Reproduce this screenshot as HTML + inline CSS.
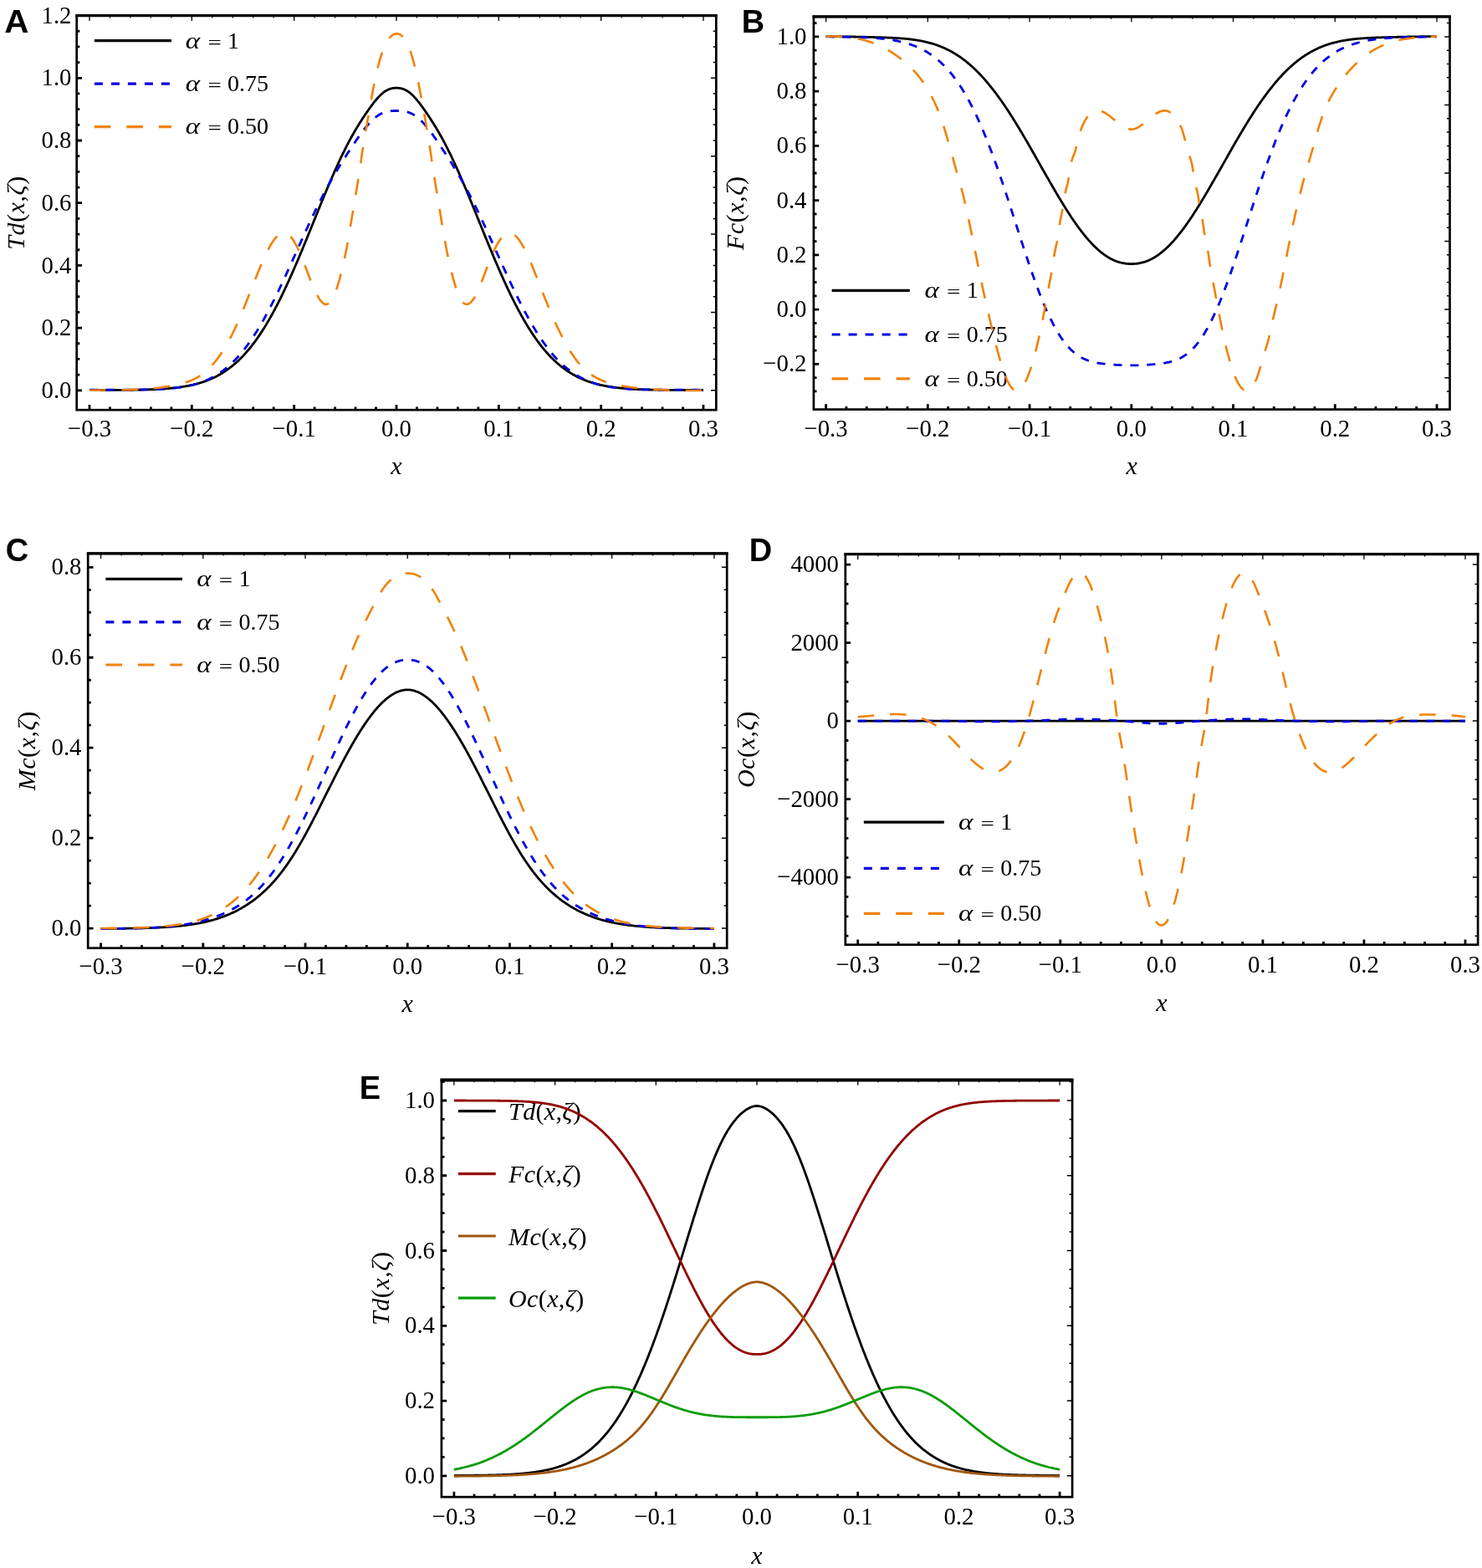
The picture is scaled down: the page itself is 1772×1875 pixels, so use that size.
<!DOCTYPE html>
<html><head><meta charset="utf-8"><title>Figure</title>
<style>
html,body{margin:0;padding:0;background:#fff;overflow:hidden;}
svg{display:block;}
.t{font-family:'Liberation Serif','Times New Roman',serif;font-size:30px;fill:#000;}
.lg{font-family:'Liberation Serif','Times New Roman',serif;font-size:28px;fill:#000;}
.yl{letter-spacing:0.55px;}
.el{letter-spacing:0.35px;}
.L{font-family:'Liberation Sans',Arial,sans-serif;font-size:38px;font-weight:bold;fill:#000;}
</style></head><body>
<svg width="1772" height="1875" viewBox="0 0 1772 1875">
<rect width="1772" height="1875" fill="#fff"/>
<path d="M107.00 490.20V483.90M229.33 490.20V483.90M351.67 490.20V483.90M474.00 490.20V483.90M596.33 490.20V483.90M718.67 490.20V483.90M841.00 490.20V483.90M131.47 490.20V486.60M155.93 490.20V486.60M180.40 490.20V486.60M204.87 490.20V486.60M253.80 490.20V486.60M278.27 490.20V486.60M302.73 490.20V486.60M327.20 490.20V486.60M376.13 490.20V486.60M400.60 490.20V486.60M425.07 490.20V486.60M449.53 490.20V486.60M498.47 490.20V486.60M522.93 490.20V486.60M547.40 490.20V486.60M571.87 490.20V486.60M620.80 490.20V486.60M645.27 490.20V486.60M669.73 490.20V486.60M694.20 490.20V486.60M743.13 490.20V486.60M767.60 490.20V486.60M792.07 490.20V486.60M816.53 490.20V486.60M91.70 466.80H98.00M91.70 392.10H98.00M91.70 317.40H98.00M91.70 242.70H98.00M91.70 168.00H98.00M91.70 93.30H98.00M91.70 18.60H98.00M91.70 448.12H95.30M91.70 429.45H95.30M91.70 410.77H95.30M91.70 373.43H95.30M91.70 354.75H95.30M91.70 336.07H95.30M91.70 298.73H95.30M91.70 280.05H95.30M91.70 261.38H95.30M91.70 224.03H95.30M91.70 205.35H95.30M91.70 186.68H95.30M91.70 149.32H95.30M91.70 130.65H95.30M91.70 111.97H95.30M91.70 74.62H95.30M91.70 55.95H95.30M91.70 37.27H95.30" stroke="#000" stroke-width="2.8" fill="none"/>
<path d="M107.00 18.60V24.90M229.33 18.60V24.90M351.67 18.60V24.90M474.00 18.60V24.90M596.33 18.60V24.90M718.67 18.60V24.90M841.00 18.60V24.90" stroke="#000" stroke-width="1.3" fill="none"/>
<path d="M131.47 18.60V21.40M155.93 18.60V21.40M180.40 18.60V21.40M204.87 18.60V21.40M253.80 18.60V21.40M278.27 18.60V21.40M302.73 18.60V21.40M327.20 18.60V21.40M376.13 18.60V21.40M400.60 18.60V21.40M425.07 18.60V21.40M449.53 18.60V21.40M498.47 18.60V21.40M522.93 18.60V21.40M547.40 18.60V21.40M571.87 18.60V21.40M620.80 18.60V21.40M645.27 18.60V21.40M669.73 18.60V21.40M694.20 18.60V21.40M743.13 18.60V21.40M767.60 18.60V21.40M792.07 18.60V21.40M816.53 18.60V21.40" stroke="#000" stroke-width="1.2" fill="none"/>
<path d="M856.30 466.80H850.00M856.30 373.43H850.00M856.30 280.05H850.00M856.30 186.68H850.00M856.30 93.30H850.00M856.30 448.12H852.70M856.30 429.45H852.70M856.30 410.77H852.70M856.30 392.10H852.70M856.30 354.75H852.70M856.30 336.07H852.70M856.30 317.40H852.70M856.30 298.73H852.70M856.30 261.38H852.70M856.30 242.70H852.70M856.30 224.03H852.70M856.30 205.35H852.70M856.30 168.00H852.70M856.30 149.32H852.70M856.30 130.65H852.70M856.30 111.97H852.70M856.30 74.62H852.70M856.30 55.95H852.70M856.30 37.27H852.70" stroke="#000" stroke-width="1.5" fill="none"/>
<rect x="91.70" y="18.60" width="764.60" height="471.60" fill="none" stroke="#000" stroke-width="2.7"/>
<path d="M90.35 18.60H857.65" stroke="#000" stroke-width="3.2" fill="none"/>
<text transform="translate(107.00 522.30) scale(0.96 1)" text-anchor="middle" class="t">−0.3</text>
<text transform="translate(229.33 522.30) scale(0.96 1)" text-anchor="middle" class="t">−0.2</text>
<text transform="translate(351.67 522.30) scale(0.96 1)" text-anchor="middle" class="t">−0.1</text>
<text transform="translate(474.00 522.30) scale(0.96 1)" text-anchor="middle" class="t">0.0</text>
<text transform="translate(596.33 522.30) scale(0.96 1)" text-anchor="middle" class="t">0.1</text>
<text transform="translate(718.67 522.30) scale(0.96 1)" text-anchor="middle" class="t">0.2</text>
<text transform="translate(841.00 522.30) scale(0.96 1)" text-anchor="middle" class="t">0.3</text>
<text transform="translate(85.50 475.90) scale(0.96 1)" text-anchor="end" class="t">0.0</text>
<text transform="translate(85.50 401.20) scale(0.96 1)" text-anchor="end" class="t">0.2</text>
<text transform="translate(85.50 326.50) scale(0.96 1)" text-anchor="end" class="t">0.4</text>
<text transform="translate(85.50 251.80) scale(0.96 1)" text-anchor="end" class="t">0.6</text>
<text transform="translate(85.50 177.10) scale(0.96 1)" text-anchor="end" class="t">0.8</text>
<text transform="translate(85.50 102.40) scale(0.96 1)" text-anchor="end" class="t">1.0</text>
<text transform="translate(85.50 27.70) scale(0.96 1)" text-anchor="end" class="t">1.2</text>
<text x="474.00" y="567.00" text-anchor="middle" class="t"><tspan font-style="italic">x</tspan></text>
<text transform="translate(28.60 254.40) rotate(-90)" text-anchor="middle" class="t yl"><tspan font-style="italic">Td</tspan>(<tspan font-style="italic">x</tspan>,<tspan font-style="italic">ζ</tspan>)</text>
<text transform="translate(5.20 38.50) scale(1.065 1.02)" class="L">A</text>
<path d="M987.60 489.60V483.30M1109.33 489.60V483.30M1231.07 489.60V483.30M1352.80 489.60V483.30M1474.53 489.60V483.30M1596.27 489.60V483.30M1718.00 489.60V483.30M1011.95 489.60V486.00M1036.29 489.60V486.00M1060.64 489.60V486.00M1084.99 489.60V486.00M1133.68 489.60V486.00M1158.03 489.60V486.00M1182.37 489.60V486.00M1206.72 489.60V486.00M1255.41 489.60V486.00M1279.76 489.60V486.00M1304.11 489.60V486.00M1328.45 489.60V486.00M1377.15 489.60V486.00M1401.49 489.60V486.00M1425.84 489.60V486.00M1450.19 489.60V486.00M1498.88 489.60V486.00M1523.23 489.60V486.00M1547.57 489.60V486.00M1571.92 489.60V486.00M1620.61 489.60V486.00M1644.96 489.60V486.00M1669.31 489.60V486.00M1693.65 489.60V486.00M972.90 435.34H979.20M972.90 370.10H979.20M972.90 304.86H979.20M972.90 239.62H979.20M972.90 174.38H979.20M972.90 109.14H979.20M972.90 43.90H979.20M972.90 467.96H976.50M972.90 451.65H976.50M972.90 419.03H976.50M972.90 402.72H976.50M972.90 386.41H976.50M972.90 353.79H976.50M972.90 337.48H976.50M972.90 321.17H976.50M972.90 288.55H976.50M972.90 272.24H976.50M972.90 255.93H976.50M972.90 223.31H976.50M972.90 207.00H976.50M972.90 190.69H976.50M972.90 158.07H976.50M972.90 141.76H976.50M972.90 125.45H976.50M972.90 92.83H976.50M972.90 76.52H976.50M972.90 60.21H976.50M972.90 27.59H976.50" stroke="#000" stroke-width="2.8" fill="none"/>
<path d="M987.60 19.90V26.20M1109.33 19.90V26.20M1231.07 19.90V26.20M1352.80 19.90V26.20M1474.53 19.90V26.20M1596.27 19.90V26.20M1718.00 19.90V26.20" stroke="#000" stroke-width="1.3" fill="none"/>
<path d="M1011.95 19.90V22.70M1036.29 19.90V22.70M1060.64 19.90V22.70M1084.99 19.90V22.70M1133.68 19.90V22.70M1158.03 19.90V22.70M1182.37 19.90V22.70M1206.72 19.90V22.70M1255.41 19.90V22.70M1279.76 19.90V22.70M1304.11 19.90V22.70M1328.45 19.90V22.70M1377.15 19.90V22.70M1401.49 19.90V22.70M1425.84 19.90V22.70M1450.19 19.90V22.70M1498.88 19.90V22.70M1523.23 19.90V22.70M1547.57 19.90V22.70M1571.92 19.90V22.70M1620.61 19.90V22.70M1644.96 19.90V22.70M1669.31 19.90V22.70M1693.65 19.90V22.70" stroke="#000" stroke-width="1.2" fill="none"/>
<path d="M1733.50 451.65H1727.20M1733.50 370.10H1727.20M1733.50 288.55H1727.20M1733.50 207.00H1727.20M1733.50 125.45H1727.20M1733.50 43.90H1727.20M1733.50 467.96H1729.90M1733.50 435.34H1729.90M1733.50 419.03H1729.90M1733.50 402.72H1729.90M1733.50 386.41H1729.90M1733.50 353.79H1729.90M1733.50 337.48H1729.90M1733.50 321.17H1729.90M1733.50 304.86H1729.90M1733.50 272.24H1729.90M1733.50 255.93H1729.90M1733.50 239.62H1729.90M1733.50 223.31H1729.90M1733.50 190.69H1729.90M1733.50 174.38H1729.90M1733.50 158.07H1729.90M1733.50 141.76H1729.90M1733.50 109.14H1729.90M1733.50 92.83H1729.90M1733.50 76.52H1729.90M1733.50 60.21H1729.90M1733.50 27.59H1729.90" stroke="#000" stroke-width="1.5" fill="none"/>
<rect x="972.90" y="19.90" width="760.60" height="469.70" fill="none" stroke="#000" stroke-width="2.7"/>
<path d="M971.55 19.90H1734.85" stroke="#000" stroke-width="3.2" fill="none"/>
<text transform="translate(987.60 522.30) scale(0.96 1)" text-anchor="middle" class="t">−0.3</text>
<text transform="translate(1109.33 522.30) scale(0.96 1)" text-anchor="middle" class="t">−0.2</text>
<text transform="translate(1231.07 522.30) scale(0.96 1)" text-anchor="middle" class="t">−0.1</text>
<text transform="translate(1352.80 522.30) scale(0.96 1)" text-anchor="middle" class="t">0.0</text>
<text transform="translate(1474.53 522.30) scale(0.96 1)" text-anchor="middle" class="t">0.1</text>
<text transform="translate(1596.27 522.30) scale(0.96 1)" text-anchor="middle" class="t">0.2</text>
<text transform="translate(1718.00 522.30) scale(0.96 1)" text-anchor="middle" class="t">0.3</text>
<text transform="translate(964.50 444.44) scale(0.96 1)" text-anchor="end" class="t">−0.2</text>
<text transform="translate(964.50 379.20) scale(0.96 1)" text-anchor="end" class="t">0.0</text>
<text transform="translate(964.50 313.96) scale(0.96 1)" text-anchor="end" class="t">0.2</text>
<text transform="translate(964.50 248.72) scale(0.96 1)" text-anchor="end" class="t">0.4</text>
<text transform="translate(964.50 183.48) scale(0.96 1)" text-anchor="end" class="t">0.6</text>
<text transform="translate(964.50 118.24) scale(0.96 1)" text-anchor="end" class="t">0.8</text>
<text transform="translate(964.50 53.00) scale(0.96 1)" text-anchor="end" class="t">1.0</text>
<text x="1353.20" y="567.00" text-anchor="middle" class="t"><tspan font-style="italic">x</tspan></text>
<text transform="translate(889.00 254.75) rotate(-90)" text-anchor="middle" class="t yl"><tspan font-style="italic">Fc</tspan>(<tspan font-style="italic">x</tspan>,<tspan font-style="italic">ζ</tspan>)</text>
<text x="886.70" y="38.50" class="L">B</text>
<path d="M120.60 1133.70V1127.40M242.82 1133.70V1127.40M365.03 1133.70V1127.40M487.25 1133.70V1127.40M609.47 1133.70V1127.40M731.68 1133.70V1127.40M853.90 1133.70V1127.40M145.04 1133.70V1130.10M169.49 1133.70V1130.10M193.93 1133.70V1130.10M218.37 1133.70V1130.10M267.26 1133.70V1130.10M291.70 1133.70V1130.10M316.15 1133.70V1130.10M340.59 1133.70V1130.10M389.48 1133.70V1130.10M413.92 1133.70V1130.10M438.36 1133.70V1130.10M462.81 1133.70V1130.10M511.69 1133.70V1130.10M536.14 1133.70V1130.10M560.58 1133.70V1130.10M585.02 1133.70V1130.10M633.91 1133.70V1130.10M658.35 1133.70V1130.10M682.80 1133.70V1130.10M707.24 1133.70V1130.10M756.13 1133.70V1130.10M780.57 1133.70V1130.10M805.01 1133.70V1130.10M829.46 1133.70V1130.10M105.20 1110.10H111.50M105.20 1002.15H111.50M105.20 894.20H111.50M105.20 786.25H111.50M105.20 678.30H111.50M105.20 1083.11H108.80M105.20 1056.12H108.80M105.20 1029.14H108.80M105.20 975.16H108.80M105.20 948.17H108.80M105.20 921.19H108.80M105.20 867.21H108.80M105.20 840.22H108.80M105.20 813.24H108.80M105.20 759.26H108.80M105.20 732.27H108.80M105.20 705.29H108.80" stroke="#000" stroke-width="2.8" fill="none"/>
<path d="M120.60 661.80V668.10M242.82 661.80V668.10M365.03 661.80V668.10M487.25 661.80V668.10M609.47 661.80V668.10M731.68 661.80V668.10M853.90 661.80V668.10" stroke="#000" stroke-width="1.3" fill="none"/>
<path d="M145.04 661.80V664.60M169.49 661.80V664.60M193.93 661.80V664.60M218.37 661.80V664.60M267.26 661.80V664.60M291.70 661.80V664.60M316.15 661.80V664.60M340.59 661.80V664.60M389.48 661.80V664.60M413.92 661.80V664.60M438.36 661.80V664.60M462.81 661.80V664.60M511.69 661.80V664.60M536.14 661.80V664.60M560.58 661.80V664.60M585.02 661.80V664.60M633.91 661.80V664.60M658.35 661.80V664.60M682.80 661.80V664.60M707.24 661.80V664.60M756.13 661.80V664.60M780.57 661.80V664.60M805.01 661.80V664.60M829.46 661.80V664.60" stroke="#000" stroke-width="1.2" fill="none"/>
<path d="M869.20 1110.10H862.90M869.20 1002.15H862.90M869.20 894.20H862.90M869.20 786.25H862.90M869.20 678.30H862.90M869.20 1083.11H865.60M869.20 1056.12H865.60M869.20 1029.14H865.60M869.20 975.16H865.60M869.20 948.17H865.60M869.20 921.19H865.60M869.20 867.21H865.60M869.20 840.22H865.60M869.20 813.24H865.60M869.20 759.26H865.60M869.20 732.27H865.60M869.20 705.29H865.60" stroke="#000" stroke-width="1.5" fill="none"/>
<rect x="105.20" y="661.80" width="764.00" height="471.90" fill="none" stroke="#000" stroke-width="2.7"/>
<path d="M103.85 661.80H870.55" stroke="#000" stroke-width="3.2" fill="none"/>
<text transform="translate(120.60 1165.30) scale(0.96 1)" text-anchor="middle" class="t">−0.3</text>
<text transform="translate(242.82 1165.30) scale(0.96 1)" text-anchor="middle" class="t">−0.2</text>
<text transform="translate(365.03 1165.30) scale(0.96 1)" text-anchor="middle" class="t">−0.1</text>
<text transform="translate(487.25 1165.30) scale(0.96 1)" text-anchor="middle" class="t">0.0</text>
<text transform="translate(609.47 1165.30) scale(0.96 1)" text-anchor="middle" class="t">0.1</text>
<text transform="translate(731.68 1165.30) scale(0.96 1)" text-anchor="middle" class="t">0.2</text>
<text transform="translate(853.90 1165.30) scale(0.96 1)" text-anchor="middle" class="t">0.3</text>
<text transform="translate(97.50 1119.20) scale(0.96 1)" text-anchor="end" class="t">0.0</text>
<text transform="translate(97.50 1011.25) scale(0.96 1)" text-anchor="end" class="t">0.2</text>
<text transform="translate(97.50 903.30) scale(0.96 1)" text-anchor="end" class="t">0.4</text>
<text transform="translate(97.50 795.35) scale(0.96 1)" text-anchor="end" class="t">0.6</text>
<text transform="translate(97.50 687.40) scale(0.96 1)" text-anchor="end" class="t">0.8</text>
<text x="487.20" y="1210.00" text-anchor="middle" class="t"><tspan font-style="italic">x</tspan></text>
<text transform="translate(42.00 897.75) rotate(-90)" text-anchor="middle" class="t yl"><tspan font-style="italic">Mc</tspan>(<tspan font-style="italic">x</tspan>,<tspan font-style="italic">ζ</tspan>)</text>
<text x="6.70" y="670.50" class="L">C</text>
<path d="M1025.70 1129.70V1123.40M1146.75 1129.70V1123.40M1267.80 1129.70V1123.40M1388.85 1129.70V1123.40M1509.90 1129.70V1123.40M1630.95 1129.70V1123.40M1752.00 1129.70V1123.40M1049.91 1129.70V1126.10M1074.12 1129.70V1126.10M1098.33 1129.70V1126.10M1122.54 1129.70V1126.10M1170.96 1129.70V1126.10M1195.17 1129.70V1126.10M1219.38 1129.70V1126.10M1243.59 1129.70V1126.10M1292.01 1129.70V1126.10M1316.22 1129.70V1126.10M1340.43 1129.70V1126.10M1364.64 1129.70V1126.10M1413.06 1129.70V1126.10M1437.27 1129.70V1126.10M1461.48 1129.70V1126.10M1485.69 1129.70V1126.10M1534.11 1129.70V1126.10M1558.32 1129.70V1126.10M1582.53 1129.70V1126.10M1606.74 1129.70V1126.10M1655.16 1129.70V1126.10M1679.37 1129.70V1126.10M1703.58 1129.70V1126.10M1727.79 1129.70V1126.10M1010.80 1049.10H1017.10M1010.80 955.60H1017.10M1010.80 862.10H1017.10M1010.80 768.60H1017.10M1010.80 675.10H1017.10M1010.80 1119.22H1014.40M1010.80 1095.85H1014.40M1010.80 1072.47H1014.40M1010.80 1025.72H1014.40M1010.80 1002.35H1014.40M1010.80 978.98H1014.40M1010.80 932.23H1014.40M1010.80 908.85H1014.40M1010.80 885.48H1014.40M1010.80 838.73H1014.40M1010.80 815.35H1014.40M1010.80 791.98H1014.40M1010.80 745.23H1014.40M1010.80 721.85H1014.40M1010.80 698.48H1014.40" stroke="#000" stroke-width="2.8" fill="none"/>
<path d="M1025.70 662.70V669.00M1146.75 662.70V669.00M1267.80 662.70V669.00M1388.85 662.70V669.00M1509.90 662.70V669.00M1630.95 662.70V669.00M1752.00 662.70V669.00" stroke="#000" stroke-width="1.3" fill="none"/>
<path d="M1049.91 662.70V665.50M1074.12 662.70V665.50M1098.33 662.70V665.50M1122.54 662.70V665.50M1170.96 662.70V665.50M1195.17 662.70V665.50M1219.38 662.70V665.50M1243.59 662.70V665.50M1292.01 662.70V665.50M1316.22 662.70V665.50M1340.43 662.70V665.50M1364.64 662.70V665.50M1413.06 662.70V665.50M1437.27 662.70V665.50M1461.48 662.70V665.50M1485.69 662.70V665.50M1534.11 662.70V665.50M1558.32 662.70V665.50M1582.53 662.70V665.50M1606.74 662.70V665.50M1655.16 662.70V665.50M1679.37 662.70V665.50M1703.58 662.70V665.50M1727.79 662.70V665.50" stroke="#000" stroke-width="1.2" fill="none"/>
<path d="M1767.10 1049.10H1760.80M1767.10 955.60H1760.80M1767.10 862.10H1760.80M1767.10 768.60H1760.80M1767.10 675.10H1760.80M1767.10 1119.22H1763.50M1767.10 1095.85H1763.50M1767.10 1072.47H1763.50M1767.10 1025.72H1763.50M1767.10 1002.35H1763.50M1767.10 978.98H1763.50M1767.10 932.23H1763.50M1767.10 908.85H1763.50M1767.10 885.48H1763.50M1767.10 838.73H1763.50M1767.10 815.35H1763.50M1767.10 791.98H1763.50M1767.10 745.23H1763.50M1767.10 721.85H1763.50M1767.10 698.48H1763.50" stroke="#000" stroke-width="1.5" fill="none"/>
<rect x="1010.80" y="662.70" width="756.30" height="467.00" fill="none" stroke="#000" stroke-width="2.7"/>
<path d="M1009.45 662.70H1768.45" stroke="#000" stroke-width="3.2" fill="none"/>
<text transform="translate(1025.70 1162.80) scale(0.96 1)" text-anchor="middle" class="t">−0.3</text>
<text transform="translate(1146.75 1162.80) scale(0.96 1)" text-anchor="middle" class="t">−0.2</text>
<text transform="translate(1267.80 1162.80) scale(0.96 1)" text-anchor="middle" class="t">−0.1</text>
<text transform="translate(1388.85 1162.80) scale(0.96 1)" text-anchor="middle" class="t">0.0</text>
<text transform="translate(1509.90 1162.80) scale(0.96 1)" text-anchor="middle" class="t">0.1</text>
<text transform="translate(1630.95 1162.80) scale(0.96 1)" text-anchor="middle" class="t">0.2</text>
<text transform="translate(1752.00 1162.80) scale(0.96 1)" text-anchor="middle" class="t">0.3</text>
<text transform="translate(1003.00 1058.20) scale(0.96 1)" text-anchor="end" class="t">−4000</text>
<text transform="translate(1003.00 964.70) scale(0.96 1)" text-anchor="end" class="t">−2000</text>
<text transform="translate(1003.00 871.20) scale(0.96 1)" text-anchor="end" class="t">0</text>
<text transform="translate(1003.00 777.70) scale(0.96 1)" text-anchor="end" class="t">2000</text>
<text transform="translate(1003.00 684.20) scale(0.96 1)" text-anchor="end" class="t">4000</text>
<text x="1388.95" y="1209.00" text-anchor="middle" class="t"><tspan font-style="italic">x</tspan></text>
<text transform="translate(902.00 896.20) rotate(-90)" text-anchor="middle" class="t yl"><tspan font-style="italic">Oc</tspan>(<tspan font-style="italic">x</tspan>,<tspan font-style="italic">ζ</tspan>)</text>
<text x="895.70" y="670.50" class="L">D</text>
<path d="M542.90 1790.10V1783.80M663.60 1790.10V1783.80M784.30 1790.10V1783.80M905.00 1790.10V1783.80M1025.70 1790.10V1783.80M1146.40 1790.10V1783.80M1267.10 1790.10V1783.80M567.04 1790.10V1786.50M591.18 1790.10V1786.50M615.32 1790.10V1786.50M639.46 1790.10V1786.50M687.74 1790.10V1786.50M711.88 1790.10V1786.50M736.02 1790.10V1786.50M760.16 1790.10V1786.50M808.44 1790.10V1786.50M832.58 1790.10V1786.50M856.72 1790.10V1786.50M880.86 1790.10V1786.50M929.14 1790.10V1786.50M953.28 1790.10V1786.50M977.42 1790.10V1786.50M1001.56 1790.10V1786.50M1049.84 1790.10V1786.50M1073.98 1790.10V1786.50M1098.12 1790.10V1786.50M1122.26 1790.10V1786.50M1170.54 1790.10V1786.50M1194.68 1790.10V1786.50M1218.82 1790.10V1786.50M1242.96 1790.10V1786.50M527.90 1764.80H534.20M527.90 1675.04H534.20M527.90 1585.28H534.20M527.90 1495.52H534.20M527.90 1405.76H534.20M527.90 1316.00H534.20M527.90 1742.36H531.50M527.90 1719.92H531.50M527.90 1697.48H531.50M527.90 1652.60H531.50M527.90 1630.16H531.50M527.90 1607.72H531.50M527.90 1562.84H531.50M527.90 1540.40H531.50M527.90 1517.96H531.50M527.90 1473.08H531.50M527.90 1450.64H531.50M527.90 1428.20H531.50M527.90 1383.32H531.50M527.90 1360.88H531.50M527.90 1338.44H531.50M527.90 1293.56H531.50" stroke="#000" stroke-width="2.8" fill="none"/>
<path d="M542.90 1291.50V1297.80M663.60 1291.50V1297.80M784.30 1291.50V1297.80M905.00 1291.50V1297.80M1025.70 1291.50V1297.80M1146.40 1291.50V1297.80M1267.10 1291.50V1297.80" stroke="#000" stroke-width="1.3" fill="none"/>
<path d="M567.04 1291.50V1294.30M591.18 1291.50V1294.30M615.32 1291.50V1294.30M639.46 1291.50V1294.30M687.74 1291.50V1294.30M711.88 1291.50V1294.30M736.02 1291.50V1294.30M760.16 1291.50V1294.30M808.44 1291.50V1294.30M832.58 1291.50V1294.30M856.72 1291.50V1294.30M880.86 1291.50V1294.30M929.14 1291.50V1294.30M953.28 1291.50V1294.30M977.42 1291.50V1294.30M1001.56 1291.50V1294.30M1049.84 1291.50V1294.30M1073.98 1291.50V1294.30M1098.12 1291.50V1294.30M1122.26 1291.50V1294.30M1170.54 1291.50V1294.30M1194.68 1291.50V1294.30M1218.82 1291.50V1294.30M1242.96 1291.50V1294.30" stroke="#000" stroke-width="1.2" fill="none"/>
<path d="M1282.10 1764.80H1275.80M1282.10 1675.04H1275.80M1282.10 1585.28H1275.80M1282.10 1495.52H1275.80M1282.10 1405.76H1275.80M1282.10 1316.00H1275.80M1282.10 1742.36H1278.50M1282.10 1719.92H1278.50M1282.10 1697.48H1278.50M1282.10 1652.60H1278.50M1282.10 1630.16H1278.50M1282.10 1607.72H1278.50M1282.10 1562.84H1278.50M1282.10 1540.40H1278.50M1282.10 1517.96H1278.50M1282.10 1473.08H1278.50M1282.10 1450.64H1278.50M1282.10 1428.20H1278.50M1282.10 1383.32H1278.50M1282.10 1360.88H1278.50M1282.10 1338.44H1278.50M1282.10 1293.56H1278.50" stroke="#000" stroke-width="1.5" fill="none"/>
<rect x="527.90" y="1291.50" width="754.20" height="498.60" fill="none" stroke="#000" stroke-width="2.7"/>
<path d="M526.55 1291.50H1283.45" stroke="#000" stroke-width="3.8" fill="none"/>
<text transform="translate(542.90 1823.30) scale(0.96 1)" text-anchor="middle" class="t">−0.3</text>
<text transform="translate(663.60 1823.30) scale(0.96 1)" text-anchor="middle" class="t">−0.2</text>
<text transform="translate(784.30 1823.30) scale(0.96 1)" text-anchor="middle" class="t">−0.1</text>
<text transform="translate(905.00 1823.30) scale(0.96 1)" text-anchor="middle" class="t">0.0</text>
<text transform="translate(1025.70 1823.30) scale(0.96 1)" text-anchor="middle" class="t">0.1</text>
<text transform="translate(1146.40 1823.30) scale(0.96 1)" text-anchor="middle" class="t">0.2</text>
<text transform="translate(1267.10 1823.30) scale(0.96 1)" text-anchor="middle" class="t">0.3</text>
<text transform="translate(520.00 1773.90) scale(0.96 1)" text-anchor="end" class="t">0.0</text>
<text transform="translate(520.00 1684.14) scale(0.96 1)" text-anchor="end" class="t">0.2</text>
<text transform="translate(520.00 1594.38) scale(0.96 1)" text-anchor="end" class="t">0.4</text>
<text transform="translate(520.00 1504.62) scale(0.96 1)" text-anchor="end" class="t">0.6</text>
<text transform="translate(520.00 1414.86) scale(0.96 1)" text-anchor="end" class="t">0.8</text>
<text transform="translate(520.00 1325.10) scale(0.96 1)" text-anchor="end" class="t">1.0</text>
<text x="905.00" y="1869.70" text-anchor="middle" class="t"><tspan font-style="italic">x</tspan></text>
<text transform="translate(465.00 1540.80) rotate(-90)" text-anchor="middle" class="t yl"><tspan font-style="italic">Td</tspan>(<tspan font-style="italic">x</tspan>,<tspan font-style="italic">ζ</tspan>)</text>
<text x="429.70" y="1313.80" class="L">E</text>
<path d="M112.9 48.7H205.0" stroke="#000" stroke-width="3.2" fill="none"/>
<text transform="translate(221.8 57.5) scale(1.18 1)" class="lg" font-style="italic">α</text>
<text transform="translate(248.4 57.5) scale(1.16 0.8)" class="lg" style="font-size:25px">=</text>
<text x="272.1" y="57.5" class="lg">1</text>
<path d="M112.9 100.2H205.0" stroke="#0000e0" stroke-width="3.2" fill="none" stroke-dasharray="10 10"/>
<text transform="translate(221.8 109.0) scale(1.18 1)" class="lg" font-style="italic">α</text>
<text transform="translate(248.4 109.0) scale(1.16 0.8)" class="lg" style="font-size:25px">=</text>
<text x="272.1" y="109.0" class="lg">0.75</text>
<path d="M112.9 151.6H205.0" stroke="#f08205" stroke-width="3.2" fill="none" stroke-dasharray="19.5 19"/>
<text transform="translate(221.8 160.4) scale(1.18 1)" class="lg" font-style="italic">α</text>
<text transform="translate(248.4 160.4) scale(1.16 0.8)" class="lg" style="font-size:25px">=</text>
<text x="272.1" y="160.4" class="lg">0.50</text>
<path d="M994.6 347.4H1087.8" stroke="#000" stroke-width="3.2" fill="none"/>
<text transform="translate(1105.4 356.2) scale(1.18 1)" class="lg" font-style="italic">α</text>
<text transform="translate(1132.0 356.2) scale(1.16 0.8)" class="lg" style="font-size:25px">=</text>
<text x="1155.7" y="356.2" class="lg">1</text>
<path d="M994.6 400.0H1087.8" stroke="#0000e0" stroke-width="3.2" fill="none" stroke-dasharray="10 10"/>
<text transform="translate(1105.4 408.8) scale(1.18 1)" class="lg" font-style="italic">α</text>
<text transform="translate(1132.0 408.8) scale(1.16 0.8)" class="lg" style="font-size:25px">=</text>
<text x="1155.7" y="408.8" class="lg">0.75</text>
<path d="M994.6 452.8H1087.8" stroke="#f08205" stroke-width="3.2" fill="none" stroke-dasharray="19.5 19"/>
<text transform="translate(1105.4 461.6) scale(1.18 1)" class="lg" font-style="italic">α</text>
<text transform="translate(1132.0 461.6) scale(1.16 0.8)" class="lg" style="font-size:25px">=</text>
<text x="1155.7" y="461.6" class="lg">0.50</text>
<path d="M126.4 692.3H218.0" stroke="#000" stroke-width="3.2" fill="none"/>
<text transform="translate(235.2 701.1) scale(1.18 1)" class="lg" font-style="italic">α</text>
<text transform="translate(261.8 701.1) scale(1.16 0.8)" class="lg" style="font-size:25px">=</text>
<text x="285.5" y="701.1" class="lg">1</text>
<path d="M126.4 743.8H218.0" stroke="#0000e0" stroke-width="3.2" fill="none" stroke-dasharray="10 10"/>
<text transform="translate(235.2 752.6) scale(1.18 1)" class="lg" font-style="italic">α</text>
<text transform="translate(261.8 752.6) scale(1.16 0.8)" class="lg" style="font-size:25px">=</text>
<text x="285.5" y="752.6" class="lg">0.75</text>
<path d="M126.4 795.0H218.0" stroke="#f08205" stroke-width="3.2" fill="none" stroke-dasharray="19.5 19"/>
<text transform="translate(235.2 803.8) scale(1.18 1)" class="lg" font-style="italic">α</text>
<text transform="translate(261.8 803.8) scale(1.16 0.8)" class="lg" style="font-size:25px">=</text>
<text x="285.5" y="803.8" class="lg">0.50</text>
<path d="M1032.8 983.2H1128.8" stroke="#000" stroke-width="3.2" fill="none"/>
<text transform="translate(1146.0 992.0) scale(1.18 1)" class="lg" font-style="italic">α</text>
<text transform="translate(1172.6 992.0) scale(1.16 0.8)" class="lg" style="font-size:25px">=</text>
<text x="1196.3" y="992.0" class="lg">1</text>
<path d="M1032.8 1038.4H1128.8" stroke="#0000e0" stroke-width="3.2" fill="none" stroke-dasharray="10 10"/>
<text transform="translate(1146.0 1047.2) scale(1.18 1)" class="lg" font-style="italic">α</text>
<text transform="translate(1172.6 1047.2) scale(1.16 0.8)" class="lg" style="font-size:25px">=</text>
<text x="1196.3" y="1047.2" class="lg">0.75</text>
<path d="M1032.8 1092.4H1128.8" stroke="#f08205" stroke-width="3.2" fill="none" stroke-dasharray="19.5 19"/>
<text transform="translate(1146.0 1101.2) scale(1.18 1)" class="lg" font-style="italic">α</text>
<text transform="translate(1172.6 1101.2) scale(1.16 0.8)" class="lg" style="font-size:25px">=</text>
<text x="1196.3" y="1101.2" class="lg">0.50</text>
<path d="M547.9 1328.7H592.7" stroke="#000" stroke-width="3.2" fill="none"/>
<text x="608.1" y="1339.2" class="t el"><tspan font-style="italic">Td</tspan>(<tspan font-style="italic">x</tspan>,<tspan font-style="italic">ζ</tspan>)</text>
<path d="M547.9 1403.7H592.7" stroke="#930000" stroke-width="3.2" fill="none"/>
<text x="608.1" y="1414.2" class="t el"><tspan font-style="italic">Fc</tspan>(<tspan font-style="italic">x</tspan>,<tspan font-style="italic">ζ</tspan>)</text>
<path d="M547.9 1478.0H592.7" stroke="#a0560c" stroke-width="3.2" fill="none"/>
<text x="608.1" y="1488.5" class="t el"><tspan font-style="italic">Mc</tspan>(<tspan font-style="italic">x</tspan>,<tspan font-style="italic">ζ</tspan>)</text>
<path d="M547.9 1552.2H592.7" stroke="#0a9c0a" stroke-width="3.2" fill="none"/>
<text x="608.1" y="1562.7" class="t el"><tspan font-style="italic">Oc</tspan>(<tspan font-style="italic">x</tspan>,<tspan font-style="italic">ζ</tspan>)</text>
<path d="M107.0 466.53 L108.0 466.52 L109.0 466.52 L110.0 466.52 L111.0 466.52 L112.0 466.52 L113.0 466.52 L114.0 466.52 L115.0 466.51 L116.0 466.51 L117.0 466.51 L118.0 466.51 L119.0 466.51 L120.0 466.51 L121.0 466.50 L122.0 466.50 L123.0 466.50 L124.0 466.50 L125.0 466.49 L126.0 466.49 L127.0 466.49 L128.0 466.48 L129.0 466.48 L130.0 466.48 L131.0 466.47 L132.0 466.47 L133.0 466.47 L134.0 466.46 L135.0 466.46 L136.0 466.45 L137.0 466.45 L138.0 466.44 L139.0 466.44 L140.0 466.43 L141.0 466.42 L142.0 466.42 L143.0 466.41 L144.0 466.40 L145.0 466.40 L146.0 466.39 L147.0 466.38 L148.0 466.37 L149.0 466.36 L150.0 466.35 L151.0 466.34 L152.0 466.33 L153.0 466.32 L154.0 466.31 L155.0 466.30 L156.0 466.29 L157.0 466.27 L158.0 466.26 L159.0 466.25 L160.0 466.23 L161.0 466.22 L162.0 466.20 L163.0 466.18 L164.0 466.16 L165.0 466.14 L166.0 466.12 L167.0 466.10 L168.0 466.08 L169.0 466.06 L170.0 466.04 L171.0 466.01 L172.0 465.99 L173.0 465.96 L174.0 465.93 L175.0 465.90 L176.0 465.87 L177.0 465.84 L178.0 465.81 L179.0 465.77 L180.0 465.74 L181.0 465.70 L182.0 465.66 L183.0 465.62 L184.0 465.58 L185.0 465.53 L186.0 465.49 L187.0 465.44 L188.0 465.39 L189.0 465.34 L190.0 465.28 L191.0 465.23 L192.0 465.17 L193.0 465.11 L194.0 465.05 L195.0 464.98 L196.0 464.91 L197.0 464.84 L198.0 464.77 L199.0 464.69 L200.0 464.61 L201.0 464.53 L202.0 464.44 L203.0 464.36 L204.0 464.26 L205.0 464.17 L206.0 464.07 L207.0 463.97 L208.0 463.86 L209.0 463.75 L210.0 463.64 L211.0 463.52 L212.0 463.39 L213.0 463.27 L214.0 463.14 L215.0 463.00 L216.0 462.86 L217.0 462.71 L218.0 462.56 L219.0 462.41 L220.0 462.24 L221.0 462.08 L222.0 461.90 L223.0 461.73 L224.0 461.54 L225.0 461.35 L226.0 461.15 L227.0 460.95 L228.0 460.74 L229.0 460.52 L230.0 460.30 L231.0 460.07 L232.0 459.83 L233.0 459.59 L234.0 459.33 L235.0 459.07 L236.0 458.80 L237.0 458.53 L238.0 458.24 L239.0 457.94 L240.0 457.64 L241.0 457.33 L242.0 457.01 L243.0 456.68 L244.0 456.33 L245.0 455.98 L246.0 455.62 L247.0 455.25 L248.0 454.87 L249.0 454.48 L250.0 454.07 L251.0 453.66 L252.0 453.23 L253.0 452.79 L254.0 452.34 L255.0 451.88 L256.0 451.41 L257.0 450.92 L258.0 450.42 L259.0 449.91 L260.0 449.38 L261.0 448.84 L262.0 448.29 L263.0 447.72 L264.0 447.14 L265.0 446.54 L266.0 445.93 L267.0 445.30 L268.0 444.66 L269.0 444.00 L270.0 443.33 L271.0 442.64 L272.0 441.94 L273.0 441.22 L274.0 440.48 L275.0 439.73 L276.0 438.95 L277.0 438.16 L278.0 437.36 L279.0 436.53 L280.0 435.69 L281.0 434.83 L282.0 433.95 L283.0 433.05 L284.0 432.14 L285.0 431.20 L286.0 430.25 L287.0 429.27 L288.0 428.28 L289.0 427.27 L290.0 426.23 L291.0 425.18 L292.0 424.11 L293.0 423.01 L294.0 421.90 L295.0 420.76 L296.0 419.60 L297.0 418.43 L298.0 417.23 L299.0 416.01 L300.0 414.76 L301.0 413.50 L302.0 412.21 L303.0 410.91 L304.0 409.58 L305.0 408.23 L306.0 406.85 L307.0 405.46 L308.0 404.04 L309.0 402.60 L310.0 401.14 L311.0 399.65 L312.0 398.14 L313.0 396.61 L314.0 395.06 L315.0 393.49 L316.0 391.89 L317.0 390.27 L318.0 388.63 L319.0 386.97 L320.0 385.28 L321.0 383.57 L322.0 381.84 L323.0 380.09 L324.0 378.31 L325.0 376.52 L326.0 374.70 L327.0 372.86 L328.0 371.00 L329.0 369.12 L330.0 367.22 L331.0 365.30 L332.0 363.35 L333.0 361.39 L334.0 359.40 L335.0 357.40 L336.0 355.37 L337.0 353.33 L338.0 351.27 L339.0 349.19 L340.0 347.09 L341.0 344.97 L342.0 342.83 L343.0 340.68 L344.0 338.51 L345.0 336.32 L346.0 334.12 L347.0 331.89 L348.0 329.66 L349.0 327.41 L350.0 325.14 L351.0 322.86 L352.0 320.56 L353.0 318.26 L354.0 315.94 L355.0 313.60 L356.0 311.26 L357.0 308.90 L358.0 306.53 L359.0 304.15 L360.0 301.76 L361.0 299.36 L362.0 296.96 L363.0 294.54 L364.0 292.12 L365.0 289.69 L366.0 287.25 L367.0 284.80 L368.0 282.36 L369.0 279.90 L370.0 277.45 L371.0 274.99 L372.0 272.52 L373.0 270.06 L374.0 267.59 L375.0 265.12 L376.0 262.65 L377.0 260.19 L378.0 257.72 L379.0 255.25 L380.0 252.79 L381.0 250.33 L382.0 247.88 L383.0 245.43 L384.0 242.98 L385.0 240.55 L386.0 238.11 L387.0 235.69 L388.0 233.27 L389.0 230.87 L390.0 228.47 L391.0 226.08 L392.0 223.70 L393.0 221.34 L394.0 218.99 L395.0 216.65 L396.0 214.32 L397.0 212.01 L398.0 209.72 L399.0 207.44 L400.0 205.18 L401.0 202.93 L402.0 200.70 L403.0 198.49 L404.0 196.30 L405.0 194.13 L406.0 191.98 L407.0 189.85 L408.0 187.75 L409.0 185.66 L410.0 183.60 L411.0 181.56 L412.0 179.54 L413.0 177.55 L414.0 175.58 L415.0 173.64 L416.0 171.72 L417.0 169.82 L418.0 167.95 L419.0 166.11 L420.0 164.29 L421.0 162.49 L422.0 160.72 L423.0 158.97 L424.0 157.24 L425.0 155.54 L426.0 153.85 L427.0 152.19 L428.0 150.55 L429.0 148.93 L430.0 147.33 L431.0 145.74 L432.0 144.18 L433.0 142.63 L434.0 141.09 L435.0 139.57 L436.0 138.07 L437.0 136.58 L438.0 135.11 L439.0 133.66 L440.0 132.22 L441.0 130.79 L442.0 129.39 L443.0 128.00 L444.0 126.64 L445.0 125.30 L446.0 123.98 L447.0 122.69 L448.0 121.42 L449.0 120.19 L450.0 119.00 L451.0 117.84 L452.0 116.72 L453.0 115.64 L454.0 114.61 L455.0 113.62 L456.0 112.68 L457.0 111.80 L458.0 110.97 L459.0 110.19 L460.0 109.48 L461.0 108.81 L462.0 108.21 L463.0 107.67 L464.0 107.18 L465.0 106.75 L466.0 106.38 L467.0 106.06 L468.0 105.80 L469.0 105.59 L470.0 105.43 L471.0 105.31 L472.0 105.24 L473.0 105.20 L474.0 105.19 L475.0 105.20 L476.0 105.24 L477.0 105.31 L478.0 105.43 L479.0 105.59 L480.0 105.80 L481.0 106.06 L482.0 106.38 L483.0 106.75 L484.0 107.18 L485.0 107.67 L486.0 108.21 L487.0 108.81 L488.0 109.48 L489.0 110.19 L490.0 110.97 L491.0 111.80 L492.0 112.68 L493.0 113.62 L494.0 114.61 L495.0 115.64 L496.0 116.72 L497.0 117.84 L498.0 119.00 L499.0 120.19 L500.0 121.42 L501.0 122.69 L502.0 123.98 L503.0 125.30 L504.0 126.64 L505.0 128.00 L506.0 129.39 L507.0 130.79 L508.0 132.22 L509.0 133.66 L510.0 135.11 L511.0 136.58 L512.0 138.07 L513.0 139.57 L514.0 141.09 L515.0 142.63 L516.0 144.18 L517.0 145.74 L518.0 147.33 L519.0 148.93 L520.0 150.55 L521.0 152.19 L522.0 153.85 L523.0 155.54 L524.0 157.24 L525.0 158.97 L526.0 160.72 L527.0 162.49 L528.0 164.29 L529.0 166.11 L530.0 167.95 L531.0 169.82 L532.0 171.72 L533.0 173.64 L534.0 175.58 L535.0 177.55 L536.0 179.54 L537.0 181.56 L538.0 183.60 L539.0 185.66 L540.0 187.75 L541.0 189.85 L542.0 191.98 L543.0 194.13 L544.0 196.30 L545.0 198.49 L546.0 200.70 L547.0 202.93 L548.0 205.18 L549.0 207.44 L550.0 209.72 L551.0 212.01 L552.0 214.32 L553.0 216.65 L554.0 218.99 L555.0 221.34 L556.0 223.70 L557.0 226.08 L558.0 228.47 L559.0 230.87 L560.0 233.27 L561.0 235.69 L562.0 238.11 L563.0 240.55 L564.0 242.98 L565.0 245.43 L566.0 247.88 L567.0 250.33 L568.0 252.79 L569.0 255.25 L570.0 257.72 L571.0 260.19 L572.0 262.65 L573.0 265.12 L574.0 267.59 L575.0 270.06 L576.0 272.52 L577.0 274.99 L578.0 277.45 L579.0 279.90 L580.0 282.36 L581.0 284.80 L582.0 287.25 L583.0 289.69 L584.0 292.12 L585.0 294.54 L586.0 296.96 L587.0 299.36 L588.0 301.76 L589.0 304.15 L590.0 306.53 L591.0 308.90 L592.0 311.26 L593.0 313.60 L594.0 315.94 L595.0 318.26 L596.0 320.56 L597.0 322.86 L598.0 325.14 L599.0 327.41 L600.0 329.66 L601.0 331.89 L602.0 334.12 L603.0 336.32 L604.0 338.51 L605.0 340.68 L606.0 342.83 L607.0 344.97 L608.0 347.09 L609.0 349.19 L610.0 351.27 L611.0 353.33 L612.0 355.37 L613.0 357.40 L614.0 359.40 L615.0 361.39 L616.0 363.35 L617.0 365.30 L618.0 367.22 L619.0 369.12 L620.0 371.00 L621.0 372.86 L622.0 374.70 L623.0 376.52 L624.0 378.31 L625.0 380.09 L626.0 381.84 L627.0 383.57 L628.0 385.28 L629.0 386.97 L630.0 388.63 L631.0 390.27 L632.0 391.89 L633.0 393.49 L634.0 395.06 L635.0 396.61 L636.0 398.14 L637.0 399.65 L638.0 401.14 L639.0 402.60 L640.0 404.04 L641.0 405.46 L642.0 406.85 L643.0 408.23 L644.0 409.58 L645.0 410.91 L646.0 412.21 L647.0 413.50 L648.0 414.76 L649.0 416.01 L650.0 417.23 L651.0 418.43 L652.0 419.60 L653.0 420.76 L654.0 421.90 L655.0 423.01 L656.0 424.11 L657.0 425.18 L658.0 426.23 L659.0 427.27 L660.0 428.28 L661.0 429.27 L662.0 430.25 L663.0 431.20 L664.0 432.14 L665.0 433.05 L666.0 433.95 L667.0 434.83 L668.0 435.69 L669.0 436.53 L670.0 437.36 L671.0 438.16 L672.0 438.95 L673.0 439.73 L674.0 440.48 L675.0 441.22 L676.0 441.94 L677.0 442.64 L678.0 443.33 L679.0 444.00 L680.0 444.66 L681.0 445.30 L682.0 445.93 L683.0 446.54 L684.0 447.14 L685.0 447.72 L686.0 448.29 L687.0 448.84 L688.0 449.38 L689.0 449.91 L690.0 450.42 L691.0 450.92 L692.0 451.41 L693.0 451.88 L694.0 452.34 L695.0 452.79 L696.0 453.23 L697.0 453.66 L698.0 454.07 L699.0 454.48 L700.0 454.87 L701.0 455.25 L702.0 455.62 L703.0 455.98 L704.0 456.33 L705.0 456.68 L706.0 457.01 L707.0 457.33 L708.0 457.64 L709.0 457.94 L710.0 458.24 L711.0 458.53 L712.0 458.80 L713.0 459.07 L714.0 459.33 L715.0 459.59 L716.0 459.83 L717.0 460.07 L718.0 460.30 L719.0 460.52 L720.0 460.74 L721.0 460.95 L722.0 461.15 L723.0 461.35 L724.0 461.54 L725.0 461.73 L726.0 461.90 L727.0 462.08 L728.0 462.24 L729.0 462.41 L730.0 462.56 L731.0 462.71 L732.0 462.86 L733.0 463.00 L734.0 463.14 L735.0 463.27 L736.0 463.39 L737.0 463.52 L738.0 463.64 L739.0 463.75 L740.0 463.86 L741.0 463.97 L742.0 464.07 L743.0 464.17 L744.0 464.26 L745.0 464.36 L746.0 464.44 L747.0 464.53 L748.0 464.61 L749.0 464.69 L750.0 464.77 L751.0 464.84 L752.0 464.91 L753.0 464.98 L754.0 465.05 L755.0 465.11 L756.0 465.17 L757.0 465.23 L758.0 465.28 L759.0 465.34 L760.0 465.39 L761.0 465.44 L762.0 465.49 L763.0 465.53 L764.0 465.58 L765.0 465.62 L766.0 465.66 L767.0 465.70 L768.0 465.74 L769.0 465.77 L770.0 465.81 L771.0 465.84 L772.0 465.87 L773.0 465.90 L774.0 465.93 L775.0 465.96 L776.0 465.99 L777.0 466.01 L778.0 466.04 L779.0 466.06 L780.0 466.08 L781.0 466.10 L782.0 466.12 L783.0 466.14 L784.0 466.16 L785.0 466.18 L786.0 466.20 L787.0 466.22 L788.0 466.23 L789.0 466.25 L790.0 466.26 L791.0 466.27 L792.0 466.29 L793.0 466.30 L794.0 466.31 L795.0 466.32 L796.0 466.33 L797.0 466.34 L798.0 466.35 L799.0 466.36 L800.0 466.37 L801.0 466.38 L802.0 466.39 L803.0 466.40 L804.0 466.40 L805.0 466.41 L806.0 466.42 L807.0 466.42 L808.0 466.43 L809.0 466.44 L810.0 466.44 L811.0 466.45 L812.0 466.45 L813.0 466.46 L814.0 466.46 L815.0 466.47 L816.0 466.47 L817.0 466.47 L818.0 466.48 L819.0 466.48 L820.0 466.48 L821.0 466.49 L822.0 466.49 L823.0 466.49 L824.0 466.50 L825.0 466.50 L826.0 466.50 L827.0 466.50 L828.0 466.51 L829.0 466.51 L830.0 466.51 L831.0 466.51 L832.0 466.51 L833.0 466.51 L834.0 466.52 L835.0 466.52 L836.0 466.52 L837.0 466.52 L838.0 466.52 L839.0 466.52 L840.0 466.52 L841.0 466.53" fill="none" stroke="#000" stroke-width="2.8" stroke-linejoin="round"/>
<path d="M107.0 466.23 L108.0 466.23 L109.0 466.23 L110.0 466.23 L111.0 466.23 L112.0 466.23 L113.0 466.23 L114.0 466.23 L115.0 466.22 L116.0 466.22 L117.0 466.22 L118.0 466.22 L119.0 466.22 L120.0 466.22 L121.0 466.22 L122.0 466.22 L123.0 466.22 L124.0 466.22 L125.0 466.22 L126.0 466.22 L127.0 466.22 L128.0 466.21 L129.0 466.21 L130.0 466.21 L131.0 466.21 L132.0 466.21 L133.0 466.21 L134.0 466.20 L135.0 466.20 L136.0 466.20 L137.0 466.20 L138.0 466.20 L139.0 466.19 L140.0 466.19 L141.0 466.19 L142.0 466.18 L143.0 466.18 L144.0 466.18 L145.0 466.17 L146.0 466.17 L147.0 466.17 L148.0 466.16 L149.0 466.16 L150.0 466.15 L151.0 466.15 L152.0 466.14 L153.0 466.13 L154.0 466.13 L155.0 466.12 L156.0 466.11 L157.0 466.11 L158.0 466.10 L159.0 466.09 L160.0 466.08 L161.0 466.07 L162.0 466.06 L163.0 466.05 L164.0 466.04 L165.0 466.02 L166.0 466.01 L167.0 466.00 L168.0 465.98 L169.0 465.97 L170.0 465.95 L171.0 465.93 L172.0 465.92 L173.0 465.90 L174.0 465.88 L175.0 465.86 L176.0 465.83 L177.0 465.81 L178.0 465.78 L179.0 465.76 L180.0 465.73 L181.0 465.70 L182.0 465.67 L183.0 465.64 L184.0 465.60 L185.0 465.57 L186.0 465.53 L187.0 465.49 L188.0 465.45 L189.0 465.41 L190.0 465.36 L191.0 465.31 L192.0 465.26 L193.0 465.21 L194.0 465.16 L195.0 465.10 L196.0 465.04 L197.0 464.98 L198.0 464.91 L199.0 464.84 L200.0 464.77 L201.0 464.69 L202.0 464.61 L203.0 464.53 L204.0 464.44 L205.0 464.35 L206.0 464.26 L207.0 464.16 L208.0 464.06 L209.0 463.95 L210.0 463.84 L211.0 463.72 L212.0 463.60 L213.0 463.47 L214.0 463.34 L215.0 463.20 L216.0 463.06 L217.0 462.91 L218.0 462.75 L219.0 462.59 L220.0 462.43 L221.0 462.25 L222.0 462.07 L223.0 461.88 L224.0 461.69 L225.0 461.48 L226.0 461.27 L227.0 461.06 L228.0 460.83 L229.0 460.60 L230.0 460.35 L231.0 460.10 L232.0 459.84 L233.0 459.57 L234.0 459.29 L235.0 459.00 L236.0 458.70 L237.0 458.39 L238.0 458.07 L239.0 457.74 L240.0 457.40 L241.0 457.04 L242.0 456.68 L243.0 456.30 L244.0 455.91 L245.0 455.51 L246.0 455.09 L247.0 454.67 L248.0 454.23 L249.0 453.77 L250.0 453.31 L251.0 452.82 L252.0 452.33 L253.0 451.82 L254.0 451.29 L255.0 450.75 L256.0 450.19 L257.0 449.62 L258.0 449.03 L259.0 448.43 L260.0 447.81 L261.0 447.17 L262.0 446.52 L263.0 445.85 L264.0 445.16 L265.0 444.45 L266.0 443.72 L267.0 442.98 L268.0 442.22 L269.0 441.44 L270.0 440.64 L271.0 439.82 L272.0 438.98 L273.0 438.12 L274.0 437.24 L275.0 436.34 L276.0 435.42 L277.0 434.48 L278.0 433.52 L279.0 432.54 L280.0 431.54 L281.0 430.52 L282.0 429.47 L283.0 428.40 L284.0 427.32 L285.0 426.21 L286.0 425.08 L287.0 423.92 L288.0 422.75 L289.0 421.55 L290.0 420.33 L291.0 419.08 L292.0 417.82 L293.0 416.53 L294.0 415.22 L295.0 413.89 L296.0 412.53 L297.0 411.15 L298.0 409.75 L299.0 408.33 L300.0 406.89 L301.0 405.42 L302.0 403.93 L303.0 402.42 L304.0 400.88 L305.0 399.33 L306.0 397.75 L307.0 396.15 L308.0 394.53 L309.0 392.88 L310.0 391.22 L311.0 389.53 L312.0 387.83 L313.0 386.10 L314.0 384.35 L315.0 382.59 L316.0 380.80 L317.0 378.99 L318.0 377.17 L319.0 375.32 L320.0 373.46 L321.0 371.57 L322.0 369.67 L323.0 367.75 L324.0 365.82 L325.0 363.86 L326.0 361.90 L327.0 359.91 L328.0 357.91 L329.0 355.89 L330.0 353.86 L331.0 351.82 L332.0 349.76 L333.0 347.68 L334.0 345.60 L335.0 343.50 L336.0 341.39 L337.0 339.27 L338.0 337.13 L339.0 334.99 L340.0 332.84 L341.0 330.68 L342.0 328.51 L343.0 326.33 L344.0 324.14 L345.0 321.95 L346.0 319.75 L347.0 317.54 L348.0 315.33 L349.0 313.12 L350.0 310.90 L351.0 308.68 L352.0 306.46 L353.0 304.23 L354.0 302.01 L355.0 299.78 L356.0 297.55 L357.0 295.33 L358.0 293.10 L359.0 290.88 L360.0 288.66 L361.0 286.44 L362.0 284.23 L363.0 282.02 L364.0 279.82 L365.0 277.62 L366.0 275.43 L367.0 273.24 L368.0 271.07 L369.0 268.90 L370.0 266.74 L371.0 264.60 L372.0 262.46 L373.0 260.33 L374.0 258.22 L375.0 256.11 L376.0 254.02 L377.0 251.94 L378.0 249.88 L379.0 247.83 L380.0 245.79 L381.0 243.77 L382.0 241.77 L383.0 239.78 L384.0 237.80 L385.0 235.85 L386.0 233.91 L387.0 231.98 L388.0 230.08 L389.0 228.19 L390.0 226.32 L391.0 224.46 L392.0 222.62 L393.0 220.80 L394.0 219.00 L395.0 217.21 L396.0 215.45 L397.0 213.69 L398.0 211.95 L399.0 210.23 L400.0 208.53 L401.0 206.83 L402.0 205.16 L403.0 203.49 L404.0 201.84 L405.0 200.20 L406.0 198.57 L407.0 196.96 L408.0 195.35 L409.0 193.75 L410.0 192.16 L411.0 190.58 L412.0 189.01 L413.0 187.45 L414.0 185.89 L415.0 184.34 L416.0 182.80 L417.0 181.26 L418.0 179.73 L419.0 178.20 L420.0 176.68 L421.0 175.17 L422.0 173.67 L423.0 172.17 L424.0 170.68 L425.0 169.20 L426.0 167.74 L427.0 166.28 L428.0 164.84 L429.0 163.41 L430.0 162.00 L431.0 160.60 L432.0 159.23 L433.0 157.87 L434.0 156.54 L435.0 155.23 L436.0 153.94 L437.0 152.68 L438.0 151.46 L439.0 150.26 L440.0 149.09 L441.0 147.96 L442.0 146.87 L443.0 145.81 L444.0 144.79 L445.0 143.81 L446.0 142.87 L447.0 141.97 L448.0 141.11 L449.0 140.30 L450.0 139.53 L451.0 138.80 L452.0 138.12 L453.0 137.48 L454.0 136.89 L455.0 136.34 L456.0 135.83 L457.0 135.36 L458.0 134.94 L459.0 134.55 L460.0 134.21 L461.0 133.90 L462.0 133.63 L463.0 133.39 L464.0 133.18 L465.0 133.01 L466.0 132.87 L467.0 132.75 L468.0 132.66 L469.0 132.59 L470.0 132.54 L471.0 132.51 L472.0 132.49 L473.0 132.48 L474.0 132.48 L475.0 132.48 L476.0 132.49 L477.0 132.51 L478.0 132.54 L479.0 132.59 L480.0 132.66 L481.0 132.75 L482.0 132.87 L483.0 133.01 L484.0 133.18 L485.0 133.39 L486.0 133.63 L487.0 133.90 L488.0 134.21 L489.0 134.55 L490.0 134.94 L491.0 135.36 L492.0 135.83 L493.0 136.34 L494.0 136.89 L495.0 137.48 L496.0 138.12 L497.0 138.80 L498.0 139.53 L499.0 140.30 L500.0 141.11 L501.0 141.97 L502.0 142.87 L503.0 143.81 L504.0 144.79 L505.0 145.81 L506.0 146.87 L507.0 147.96 L508.0 149.09 L509.0 150.26 L510.0 151.46 L511.0 152.68 L512.0 153.94 L513.0 155.23 L514.0 156.54 L515.0 157.87 L516.0 159.23 L517.0 160.60 L518.0 162.00 L519.0 163.41 L520.0 164.84 L521.0 166.28 L522.0 167.74 L523.0 169.20 L524.0 170.68 L525.0 172.17 L526.0 173.67 L527.0 175.17 L528.0 176.68 L529.0 178.20 L530.0 179.73 L531.0 181.26 L532.0 182.80 L533.0 184.34 L534.0 185.89 L535.0 187.45 L536.0 189.01 L537.0 190.58 L538.0 192.16 L539.0 193.75 L540.0 195.35 L541.0 196.96 L542.0 198.57 L543.0 200.20 L544.0 201.84 L545.0 203.49 L546.0 205.16 L547.0 206.83 L548.0 208.53 L549.0 210.23 L550.0 211.95 L551.0 213.69 L552.0 215.45 L553.0 217.21 L554.0 219.00 L555.0 220.80 L556.0 222.62 L557.0 224.46 L558.0 226.32 L559.0 228.19 L560.0 230.08 L561.0 231.98 L562.0 233.91 L563.0 235.85 L564.0 237.80 L565.0 239.78 L566.0 241.77 L567.0 243.77 L568.0 245.79 L569.0 247.83 L570.0 249.88 L571.0 251.94 L572.0 254.02 L573.0 256.11 L574.0 258.22 L575.0 260.33 L576.0 262.46 L577.0 264.60 L578.0 266.74 L579.0 268.90 L580.0 271.07 L581.0 273.24 L582.0 275.43 L583.0 277.62 L584.0 279.82 L585.0 282.02 L586.0 284.23 L587.0 286.44 L588.0 288.66 L589.0 290.88 L590.0 293.10 L591.0 295.33 L592.0 297.55 L593.0 299.78 L594.0 302.01 L595.0 304.23 L596.0 306.46 L597.0 308.68 L598.0 310.90 L599.0 313.12 L600.0 315.33 L601.0 317.54 L602.0 319.75 L603.0 321.95 L604.0 324.14 L605.0 326.33 L606.0 328.51 L607.0 330.68 L608.0 332.84 L609.0 334.99 L610.0 337.13 L611.0 339.27 L612.0 341.39 L613.0 343.50 L614.0 345.60 L615.0 347.68 L616.0 349.76 L617.0 351.82 L618.0 353.86 L619.0 355.89 L620.0 357.91 L621.0 359.91 L622.0 361.90 L623.0 363.86 L624.0 365.82 L625.0 367.75 L626.0 369.67 L627.0 371.57 L628.0 373.46 L629.0 375.32 L630.0 377.17 L631.0 378.99 L632.0 380.80 L633.0 382.59 L634.0 384.35 L635.0 386.10 L636.0 387.83 L637.0 389.53 L638.0 391.22 L639.0 392.88 L640.0 394.53 L641.0 396.15 L642.0 397.75 L643.0 399.33 L644.0 400.88 L645.0 402.42 L646.0 403.93 L647.0 405.42 L648.0 406.89 L649.0 408.33 L650.0 409.75 L651.0 411.15 L652.0 412.53 L653.0 413.89 L654.0 415.22 L655.0 416.53 L656.0 417.82 L657.0 419.08 L658.0 420.33 L659.0 421.55 L660.0 422.75 L661.0 423.92 L662.0 425.08 L663.0 426.21 L664.0 427.32 L665.0 428.40 L666.0 429.47 L667.0 430.52 L668.0 431.54 L669.0 432.54 L670.0 433.52 L671.0 434.48 L672.0 435.42 L673.0 436.34 L674.0 437.24 L675.0 438.12 L676.0 438.98 L677.0 439.82 L678.0 440.64 L679.0 441.44 L680.0 442.22 L681.0 442.98 L682.0 443.72 L683.0 444.45 L684.0 445.16 L685.0 445.85 L686.0 446.52 L687.0 447.17 L688.0 447.81 L689.0 448.43 L690.0 449.03 L691.0 449.62 L692.0 450.19 L693.0 450.75 L694.0 451.29 L695.0 451.82 L696.0 452.33 L697.0 452.82 L698.0 453.31 L699.0 453.77 L700.0 454.23 L701.0 454.67 L702.0 455.09 L703.0 455.51 L704.0 455.91 L705.0 456.30 L706.0 456.68 L707.0 457.04 L708.0 457.40 L709.0 457.74 L710.0 458.07 L711.0 458.39 L712.0 458.70 L713.0 459.00 L714.0 459.29 L715.0 459.57 L716.0 459.84 L717.0 460.10 L718.0 460.35 L719.0 460.60 L720.0 460.83 L721.0 461.06 L722.0 461.27 L723.0 461.48 L724.0 461.69 L725.0 461.88 L726.0 462.07 L727.0 462.25 L728.0 462.43 L729.0 462.59 L730.0 462.75 L731.0 462.91 L732.0 463.06 L733.0 463.20 L734.0 463.34 L735.0 463.47 L736.0 463.60 L737.0 463.72 L738.0 463.84 L739.0 463.95 L740.0 464.06 L741.0 464.16 L742.0 464.26 L743.0 464.35 L744.0 464.44 L745.0 464.53 L746.0 464.61 L747.0 464.69 L748.0 464.77 L749.0 464.84 L750.0 464.91 L751.0 464.98 L752.0 465.04 L753.0 465.10 L754.0 465.16 L755.0 465.21 L756.0 465.26 L757.0 465.31 L758.0 465.36 L759.0 465.41 L760.0 465.45 L761.0 465.49 L762.0 465.53 L763.0 465.57 L764.0 465.60 L765.0 465.64 L766.0 465.67 L767.0 465.70 L768.0 465.73 L769.0 465.76 L770.0 465.78 L771.0 465.81 L772.0 465.83 L773.0 465.86 L774.0 465.88 L775.0 465.90 L776.0 465.92 L777.0 465.93 L778.0 465.95 L779.0 465.97 L780.0 465.98 L781.0 466.00 L782.0 466.01 L783.0 466.02 L784.0 466.04 L785.0 466.05 L786.0 466.06 L787.0 466.07 L788.0 466.08 L789.0 466.09 L790.0 466.10 L791.0 466.11 L792.0 466.11 L793.0 466.12 L794.0 466.13 L795.0 466.13 L796.0 466.14 L797.0 466.15 L798.0 466.15 L799.0 466.16 L800.0 466.16 L801.0 466.17 L802.0 466.17 L803.0 466.17 L804.0 466.18 L805.0 466.18 L806.0 466.18 L807.0 466.19 L808.0 466.19 L809.0 466.19 L810.0 466.20 L811.0 466.20 L812.0 466.20 L813.0 466.20 L814.0 466.20 L815.0 466.21 L816.0 466.21 L817.0 466.21 L818.0 466.21 L819.0 466.21 L820.0 466.21 L821.0 466.22 L822.0 466.22 L823.0 466.22 L824.0 466.22 L825.0 466.22 L826.0 466.22 L827.0 466.22 L828.0 466.22 L829.0 466.22 L830.0 466.22 L831.0 466.22 L832.0 466.22 L833.0 466.22 L834.0 466.23 L835.0 466.23 L836.0 466.23 L837.0 466.23 L838.0 466.23 L839.0 466.23 L840.0 466.23 L841.0 466.23" fill="none" stroke="#0000e0" stroke-width="2.8" stroke-linejoin="round" stroke-dasharray="10 10"/>
<path d="M107.0 466.81 L108.0 466.78 L109.0 466.76 L110.0 466.73 L111.0 466.71 L112.0 466.69 L113.0 466.67 L114.0 466.66 L115.0 466.64 L116.0 466.62 L117.0 466.61 L118.0 466.60 L119.0 466.58 L120.0 466.57 L121.0 466.56 L122.0 466.55 L123.0 466.54 L124.0 466.53 L125.0 466.52 L126.0 466.51 L127.0 466.50 L128.0 466.49 L129.0 466.48 L130.0 466.47 L131.0 466.46 L132.0 466.45 L133.0 466.44 L134.0 466.44 L135.0 466.43 L136.0 466.42 L137.0 466.41 L138.0 466.40 L139.0 466.39 L140.0 466.37 L141.0 466.36 L142.0 466.35 L143.0 466.34 L144.0 466.32 L145.0 466.31 L146.0 466.29 L147.0 466.27 L148.0 466.25 L149.0 466.24 L150.0 466.22 L151.0 466.19 L152.0 466.17 L153.0 466.15 L154.0 466.12 L155.0 466.09 L156.0 466.06 L157.0 466.03 L158.0 466.00 L159.0 465.97 L160.0 465.93 L161.0 465.89 L162.0 465.85 L163.0 465.81 L164.0 465.77 L165.0 465.72 L166.0 465.67 L167.0 465.62 L168.0 465.57 L169.0 465.51 L170.0 465.45 L171.0 465.39 L172.0 465.33 L173.0 465.26 L174.0 465.19 L175.0 465.12 L176.0 465.05 L177.0 464.97 L178.0 464.89 L179.0 464.81 L180.0 464.72 L181.0 464.63 L182.0 464.54 L183.0 464.44 L184.0 464.34 L185.0 464.24 L186.0 464.13 L187.0 464.02 L188.0 463.91 L189.0 463.79 L190.0 463.67 L191.0 463.54 L192.0 463.41 L193.0 463.28 L194.0 463.14 L195.0 463.00 L196.0 462.86 L197.0 462.71 L198.0 462.55 L199.0 462.39 L200.0 462.23 L201.0 462.06 L202.0 461.89 L203.0 461.72 L204.0 461.54 L205.0 461.35 L206.0 461.16 L207.0 460.96 L208.0 460.76 L209.0 460.56 L210.0 460.35 L211.0 460.13 L212.0 459.91 L213.0 459.68 L214.0 459.45 L215.0 459.21 L216.0 458.97 L217.0 458.72 L218.0 458.45 L219.0 458.18 L220.0 457.90 L221.0 457.61 L222.0 457.30 L223.0 456.98 L224.0 456.65 L225.0 456.31 L226.0 455.94 L227.0 455.57 L228.0 455.17 L229.0 454.76 L230.0 454.33 L231.0 453.87 L232.0 453.40 L233.0 452.91 L234.0 452.39 L235.0 451.86 L236.0 451.29 L237.0 450.71 L238.0 450.10 L239.0 449.46 L240.0 448.80 L241.0 448.10 L242.0 447.38 L243.0 446.63 L244.0 445.85 L245.0 445.04 L246.0 444.20 L247.0 443.32 L248.0 442.41 L249.0 441.47 L250.0 440.50 L251.0 439.49 L252.0 438.45 L253.0 437.38 L254.0 436.27 L255.0 435.13 L256.0 433.96 L257.0 432.75 L258.0 431.51 L259.0 430.23 L260.0 428.92 L261.0 427.57 L262.0 426.18 L263.0 424.76 L264.0 423.31 L265.0 421.81 L266.0 420.29 L267.0 418.72 L268.0 417.12 L269.0 415.48 L270.0 413.80 L271.0 412.09 L272.0 410.34 L273.0 408.55 L274.0 406.72 L275.0 404.85 L276.0 402.95 L277.0 401.00 L278.0 399.02 L279.0 396.99 L280.0 394.93 L281.0 392.83 L282.0 390.68 L283.0 388.50 L284.0 386.28 L285.0 384.02 L286.0 381.72 L287.0 379.38 L288.0 377.02 L289.0 374.63 L290.0 372.21 L291.0 369.76 L292.0 367.30 L293.0 364.82 L294.0 362.32 L295.0 359.80 L296.0 357.27 L297.0 354.74 L298.0 352.20 L299.0 349.65 L300.0 347.10 L301.0 344.55 L302.0 342.01 L303.0 339.47 L304.0 336.93 L305.0 334.41 L306.0 331.90 L307.0 329.41 L308.0 326.93 L309.0 324.48 L310.0 322.04 L311.0 319.63 L312.0 317.25 L313.0 314.91 L314.0 312.60 L315.0 310.33 L316.0 308.10 L317.0 305.93 L318.0 303.80 L319.0 301.74 L320.0 299.73 L321.0 297.79 L322.0 295.91 L323.0 294.11 L324.0 292.38 L325.0 290.74 L326.0 289.18 L327.0 287.70 L328.0 286.32 L329.0 285.04 L330.0 283.85 L331.0 282.77 L332.0 281.79 L333.0 280.93 L334.0 280.18 L335.0 279.56 L336.0 279.05 L337.0 278.67 L338.0 278.43 L339.0 278.32 L340.0 278.35 L341.0 278.52 L342.0 278.83 L343.0 279.30 L344.0 279.90 L345.0 280.63 L346.0 281.51 L347.0 282.51 L348.0 283.63 L349.0 284.88 L350.0 286.25 L351.0 287.73 L352.0 289.33 L353.0 291.04 L354.0 292.85 L355.0 294.76 L356.0 296.77 L357.0 298.88 L358.0 301.07 L359.0 303.36 L360.0 305.73 L361.0 308.17 L362.0 310.68 L363.0 313.24 L364.0 315.85 L365.0 318.49 L366.0 321.15 L367.0 323.81 L368.0 326.48 L369.0 329.13 L370.0 331.76 L371.0 334.35 L372.0 336.90 L373.0 339.39 L374.0 341.81 L375.0 344.15 L376.0 346.41 L377.0 348.58 L378.0 350.64 L379.0 352.59 L380.0 354.42 L381.0 356.11 L382.0 357.67 L383.0 359.07 L384.0 360.31 L385.0 361.39 L386.0 362.28 L387.0 362.99 L388.0 363.50 L389.0 363.81 L390.0 363.89 L391.0 363.76 L392.0 363.39 L393.0 362.78 L394.0 361.94 L395.0 360.87 L396.0 359.56 L397.0 358.02 L398.0 356.24 L399.0 354.23 L400.0 351.98 L401.0 349.50 L402.0 346.78 L403.0 343.83 L404.0 340.67 L405.0 337.30 L406.0 333.73 L407.0 329.98 L408.0 326.05 L409.0 321.95 L410.0 317.71 L411.0 313.32 L412.0 308.78 L413.0 304.04 L414.0 299.03 L415.0 293.71 L416.0 288.13 L417.0 282.34 L418.0 276.42 L419.0 270.43 L420.0 264.45 L421.0 258.51 L422.0 252.60 L423.0 246.71 L424.0 240.80 L425.0 234.84 L426.0 228.81 L427.0 222.68 L428.0 216.42 L429.0 210.00 L430.0 203.40 L431.0 196.64 L432.0 189.82 L433.0 183.06 L434.0 176.46 L435.0 170.13 L436.0 164.07 L437.0 158.21 L438.0 152.49 L439.0 146.84 L440.0 141.20 L441.0 135.50 L442.0 129.75 L443.0 123.99 L444.0 118.28 L445.0 112.67 L446.0 107.22 L447.0 101.99 L448.0 97.01 L449.0 92.27 L450.0 87.77 L451.0 83.52 L452.0 79.49 L453.0 75.70 L454.0 72.13 L455.0 68.77 L456.0 65.63 L457.0 62.70 L458.0 59.98 L459.0 57.45 L460.0 55.12 L461.0 52.98 L462.0 51.03 L463.0 49.25 L464.0 47.65 L465.0 46.23 L466.0 44.97 L467.0 43.87 L468.0 42.93 L469.0 42.14 L470.0 41.50 L471.0 41.00 L472.0 40.64 L473.0 40.41 L474.0 40.31 L475.0 40.34 L476.0 40.49 L477.0 40.79 L478.0 41.22 L479.0 41.80 L480.0 42.53 L481.0 43.43 L482.0 44.48 L483.0 45.71 L484.0 47.11 L485.0 48.70 L486.0 50.48 L487.0 52.44 L488.0 54.61 L489.0 56.99 L490.0 59.57 L491.0 62.37 L492.0 65.40 L493.0 68.65 L494.0 72.14 L495.0 75.87 L496.0 79.85 L497.0 84.05 L498.0 88.47 L499.0 93.09 L500.0 97.88 L501.0 102.84 L502.0 107.94 L503.0 113.16 L504.0 118.50 L505.0 123.93 L506.0 129.43 L507.0 134.98 L508.0 140.58 L509.0 146.22 L510.0 151.96 L511.0 157.82 L512.0 163.85 L513.0 170.08 L514.0 176.56 L515.0 183.26 L516.0 190.08 L517.0 196.90 L518.0 203.60 L519.0 210.06 L520.0 216.30 L521.0 222.37 L522.0 228.34 L523.0 234.28 L524.0 240.24 L525.0 246.28 L526.0 252.42 L527.0 258.60 L528.0 264.76 L529.0 270.85 L530.0 276.82 L531.0 282.61 L532.0 288.20 L533.0 293.59 L534.0 298.79 L535.0 303.81 L536.0 308.63 L537.0 313.26 L538.0 317.71 L539.0 321.97 L540.0 326.06 L541.0 329.96 L542.0 333.68 L543.0 337.22 L544.0 340.58 L545.0 343.74 L546.0 346.69 L547.0 349.43 L548.0 351.95 L549.0 354.24 L550.0 356.29 L551.0 358.09 L552.0 359.63 L553.0 360.93 L554.0 361.98 L555.0 362.79 L556.0 363.37 L557.0 363.73 L558.0 363.86 L559.0 363.79 L560.0 363.51 L561.0 363.03 L562.0 362.36 L563.0 361.50 L564.0 360.46 L565.0 359.25 L566.0 357.87 L567.0 356.33 L568.0 354.63 L569.0 352.79 L570.0 350.81 L571.0 348.69 L572.0 346.47 L573.0 344.14 L574.0 341.73 L575.0 339.24 L576.0 336.68 L577.0 334.08 L578.0 331.44 L579.0 328.79 L580.0 326.12 L581.0 323.45 L582.0 320.80 L583.0 318.18 L584.0 315.60 L585.0 313.07 L586.0 310.58 L587.0 308.15 L588.0 305.78 L589.0 303.47 L590.0 301.24 L591.0 299.07 L592.0 296.99 L593.0 294.99 L594.0 293.08 L595.0 291.27 L596.0 289.56 L597.0 287.95 L598.0 286.45 L599.0 285.07 L600.0 283.81 L601.0 282.68 L602.0 281.67 L603.0 280.80 L604.0 280.07 L605.0 279.47 L606.0 279.00 L607.0 278.67 L608.0 278.48 L609.0 278.41 L610.0 278.48 L611.0 278.68 L612.0 279.02 L613.0 279.48 L614.0 280.07 L615.0 280.79 L616.0 281.62 L617.0 282.57 L618.0 283.63 L619.0 284.80 L620.0 286.07 L621.0 287.44 L622.0 288.91 L623.0 290.47 L624.0 292.12 L625.0 293.85 L626.0 295.66 L627.0 297.55 L628.0 299.51 L629.0 301.53 L630.0 303.62 L631.0 305.78 L632.0 307.98 L633.0 310.24 L634.0 312.55 L635.0 314.90 L636.0 317.29 L637.0 319.72 L638.0 322.18 L639.0 324.67 L640.0 327.18 L641.0 329.72 L642.0 332.27 L643.0 334.83 L644.0 337.40 L645.0 339.98 L646.0 342.56 L647.0 345.13 L648.0 347.69 L649.0 350.25 L650.0 352.79 L651.0 355.31 L652.0 357.81 L653.0 360.28 L654.0 362.74 L655.0 365.16 L656.0 367.57 L657.0 369.95 L658.0 372.31 L659.0 374.64 L660.0 376.94 L661.0 379.22 L662.0 381.47 L663.0 383.69 L664.0 385.89 L665.0 388.06 L666.0 390.20 L667.0 392.31 L668.0 394.39 L669.0 396.44 L670.0 398.46 L671.0 400.45 L672.0 402.41 L673.0 404.33 L674.0 406.22 L675.0 408.08 L676.0 409.91 L677.0 411.70 L678.0 413.46 L679.0 415.19 L680.0 416.87 L681.0 418.53 L682.0 420.14 L683.0 421.72 L684.0 423.27 L685.0 424.77 L686.0 426.24 L687.0 427.67 L688.0 429.06 L689.0 430.41 L690.0 431.72 L691.0 432.98 L692.0 434.21 L693.0 435.40 L694.0 436.55 L695.0 437.65 L696.0 438.71 L697.0 439.74 L698.0 440.73 L699.0 441.68 L700.0 442.60 L701.0 443.48 L702.0 444.33 L703.0 445.14 L704.0 445.92 L705.0 446.68 L706.0 447.40 L707.0 448.10 L708.0 448.77 L709.0 449.41 L710.0 450.02 L711.0 450.62 L712.0 451.18 L713.0 451.73 L714.0 452.26 L715.0 452.76 L716.0 453.25 L717.0 453.72 L718.0 454.17 L719.0 454.60 L720.0 455.03 L721.0 455.43 L722.0 455.82 L723.0 456.20 L724.0 456.57 L725.0 456.92 L726.0 457.26 L727.0 457.59 L728.0 457.91 L729.0 458.22 L730.0 458.51 L731.0 458.79 L732.0 459.07 L733.0 459.33 L734.0 459.58 L735.0 459.83 L736.0 460.06 L737.0 460.29 L738.0 460.50 L739.0 460.71 L740.0 460.91 L741.0 461.10 L742.0 461.29 L743.0 461.47 L744.0 461.64 L745.0 461.80 L746.0 461.96 L747.0 462.12 L748.0 462.27 L749.0 462.41 L750.0 462.55 L751.0 462.68 L752.0 462.81 L753.0 462.94 L754.0 463.06 L755.0 463.18 L756.0 463.29 L757.0 463.41 L758.0 463.52 L759.0 463.63 L760.0 463.73 L761.0 463.84 L762.0 463.94 L763.0 464.04 L764.0 464.14 L765.0 464.24 L766.0 464.34 L767.0 464.43 L768.0 464.52 L769.0 464.61 L770.0 464.70 L771.0 464.79 L772.0 464.88 L773.0 464.96 L774.0 465.04 L775.0 465.12 L776.0 465.20 L777.0 465.27 L778.0 465.35 L779.0 465.42 L780.0 465.49 L781.0 465.56 L782.0 465.63 L783.0 465.69 L784.0 465.76 L785.0 465.82 L786.0 465.88 L787.0 465.94 L788.0 465.99 L789.0 466.05 L790.0 466.10 L791.0 466.16 L792.0 466.21 L793.0 466.25 L794.0 466.30 L795.0 466.35 L796.0 466.39 L797.0 466.43 L798.0 466.47 L799.0 466.51 L800.0 466.55 L801.0 466.59 L802.0 466.62 L803.0 466.65 L804.0 466.68 L805.0 466.71 L806.0 466.74 L807.0 466.77 L808.0 466.79 L809.0 466.81 L810.0 466.84 L811.0 466.86 L812.0 466.88 L813.0 466.89 L814.0 466.91 L815.0 466.92 L816.0 466.94 L817.0 466.95 L818.0 466.96 L819.0 466.97 L820.0 466.97 L821.0 466.98 L822.0 466.98 L823.0 466.98 L824.0 466.99 L825.0 466.99 L826.0 466.98 L827.0 466.98 L828.0 466.98 L829.0 466.97 L830.0 466.96 L831.0 466.96 L832.0 466.95 L833.0 466.94 L834.0 466.92 L835.0 466.91 L836.0 466.89 L837.0 466.88 L838.0 466.86 L839.0 466.84 L840.0 466.82 L841.0 466.80" fill="none" stroke="#f08205" stroke-width="2.6" stroke-linejoin="round" stroke-dasharray="19.5 19"/>
<path d="M987.6 43.55 L988.6 43.56 L989.6 43.57 L990.6 43.58 L991.6 43.59 L992.6 43.60 L993.6 43.61 L994.6 43.62 L995.6 43.63 L996.6 43.64 L997.6 43.65 L998.6 43.66 L999.6 43.68 L1000.6 43.69 L1001.6 43.70 L1002.6 43.71 L1003.6 43.73 L1004.6 43.74 L1005.6 43.75 L1006.6 43.77 L1007.6 43.78 L1008.6 43.80 L1009.6 43.81 L1010.6 43.83 L1011.6 43.84 L1012.6 43.86 L1013.6 43.87 L1014.6 43.89 L1015.6 43.90 L1016.6 43.92 L1017.6 43.94 L1018.6 43.95 L1019.6 43.97 L1020.6 43.99 L1021.6 44.01 L1022.6 44.02 L1023.6 44.04 L1024.6 44.06 L1025.6 44.08 L1026.6 44.10 L1027.6 44.12 L1028.6 44.14 L1029.6 44.16 L1030.6 44.18 L1031.6 44.20 L1032.6 44.22 L1033.6 44.24 L1034.6 44.26 L1035.6 44.28 L1036.6 44.30 L1037.6 44.32 L1038.6 44.35 L1039.6 44.37 L1040.6 44.39 L1041.6 44.42 L1042.6 44.44 L1043.6 44.47 L1044.6 44.49 L1045.6 44.52 L1046.6 44.54 L1047.6 44.57 L1048.6 44.60 L1049.6 44.62 L1050.6 44.65 L1051.6 44.68 L1052.6 44.71 L1053.6 44.74 L1054.6 44.78 L1055.6 44.81 L1056.6 44.84 L1057.6 44.88 L1058.6 44.92 L1059.6 44.95 L1060.6 44.99 L1061.6 45.03 L1062.6 45.07 L1063.6 45.12 L1064.6 45.16 L1065.6 45.21 L1066.6 45.26 L1067.6 45.31 L1068.6 45.36 L1069.6 45.41 L1070.7 45.47 L1071.7 45.53 L1072.7 45.59 L1073.7 45.65 L1074.7 45.72 L1075.7 45.79 L1076.7 45.86 L1077.7 45.93 L1078.7 46.01 L1079.7 46.09 L1080.7 46.18 L1081.7 46.26 L1082.7 46.36 L1083.7 46.45 L1084.7 46.55 L1085.7 46.65 L1086.7 46.76 L1087.7 46.87 L1088.7 46.99 L1089.7 47.11 L1090.7 47.24 L1091.7 47.37 L1092.7 47.50 L1093.7 47.64 L1094.7 47.79 L1095.7 47.94 L1096.7 48.10 L1097.7 48.27 L1098.7 48.44 L1099.7 48.61 L1100.7 48.80 L1101.7 48.99 L1102.7 49.18 L1103.7 49.39 L1104.7 49.60 L1105.7 49.82 L1106.7 50.04 L1107.7 50.28 L1108.7 50.52 L1109.7 50.77 L1110.7 51.03 L1111.7 51.29 L1112.7 51.57 L1113.7 51.85 L1114.7 52.15 L1115.7 52.45 L1116.7 52.76 L1117.7 53.08 L1118.7 53.41 L1119.7 53.75 L1120.7 54.11 L1121.7 54.47 L1122.7 54.84 L1123.7 55.22 L1124.7 55.61 L1125.7 56.02 L1126.7 56.43 L1127.7 56.86 L1128.7 57.30 L1129.7 57.75 L1130.7 58.21 L1131.7 58.68 L1132.7 59.17 L1133.7 59.67 L1134.7 60.18 L1135.7 60.70 L1136.7 61.23 L1137.7 61.78 L1138.7 62.34 L1139.7 62.92 L1140.7 63.50 L1141.7 64.11 L1142.7 64.72 L1143.7 65.35 L1144.7 65.99 L1145.7 66.64 L1146.7 67.31 L1147.7 68.00 L1148.7 68.70 L1149.7 69.41 L1150.7 70.13 L1151.7 70.87 L1152.7 71.63 L1153.7 72.40 L1154.7 73.18 L1155.7 73.98 L1156.7 74.80 L1157.7 75.63 L1158.7 76.47 L1159.7 77.33 L1160.7 78.20 L1161.7 79.09 L1162.7 80.00 L1163.7 80.92 L1164.7 81.85 L1165.7 82.80 L1166.7 83.77 L1167.7 84.75 L1168.7 85.75 L1169.7 86.76 L1170.7 87.79 L1171.7 88.83 L1172.7 89.89 L1173.7 90.96 L1174.7 92.05 L1175.7 93.15 L1176.7 94.27 L1177.7 95.41 L1178.7 96.56 L1179.7 97.72 L1180.7 98.90 L1181.7 100.10 L1182.7 101.31 L1183.7 102.53 L1184.7 103.77 L1185.7 105.03 L1186.7 106.30 L1187.7 107.58 L1188.7 108.88 L1189.7 110.19 L1190.7 111.52 L1191.7 112.86 L1192.7 114.21 L1193.7 115.58 L1194.7 116.97 L1195.7 118.36 L1196.7 119.77 L1197.7 121.20 L1198.7 122.63 L1199.7 124.08 L1200.7 125.54 L1201.7 127.02 L1202.7 128.50 L1203.7 130.00 L1204.7 131.52 L1205.7 133.04 L1206.7 134.57 L1207.7 136.12 L1208.7 137.68 L1209.7 139.25 L1210.7 140.83 L1211.7 142.42 L1212.7 144.02 L1213.7 145.63 L1214.7 147.25 L1215.7 148.88 L1216.7 150.52 L1217.7 152.16 L1218.7 153.82 L1219.7 155.49 L1220.7 157.16 L1221.7 158.84 L1222.7 160.53 L1223.7 162.22 L1224.7 163.93 L1225.7 165.64 L1226.7 167.35 L1227.7 169.07 L1228.7 170.80 L1229.7 172.54 L1230.7 174.27 L1231.7 176.02 L1232.7 177.76 L1233.7 179.51 L1234.7 181.27 L1235.7 183.03 L1236.7 184.79 L1237.7 186.55 L1238.7 188.32 L1239.7 190.09 L1240.7 191.86 L1241.7 193.63 L1242.7 195.40 L1243.7 197.17 L1244.7 198.94 L1245.7 200.71 L1246.7 202.48 L1247.7 204.25 L1248.7 206.02 L1249.7 207.79 L1250.7 209.55 L1251.7 211.31 L1252.8 213.07 L1253.8 214.82 L1254.8 216.57 L1255.8 218.32 L1256.8 220.06 L1257.8 221.80 L1258.8 223.53 L1259.8 225.25 L1260.8 226.97 L1261.8 228.68 L1262.8 230.39 L1263.8 232.09 L1264.8 233.78 L1265.8 235.46 L1266.8 237.13 L1267.8 238.79 L1268.8 240.45 L1269.8 242.09 L1270.8 243.72 L1271.8 245.35 L1272.8 246.96 L1273.8 248.56 L1274.8 250.15 L1275.8 251.73 L1276.8 253.29 L1277.8 254.84 L1278.8 256.38 L1279.8 257.91 L1280.8 259.42 L1281.8 260.91 L1282.8 262.39 L1283.8 263.86 L1284.8 265.31 L1285.8 266.75 L1286.8 268.17 L1287.8 269.57 L1288.8 270.96 L1289.8 272.32 L1290.8 273.68 L1291.8 275.01 L1292.8 276.33 L1293.8 277.62 L1294.8 278.90 L1295.8 280.16 L1296.8 281.41 L1297.8 282.63 L1298.8 283.83 L1299.8 285.01 L1300.8 286.17 L1301.8 287.32 L1302.8 288.44 L1303.8 289.54 L1304.8 290.62 L1305.8 291.67 L1306.8 292.71 L1307.8 293.72 L1308.8 294.72 L1309.8 295.69 L1310.8 296.63 L1311.8 297.56 L1312.8 298.46 L1313.8 299.34 L1314.8 300.20 L1315.8 301.03 L1316.8 301.84 L1317.8 302.63 L1318.8 303.40 L1319.8 304.14 L1320.8 304.85 L1321.8 305.55 L1322.8 306.22 L1323.8 306.86 L1324.8 307.49 L1325.8 308.09 L1326.8 308.66 L1327.8 309.21 L1328.8 309.74 L1329.8 310.24 L1330.8 310.72 L1331.8 311.18 L1332.8 311.61 L1333.8 312.02 L1334.8 312.40 L1335.8 312.77 L1336.8 313.10 L1337.8 313.42 L1338.8 313.71 L1339.8 313.98 L1340.8 314.23 L1341.8 314.45 L1342.8 314.65 L1343.8 314.83 L1344.8 314.99 L1345.8 315.13 L1346.8 315.25 L1347.8 315.34 L1348.8 315.42 L1349.8 315.48 L1350.8 315.52 L1351.8 315.54 L1352.8 315.54 L1353.8 315.54 L1354.8 315.52 L1355.8 315.48 L1356.8 315.42 L1357.8 315.34 L1358.8 315.25 L1359.8 315.13 L1360.8 314.99 L1361.8 314.83 L1362.8 314.65 L1363.8 314.45 L1364.8 314.23 L1365.8 313.98 L1366.8 313.71 L1367.8 313.42 L1368.8 313.10 L1369.8 312.77 L1370.8 312.40 L1371.8 312.02 L1372.8 311.61 L1373.8 311.18 L1374.8 310.72 L1375.8 310.24 L1376.8 309.74 L1377.8 309.21 L1378.8 308.66 L1379.8 308.09 L1380.8 307.49 L1381.8 306.86 L1382.8 306.22 L1383.8 305.55 L1384.8 304.85 L1385.8 304.14 L1386.8 303.40 L1387.8 302.63 L1388.8 301.84 L1389.8 301.03 L1390.8 300.20 L1391.8 299.34 L1392.8 298.46 L1393.8 297.56 L1394.8 296.63 L1395.8 295.69 L1396.8 294.72 L1397.8 293.72 L1398.8 292.71 L1399.8 291.67 L1400.8 290.62 L1401.8 289.54 L1402.8 288.44 L1403.8 287.32 L1404.8 286.17 L1405.8 285.01 L1406.8 283.83 L1407.8 282.63 L1408.8 281.41 L1409.8 280.16 L1410.8 278.90 L1411.8 277.62 L1412.8 276.33 L1413.8 275.01 L1414.8 273.68 L1415.8 272.32 L1416.8 270.96 L1417.8 269.57 L1418.8 268.17 L1419.8 266.75 L1420.8 265.31 L1421.8 263.86 L1422.8 262.39 L1423.8 260.91 L1424.8 259.42 L1425.8 257.91 L1426.8 256.38 L1427.8 254.84 L1428.8 253.29 L1429.8 251.73 L1430.8 250.15 L1431.8 248.56 L1432.8 246.96 L1433.8 245.35 L1434.8 243.72 L1435.8 242.09 L1436.8 240.45 L1437.8 238.79 L1438.8 237.13 L1439.8 235.46 L1440.8 233.78 L1441.8 232.09 L1442.8 230.39 L1443.8 228.68 L1444.8 226.97 L1445.8 225.25 L1446.8 223.53 L1447.8 221.80 L1448.8 220.06 L1449.8 218.32 L1450.8 216.57 L1451.8 214.82 L1452.8 213.07 L1453.9 211.31 L1454.9 209.55 L1455.9 207.79 L1456.9 206.02 L1457.9 204.25 L1458.9 202.48 L1459.9 200.71 L1460.9 198.94 L1461.9 197.17 L1462.9 195.40 L1463.9 193.63 L1464.9 191.86 L1465.9 190.09 L1466.9 188.32 L1467.9 186.55 L1468.9 184.79 L1469.9 183.03 L1470.9 181.27 L1471.9 179.51 L1472.9 177.76 L1473.9 176.02 L1474.9 174.27 L1475.9 172.54 L1476.9 170.80 L1477.9 169.07 L1478.9 167.35 L1479.9 165.64 L1480.9 163.93 L1481.9 162.22 L1482.9 160.53 L1483.9 158.84 L1484.9 157.16 L1485.9 155.49 L1486.9 153.82 L1487.9 152.16 L1488.9 150.52 L1489.9 148.88 L1490.9 147.25 L1491.9 145.63 L1492.9 144.02 L1493.9 142.42 L1494.9 140.83 L1495.9 139.25 L1496.9 137.68 L1497.9 136.12 L1498.9 134.57 L1499.9 133.04 L1500.9 131.52 L1501.9 130.00 L1502.9 128.50 L1503.9 127.02 L1504.9 125.54 L1505.9 124.08 L1506.9 122.63 L1507.9 121.20 L1508.9 119.77 L1509.9 118.36 L1510.9 116.97 L1511.9 115.58 L1512.9 114.21 L1513.9 112.86 L1514.9 111.52 L1515.9 110.19 L1516.9 108.88 L1517.9 107.58 L1518.9 106.30 L1519.9 105.03 L1520.9 103.77 L1521.9 102.53 L1522.9 101.31 L1523.9 100.10 L1524.9 98.90 L1525.9 97.72 L1526.9 96.56 L1527.9 95.41 L1528.9 94.27 L1529.9 93.15 L1530.9 92.05 L1531.9 90.96 L1532.9 89.89 L1533.9 88.83 L1534.9 87.79 L1535.9 86.76 L1536.9 85.75 L1537.9 84.75 L1538.9 83.77 L1539.9 82.80 L1540.9 81.85 L1541.9 80.92 L1542.9 80.00 L1543.9 79.09 L1544.9 78.20 L1545.9 77.33 L1546.9 76.47 L1547.9 75.63 L1548.9 74.80 L1549.9 73.98 L1550.9 73.18 L1551.9 72.40 L1552.9 71.63 L1553.9 70.87 L1554.9 70.13 L1555.9 69.41 L1556.9 68.70 L1557.9 68.00 L1558.9 67.31 L1559.9 66.64 L1560.9 65.99 L1561.9 65.35 L1562.9 64.72 L1563.9 64.11 L1564.9 63.50 L1565.9 62.92 L1566.9 62.34 L1567.9 61.78 L1568.9 61.23 L1569.9 60.70 L1570.9 60.18 L1571.9 59.67 L1572.9 59.17 L1573.9 58.68 L1574.9 58.21 L1575.9 57.75 L1576.9 57.30 L1577.9 56.86 L1578.9 56.43 L1579.9 56.02 L1580.9 55.61 L1581.9 55.22 L1582.9 54.84 L1583.9 54.47 L1584.9 54.11 L1585.9 53.75 L1586.9 53.41 L1587.9 53.08 L1588.9 52.76 L1589.9 52.45 L1590.9 52.15 L1591.9 51.85 L1592.9 51.57 L1593.9 51.29 L1594.9 51.03 L1595.9 50.77 L1596.9 50.52 L1597.9 50.28 L1598.9 50.04 L1599.9 49.82 L1600.9 49.60 L1601.9 49.39 L1602.9 49.18 L1603.9 48.99 L1604.9 48.80 L1605.9 48.61 L1606.9 48.44 L1607.9 48.27 L1608.9 48.10 L1609.9 47.94 L1610.9 47.79 L1611.9 47.64 L1612.9 47.50 L1613.9 47.37 L1614.9 47.24 L1615.9 47.11 L1616.9 46.99 L1618.0 46.87 L1619.0 46.76 L1620.0 46.65 L1621.0 46.55 L1622.0 46.45 L1623.0 46.36 L1624.0 46.26 L1625.0 46.18 L1626.0 46.09 L1627.0 46.01 L1628.0 45.93 L1629.0 45.86 L1630.0 45.79 L1631.0 45.72 L1632.0 45.65 L1633.0 45.59 L1634.0 45.53 L1635.0 45.47 L1636.0 45.41 L1637.0 45.36 L1638.0 45.31 L1639.0 45.26 L1640.0 45.21 L1641.0 45.16 L1642.0 45.12 L1643.0 45.07 L1644.0 45.03 L1645.0 44.99 L1646.0 44.95 L1647.0 44.92 L1648.0 44.88 L1649.0 44.84 L1650.0 44.81 L1651.0 44.78 L1652.0 44.74 L1653.0 44.71 L1654.0 44.68 L1655.0 44.65 L1656.0 44.62 L1657.0 44.60 L1658.0 44.57 L1659.0 44.54 L1660.0 44.52 L1661.0 44.49 L1662.0 44.47 L1663.0 44.44 L1664.0 44.42 L1665.0 44.39 L1666.0 44.37 L1667.0 44.35 L1668.0 44.32 L1669.0 44.30 L1670.0 44.28 L1671.0 44.26 L1672.0 44.24 L1673.0 44.22 L1674.0 44.20 L1675.0 44.18 L1676.0 44.16 L1677.0 44.14 L1678.0 44.12 L1679.0 44.10 L1680.0 44.08 L1681.0 44.06 L1682.0 44.04 L1683.0 44.02 L1684.0 44.01 L1685.0 43.99 L1686.0 43.97 L1687.0 43.95 L1688.0 43.94 L1689.0 43.92 L1690.0 43.90 L1691.0 43.89 L1692.0 43.87 L1693.0 43.86 L1694.0 43.84 L1695.0 43.83 L1696.0 43.81 L1697.0 43.80 L1698.0 43.78 L1699.0 43.77 L1700.0 43.75 L1701.0 43.74 L1702.0 43.73 L1703.0 43.71 L1704.0 43.70 L1705.0 43.69 L1706.0 43.68 L1707.0 43.66 L1708.0 43.65 L1709.0 43.64 L1710.0 43.63 L1711.0 43.62 L1712.0 43.61 L1713.0 43.60 L1714.0 43.59 L1715.0 43.58 L1716.0 43.57 L1717.0 43.56 L1718.0 43.55" fill="none" stroke="#000" stroke-width="2.8" stroke-linejoin="round"/>
<path d="M987.6 43.93 L988.6 43.93 L989.6 43.94 L990.6 43.94 L991.6 43.95 L992.6 43.96 L993.6 43.96 L994.6 43.97 L995.6 43.98 L996.6 43.98 L997.6 43.99 L998.6 44.00 L999.6 44.01 L1000.6 44.02 L1001.6 44.03 L1002.6 44.04 L1003.6 44.05 L1004.6 44.06 L1005.6 44.07 L1006.6 44.09 L1007.6 44.10 L1008.6 44.11 L1009.6 44.13 L1010.6 44.14 L1011.6 44.16 L1012.6 44.18 L1013.6 44.20 L1014.6 44.21 L1015.6 44.23 L1016.6 44.25 L1017.6 44.28 L1018.6 44.30 L1019.6 44.32 L1020.6 44.35 L1021.6 44.37 L1022.6 44.40 L1023.6 44.43 L1024.6 44.45 L1025.6 44.49 L1026.6 44.52 L1027.6 44.55 L1028.6 44.59 L1029.6 44.62 L1030.6 44.66 L1031.6 44.70 L1032.6 44.74 L1033.6 44.79 L1034.6 44.83 L1035.6 44.88 L1036.6 44.93 L1037.6 44.98 L1038.6 45.03 L1039.6 45.09 L1040.6 45.15 L1041.6 45.21 L1042.6 45.27 L1043.6 45.34 L1044.6 45.40 L1045.6 45.48 L1046.6 45.55 L1047.6 45.63 L1048.6 45.71 L1049.6 45.79 L1050.6 45.88 L1051.6 45.97 L1052.6 46.06 L1053.6 46.16 L1054.6 46.26 L1055.6 46.37 L1056.6 46.48 L1057.6 46.59 L1058.6 46.71 L1059.6 46.83 L1060.6 46.96 L1061.6 47.09 L1062.6 47.23 L1063.6 47.37 L1064.6 47.52 L1065.6 47.67 L1066.6 47.83 L1067.6 47.99 L1068.6 48.16 L1069.6 48.34 L1070.7 48.52 L1071.7 48.71 L1072.7 48.91 L1073.7 49.11 L1074.7 49.32 L1075.7 49.54 L1076.7 49.77 L1077.7 50.00 L1078.7 50.24 L1079.7 50.49 L1080.7 50.74 L1081.7 51.01 L1082.7 51.29 L1083.7 51.57 L1084.7 51.86 L1085.7 52.17 L1086.7 52.48 L1087.7 52.80 L1088.7 53.13 L1089.7 53.48 L1090.7 53.83 L1091.7 54.20 L1092.7 54.57 L1093.7 54.96 L1094.7 55.36 L1095.7 55.78 L1096.7 56.20 L1097.7 56.64 L1098.7 57.09 L1099.7 57.56 L1100.7 58.04 L1101.7 58.53 L1102.7 59.04 L1103.7 59.56 L1104.7 60.10 L1105.7 60.65 L1106.7 61.22 L1107.7 61.81 L1108.7 62.41 L1109.7 63.02 L1110.7 63.66 L1111.7 64.31 L1112.7 64.98 L1113.7 65.67 L1114.7 66.37 L1115.7 67.10 L1116.7 67.84 L1117.7 68.61 L1118.7 69.39 L1119.7 70.19 L1120.7 71.02 L1121.7 71.86 L1122.7 72.73 L1123.7 73.61 L1124.7 74.52 L1125.7 75.45 L1126.7 76.41 L1127.7 77.38 L1128.7 78.38 L1129.7 79.41 L1130.7 80.45 L1131.7 81.53 L1132.7 82.62 L1133.7 83.74 L1134.7 84.89 L1135.7 86.06 L1136.7 87.26 L1137.7 88.48 L1138.7 89.74 L1139.7 91.01 L1140.7 92.32 L1141.7 93.65 L1142.7 95.01 L1143.7 96.40 L1144.7 97.82 L1145.7 99.26 L1146.7 100.74 L1147.7 102.24 L1148.7 103.77 L1149.7 105.34 L1150.7 106.93 L1151.7 108.55 L1152.7 110.20 L1153.7 111.88 L1154.7 113.60 L1155.7 115.34 L1156.7 117.12 L1157.7 118.92 L1158.7 120.76 L1159.7 122.63 L1160.7 124.53 L1161.7 126.46 L1162.7 128.42 L1163.7 130.42 L1164.7 132.44 L1165.7 134.50 L1166.7 136.59 L1167.7 138.71 L1168.7 140.86 L1169.7 143.05 L1170.7 145.26 L1171.7 147.51 L1172.7 149.78 L1173.7 152.09 L1174.7 154.43 L1175.7 156.80 L1176.7 159.20 L1177.7 161.63 L1178.7 164.09 L1179.7 166.58 L1180.7 169.10 L1181.7 171.64 L1182.7 174.22 L1183.7 176.82 L1184.7 179.45 L1185.7 182.11 L1186.7 184.79 L1187.7 187.50 L1188.7 190.24 L1189.7 193.00 L1190.7 195.78 L1191.7 198.59 L1192.7 201.42 L1193.7 204.28 L1194.7 207.15 L1195.7 210.05 L1196.7 212.96 L1197.7 215.90 L1198.7 218.85 L1199.7 221.82 L1200.7 224.81 L1201.7 227.81 L1202.7 230.83 L1203.7 233.86 L1204.7 236.90 L1205.7 239.96 L1206.7 243.02 L1207.7 246.10 L1208.7 249.18 L1209.7 252.27 L1210.7 255.37 L1211.7 258.47 L1212.7 261.58 L1213.7 264.68 L1214.7 267.79 L1215.7 270.90 L1216.7 274.01 L1217.7 277.11 L1218.7 280.21 L1219.7 283.31 L1220.7 286.40 L1221.7 289.48 L1222.7 292.55 L1223.7 295.61 L1224.7 298.66 L1225.7 301.70 L1226.7 304.72 L1227.7 307.73 L1228.7 310.72 L1229.7 313.69 L1230.7 316.64 L1231.7 319.57 L1232.7 322.48 L1233.7 325.36 L1234.7 328.22 L1235.7 331.06 L1236.7 333.86 L1237.7 336.64 L1238.7 339.39 L1239.7 342.11 L1240.7 344.79 L1241.7 347.45 L1242.7 350.07 L1243.7 352.65 L1244.7 355.20 L1245.7 357.71 L1246.7 360.19 L1247.7 362.62 L1248.7 365.02 L1249.7 367.37 L1250.7 369.69 L1251.7 371.96 L1252.8 374.19 L1253.8 376.38 L1254.8 378.52 L1255.8 380.62 L1256.8 382.68 L1257.8 384.69 L1258.8 386.65 L1259.8 388.57 L1260.8 390.45 L1261.8 392.27 L1262.8 394.06 L1263.8 395.79 L1264.8 397.48 L1265.8 399.13 L1266.8 400.72 L1267.8 402.27 L1268.8 403.78 L1269.8 405.24 L1270.8 406.66 L1271.8 408.03 L1272.8 409.35 L1273.8 410.63 L1274.8 411.87 L1275.8 413.06 L1276.8 414.21 L1277.8 415.32 L1278.8 416.39 L1279.8 417.42 L1280.8 418.40 L1281.8 419.35 L1282.8 420.26 L1283.8 421.13 L1284.8 421.96 L1285.8 422.76 L1286.8 423.52 L1287.8 424.25 L1288.8 424.94 L1289.8 425.60 L1290.8 426.23 L1291.8 426.83 L1292.8 427.40 L1293.8 427.94 L1294.8 428.45 L1295.8 428.94 L1296.8 429.40 L1297.8 429.83 L1298.8 430.24 L1299.8 430.63 L1300.8 431.00 L1301.8 431.35 L1302.8 431.67 L1303.8 431.98 L1304.8 432.27 L1305.8 432.54 L1306.8 432.80 L1307.8 433.04 L1308.8 433.27 L1309.8 433.48 L1310.8 433.68 L1311.8 433.87 L1312.8 434.05 L1313.8 434.21 L1314.8 434.37 L1315.8 434.52 L1316.8 434.66 L1317.8 434.79 L1318.8 434.92 L1319.8 435.04 L1320.8 435.15 L1321.8 435.25 L1322.8 435.36 L1323.8 435.45 L1324.8 435.55 L1325.8 435.64 L1326.8 435.72 L1327.8 435.80 L1328.8 435.88 L1329.8 435.96 L1330.8 436.03 L1331.8 436.10 L1332.8 436.17 L1333.8 436.23 L1334.8 436.29 L1335.8 436.36 L1336.8 436.41 L1337.8 436.47 L1338.8 436.52 L1339.8 436.57 L1340.8 436.62 L1341.8 436.67 L1342.8 436.71 L1343.8 436.75 L1344.8 436.79 L1345.8 436.82 L1346.8 436.85 L1347.8 436.87 L1348.8 436.89 L1349.8 436.91 L1350.8 436.92 L1351.8 436.93 L1352.8 436.93 L1353.8 436.93 L1354.8 436.92 L1355.8 436.91 L1356.8 436.89 L1357.8 436.87 L1358.8 436.85 L1359.8 436.82 L1360.8 436.79 L1361.8 436.75 L1362.8 436.71 L1363.8 436.67 L1364.8 436.62 L1365.8 436.57 L1366.8 436.52 L1367.8 436.47 L1368.8 436.41 L1369.8 436.36 L1370.8 436.29 L1371.8 436.23 L1372.8 436.17 L1373.8 436.10 L1374.8 436.03 L1375.8 435.96 L1376.8 435.88 L1377.8 435.80 L1378.8 435.72 L1379.8 435.64 L1380.8 435.55 L1381.8 435.45 L1382.8 435.36 L1383.8 435.25 L1384.8 435.15 L1385.8 435.04 L1386.8 434.92 L1387.8 434.79 L1388.8 434.66 L1389.8 434.52 L1390.8 434.37 L1391.8 434.21 L1392.8 434.05 L1393.8 433.87 L1394.8 433.68 L1395.8 433.48 L1396.8 433.27 L1397.8 433.04 L1398.8 432.80 L1399.8 432.54 L1400.8 432.27 L1401.8 431.98 L1402.8 431.67 L1403.8 431.35 L1404.8 431.00 L1405.8 430.63 L1406.8 430.24 L1407.8 429.83 L1408.8 429.40 L1409.8 428.94 L1410.8 428.45 L1411.8 427.94 L1412.8 427.40 L1413.8 426.83 L1414.8 426.23 L1415.8 425.60 L1416.8 424.94 L1417.8 424.25 L1418.8 423.52 L1419.8 422.76 L1420.8 421.96 L1421.8 421.13 L1422.8 420.26 L1423.8 419.35 L1424.8 418.40 L1425.8 417.42 L1426.8 416.39 L1427.8 415.32 L1428.8 414.21 L1429.8 413.06 L1430.8 411.87 L1431.8 410.63 L1432.8 409.35 L1433.8 408.03 L1434.8 406.66 L1435.8 405.24 L1436.8 403.78 L1437.8 402.27 L1438.8 400.72 L1439.8 399.13 L1440.8 397.48 L1441.8 395.79 L1442.8 394.06 L1443.8 392.27 L1444.8 390.45 L1445.8 388.57 L1446.8 386.65 L1447.8 384.69 L1448.8 382.68 L1449.8 380.62 L1450.8 378.52 L1451.8 376.38 L1452.8 374.19 L1453.9 371.96 L1454.9 369.69 L1455.9 367.37 L1456.9 365.02 L1457.9 362.62 L1458.9 360.19 L1459.9 357.71 L1460.9 355.20 L1461.9 352.65 L1462.9 350.07 L1463.9 347.45 L1464.9 344.79 L1465.9 342.11 L1466.9 339.39 L1467.9 336.64 L1468.9 333.86 L1469.9 331.06 L1470.9 328.22 L1471.9 325.36 L1472.9 322.48 L1473.9 319.57 L1474.9 316.64 L1475.9 313.69 L1476.9 310.72 L1477.9 307.73 L1478.9 304.72 L1479.9 301.70 L1480.9 298.66 L1481.9 295.61 L1482.9 292.55 L1483.9 289.48 L1484.9 286.40 L1485.9 283.31 L1486.9 280.21 L1487.9 277.11 L1488.9 274.01 L1489.9 270.90 L1490.9 267.79 L1491.9 264.68 L1492.9 261.58 L1493.9 258.47 L1494.9 255.37 L1495.9 252.27 L1496.9 249.18 L1497.9 246.10 L1498.9 243.02 L1499.9 239.96 L1500.9 236.90 L1501.9 233.86 L1502.9 230.83 L1503.9 227.81 L1504.9 224.81 L1505.9 221.82 L1506.9 218.85 L1507.9 215.90 L1508.9 212.96 L1509.9 210.05 L1510.9 207.15 L1511.9 204.28 L1512.9 201.42 L1513.9 198.59 L1514.9 195.78 L1515.9 193.00 L1516.9 190.24 L1517.9 187.50 L1518.9 184.79 L1519.9 182.11 L1520.9 179.45 L1521.9 176.82 L1522.9 174.22 L1523.9 171.64 L1524.9 169.10 L1525.9 166.58 L1526.9 164.09 L1527.9 161.63 L1528.9 159.20 L1529.9 156.80 L1530.9 154.43 L1531.9 152.09 L1532.9 149.78 L1533.9 147.51 L1534.9 145.26 L1535.9 143.05 L1536.9 140.86 L1537.9 138.71 L1538.9 136.59 L1539.9 134.50 L1540.9 132.44 L1541.9 130.42 L1542.9 128.42 L1543.9 126.46 L1544.9 124.53 L1545.9 122.63 L1546.9 120.76 L1547.9 118.92 L1548.9 117.12 L1549.9 115.34 L1550.9 113.60 L1551.9 111.88 L1552.9 110.20 L1553.9 108.55 L1554.9 106.93 L1555.9 105.34 L1556.9 103.77 L1557.9 102.24 L1558.9 100.74 L1559.9 99.26 L1560.9 97.82 L1561.9 96.40 L1562.9 95.01 L1563.9 93.65 L1564.9 92.32 L1565.9 91.01 L1566.9 89.74 L1567.9 88.48 L1568.9 87.26 L1569.9 86.06 L1570.9 84.89 L1571.9 83.74 L1572.9 82.62 L1573.9 81.53 L1574.9 80.45 L1575.9 79.41 L1576.9 78.38 L1577.9 77.38 L1578.9 76.41 L1579.9 75.45 L1580.9 74.52 L1581.9 73.61 L1582.9 72.73 L1583.9 71.86 L1584.9 71.02 L1585.9 70.19 L1586.9 69.39 L1587.9 68.61 L1588.9 67.84 L1589.9 67.10 L1590.9 66.37 L1591.9 65.67 L1592.9 64.98 L1593.9 64.31 L1594.9 63.66 L1595.9 63.02 L1596.9 62.41 L1597.9 61.81 L1598.9 61.22 L1599.9 60.65 L1600.9 60.10 L1601.9 59.56 L1602.9 59.04 L1603.9 58.53 L1604.9 58.04 L1605.9 57.56 L1606.9 57.09 L1607.9 56.64 L1608.9 56.20 L1609.9 55.78 L1610.9 55.36 L1611.9 54.96 L1612.9 54.57 L1613.9 54.20 L1614.9 53.83 L1615.9 53.48 L1616.9 53.13 L1618.0 52.80 L1619.0 52.48 L1620.0 52.17 L1621.0 51.86 L1622.0 51.57 L1623.0 51.29 L1624.0 51.01 L1625.0 50.74 L1626.0 50.49 L1627.0 50.24 L1628.0 50.00 L1629.0 49.77 L1630.0 49.54 L1631.0 49.32 L1632.0 49.11 L1633.0 48.91 L1634.0 48.71 L1635.0 48.52 L1636.0 48.34 L1637.0 48.16 L1638.0 47.99 L1639.0 47.83 L1640.0 47.67 L1641.0 47.52 L1642.0 47.37 L1643.0 47.23 L1644.0 47.09 L1645.0 46.96 L1646.0 46.83 L1647.0 46.71 L1648.0 46.59 L1649.0 46.48 L1650.0 46.37 L1651.0 46.26 L1652.0 46.16 L1653.0 46.06 L1654.0 45.97 L1655.0 45.88 L1656.0 45.79 L1657.0 45.71 L1658.0 45.63 L1659.0 45.55 L1660.0 45.48 L1661.0 45.40 L1662.0 45.34 L1663.0 45.27 L1664.0 45.21 L1665.0 45.15 L1666.0 45.09 L1667.0 45.03 L1668.0 44.98 L1669.0 44.93 L1670.0 44.88 L1671.0 44.83 L1672.0 44.79 L1673.0 44.74 L1674.0 44.70 L1675.0 44.66 L1676.0 44.62 L1677.0 44.59 L1678.0 44.55 L1679.0 44.52 L1680.0 44.49 L1681.0 44.45 L1682.0 44.43 L1683.0 44.40 L1684.0 44.37 L1685.0 44.35 L1686.0 44.32 L1687.0 44.30 L1688.0 44.28 L1689.0 44.25 L1690.0 44.23 L1691.0 44.21 L1692.0 44.20 L1693.0 44.18 L1694.0 44.16 L1695.0 44.14 L1696.0 44.13 L1697.0 44.11 L1698.0 44.10 L1699.0 44.09 L1700.0 44.07 L1701.0 44.06 L1702.0 44.05 L1703.0 44.04 L1704.0 44.03 L1705.0 44.02 L1706.0 44.01 L1707.0 44.00 L1708.0 43.99 L1709.0 43.98 L1710.0 43.98 L1711.0 43.97 L1712.0 43.96 L1713.0 43.96 L1714.0 43.95 L1715.0 43.94 L1716.0 43.94 L1717.0 43.93 L1718.0 43.93" fill="none" stroke="#0000e0" stroke-width="2.8" stroke-linejoin="round" stroke-dasharray="10 10"/>
<path d="M987.6 43.70 L988.6 43.66 L989.6 43.63 L990.6 43.60 L991.6 43.57 L992.6 43.55 L993.6 43.54 L994.6 43.52 L995.6 43.52 L996.6 43.52 L997.6 43.52 L998.6 43.53 L999.6 43.55 L1000.6 43.57 L1001.6 43.59 L1002.6 43.62 L1003.6 43.66 L1004.6 43.70 L1005.6 43.75 L1006.6 43.81 L1007.6 43.87 L1008.6 43.94 L1009.6 44.01 L1010.6 44.10 L1011.6 44.18 L1012.6 44.28 L1013.6 44.38 L1014.6 44.49 L1015.6 44.61 L1016.6 44.73 L1017.6 44.86 L1018.6 45.00 L1019.6 45.15 L1020.6 45.30 L1021.6 45.47 L1022.6 45.64 L1023.6 45.82 L1024.6 46.00 L1025.6 46.20 L1026.6 46.40 L1027.6 46.61 L1028.6 46.84 L1029.6 47.07 L1030.6 47.30 L1031.6 47.55 L1032.6 47.81 L1033.6 48.08 L1034.6 48.35 L1035.6 48.64 L1036.6 48.93 L1037.6 49.24 L1038.6 49.55 L1039.6 49.88 L1040.6 50.21 L1041.6 50.56 L1042.6 50.91 L1043.6 51.28 L1044.6 51.65 L1045.6 52.04 L1046.6 52.44 L1047.6 52.85 L1048.6 53.27 L1049.6 53.70 L1050.6 54.14 L1051.6 54.59 L1052.6 55.06 L1053.6 55.53 L1054.6 56.02 L1055.6 56.52 L1056.6 57.03 L1057.6 57.56 L1058.6 58.09 L1059.6 58.64 L1060.6 59.20 L1061.6 59.77 L1062.6 60.36 L1063.6 60.96 L1064.6 61.57 L1065.6 62.19 L1066.6 62.83 L1067.6 63.48 L1068.6 64.14 L1069.6 64.82 L1070.6 65.51 L1071.6 66.21 L1072.6 66.93 L1073.6 67.66 L1074.6 68.41 L1075.6 69.17 L1076.6 69.94 L1077.6 70.73 L1078.6 71.54 L1079.7 72.35 L1080.7 73.19 L1081.7 74.03 L1082.7 74.89 L1083.7 75.77 L1084.7 76.66 L1085.7 77.57 L1086.7 78.50 L1087.7 79.45 L1088.7 80.42 L1089.7 81.41 L1090.7 82.42 L1091.7 83.46 L1092.7 84.53 L1093.7 85.62 L1094.7 86.74 L1095.7 87.88 L1096.7 89.06 L1097.7 90.27 L1098.7 91.52 L1099.7 92.80 L1100.7 94.11 L1101.7 95.46 L1102.7 96.85 L1103.7 98.27 L1104.7 99.74 L1105.7 101.25 L1106.7 102.80 L1107.7 104.40 L1108.7 106.04 L1109.7 107.72 L1110.7 109.46 L1111.7 111.24 L1112.7 113.07 L1113.7 114.96 L1114.7 116.89 L1115.7 118.89 L1116.7 120.94 L1117.7 123.06 L1118.7 125.25 L1119.7 127.52 L1120.7 129.87 L1121.7 132.30 L1122.7 134.83 L1123.7 137.45 L1124.7 140.17 L1125.7 143.00 L1126.7 145.94 L1127.7 148.99 L1128.7 152.15 L1129.7 155.39 L1130.7 158.71 L1131.7 162.11 L1132.7 165.55 L1133.7 169.05 L1134.7 172.58 L1135.7 176.13 L1136.7 179.70 L1137.7 183.26 L1138.7 186.83 L1139.7 190.38 L1140.7 193.93 L1141.7 197.48 L1142.7 201.02 L1143.7 204.57 L1144.7 208.11 L1145.7 211.66 L1146.7 215.21 L1147.7 218.76 L1148.7 222.36 L1149.7 226.02 L1150.7 229.79 L1151.7 233.71 L1152.7 237.77 L1153.7 241.98 L1154.7 246.32 L1155.7 250.77 L1156.7 255.32 L1157.7 259.97 L1158.7 264.69 L1159.7 269.47 L1160.7 274.31 L1161.7 279.19 L1162.7 284.09 L1163.7 289.02 L1164.7 293.96 L1165.7 298.92 L1166.7 303.87 L1167.7 308.82 L1168.7 313.77 L1169.7 318.69 L1170.7 323.59 L1171.7 328.47 L1172.7 333.31 L1173.7 338.10 L1174.7 342.85 L1175.7 347.54 L1176.7 352.18 L1177.7 356.75 L1178.7 361.26 L1179.7 365.72 L1180.7 370.12 L1181.7 374.47 L1182.7 378.77 L1183.7 383.03 L1184.7 387.24 L1185.7 391.41 L1186.7 395.54 L1187.7 399.63 L1188.7 403.67 L1189.7 407.67 L1190.7 411.62 L1191.7 415.51 L1192.7 419.32 L1193.7 423.04 L1194.7 426.68 L1195.7 430.21 L1196.7 433.62 L1197.7 436.92 L1198.7 440.07 L1199.7 443.09 L1200.7 445.94 L1201.7 448.64 L1202.7 451.16 L1203.7 453.51 L1204.7 455.68 L1205.7 457.67 L1206.7 459.47 L1207.7 461.10 L1208.7 462.53 L1209.7 463.78 L1210.7 464.84 L1211.7 465.70 L1212.7 466.37 L1213.7 466.84 L1214.7 467.11 L1215.7 467.18 L1216.7 467.05 L1217.7 466.72 L1218.7 466.20 L1219.7 465.48 L1220.7 464.57 L1221.7 463.47 L1222.7 462.18 L1223.7 460.72 L1224.7 459.07 L1225.7 457.24 L1226.7 455.24 L1227.7 453.07 L1228.7 450.72 L1229.7 448.21 L1230.7 445.53 L1231.7 442.68 L1232.7 439.68 L1233.7 436.52 L1234.7 433.20 L1235.7 429.73 L1236.7 426.11 L1237.7 422.35 L1238.7 418.43 L1239.7 414.38 L1240.7 410.18 L1241.7 405.85 L1242.7 401.38 L1243.7 396.78 L1244.7 392.04 L1245.7 387.18 L1246.7 382.20 L1247.7 377.09 L1248.7 371.86 L1249.7 366.52 L1250.7 361.07 L1251.7 355.58 L1252.7 350.10 L1253.7 344.68 L1254.7 339.38 L1255.7 334.26 L1256.7 329.31 L1257.7 324.15 L1258.7 318.15 L1259.7 311.06 L1260.7 303.96 L1261.8 298.15 L1262.8 293.75 L1263.8 289.57 L1264.8 284.33 L1265.8 277.31 L1266.8 269.74 L1267.8 263.22 L1268.8 258.14 L1269.8 253.54 L1270.8 248.39 L1271.8 242.11 L1272.8 235.64 L1273.8 230.22 L1274.8 226.10 L1275.8 222.44 L1276.8 218.32 L1277.8 212.88 L1278.8 206.27 L1279.8 199.77 L1280.8 194.61 L1281.8 190.85 L1282.8 187.99 L1283.8 185.54 L1284.8 182.99 L1285.8 179.85 L1286.8 176.00 L1287.8 171.77 L1288.8 167.49 L1289.8 163.49 L1290.8 159.92 L1291.8 156.74 L1292.8 153.92 L1293.8 151.40 L1294.8 149.13 L1295.8 147.07 L1296.8 145.18 L1297.8 143.44 L1298.8 141.84 L1299.8 140.38 L1300.8 139.05 L1301.8 137.86 L1302.8 136.80 L1303.8 135.86 L1304.8 135.04 L1305.8 134.33 L1306.8 133.73 L1307.8 133.25 L1308.8 132.86 L1309.8 132.57 L1310.8 132.38 L1311.8 132.28 L1312.8 132.26 L1313.8 132.33 L1314.8 132.47 L1315.8 132.69 L1316.8 132.98 L1317.8 133.33 L1318.8 133.75 L1319.8 134.22 L1320.8 134.74 L1321.8 135.31 L1322.8 135.93 L1323.8 136.59 L1324.8 137.29 L1325.8 138.01 L1326.8 138.77 L1327.8 139.55 L1328.8 140.34 L1329.8 141.16 L1330.8 141.98 L1331.8 142.82 L1332.8 143.65 L1333.8 144.49 L1334.8 145.32 L1335.8 146.14 L1336.8 146.95 L1337.8 147.74 L1338.8 148.51 L1339.8 149.25 L1340.8 149.96 L1341.8 150.64 L1342.8 151.28 L1343.8 151.88 L1344.8 152.43 L1345.8 152.93 L1346.8 153.37 L1347.8 153.76 L1348.8 154.08 L1349.8 154.34 L1350.8 154.52 L1351.8 154.63 L1352.8 154.66 L1353.8 154.61 L1354.8 154.47 L1355.8 154.26 L1356.8 153.98 L1357.8 153.64 L1358.8 153.23 L1359.8 152.76 L1360.8 152.24 L1361.8 151.66 L1362.8 151.05 L1363.8 150.39 L1364.8 149.69 L1365.8 148.96 L1366.8 148.20 L1367.8 147.42 L1368.8 146.62 L1369.8 145.80 L1370.8 144.97 L1371.8 144.13 L1372.8 143.29 L1373.8 142.45 L1374.8 141.62 L1375.8 140.79 L1376.8 139.98 L1377.8 139.19 L1378.8 138.42 L1379.8 137.67 L1380.8 136.96 L1381.8 136.28 L1382.8 135.64 L1383.8 135.04 L1384.8 134.50 L1385.8 134.00 L1386.8 133.56 L1387.8 133.18 L1388.8 132.87 L1389.8 132.62 L1390.8 132.45 L1391.8 132.36 L1392.8 132.34 L1393.8 132.41 L1394.8 132.57 L1395.8 132.83 L1396.8 133.17 L1397.8 133.61 L1398.8 134.14 L1399.8 134.78 L1400.8 135.52 L1401.8 136.36 L1402.8 137.31 L1403.8 138.37 L1404.8 139.55 L1405.8 140.84 L1406.8 142.24 L1407.8 143.77 L1408.8 145.42 L1409.8 147.19 L1410.8 149.12 L1411.8 151.24 L1412.8 153.64 L1413.8 156.36 L1414.8 159.48 L1415.8 163.06 L1416.8 167.15 L1417.8 171.58 L1418.8 175.97 L1419.8 179.96 L1420.8 183.18 L1421.8 185.73 L1422.8 188.13 L1423.8 190.91 L1424.8 194.60 L1425.8 199.73 L1426.8 206.24 L1427.8 212.88 L1428.8 218.34 L1429.8 222.46 L1430.8 226.11 L1431.8 230.22 L1432.8 235.63 L1433.8 242.11 L1434.8 248.39 L1435.8 253.54 L1436.8 258.14 L1437.8 263.22 L1438.8 269.73 L1439.8 277.30 L1440.8 284.33 L1441.8 289.59 L1442.8 293.79 L1443.8 298.18 L1444.9 303.95 L1445.9 310.98 L1446.9 318.04 L1447.9 324.10 L1448.9 329.37 L1449.9 334.41 L1450.9 339.59 L1451.9 344.90 L1452.9 350.29 L1453.9 355.69 L1454.9 361.05 L1455.9 366.38 L1456.9 371.65 L1457.9 376.84 L1458.9 381.96 L1459.9 386.99 L1460.9 391.91 L1461.9 396.71 L1462.9 401.38 L1463.9 405.91 L1464.9 410.29 L1465.9 414.52 L1466.9 418.60 L1467.9 422.53 L1468.9 426.29 L1469.9 429.91 L1470.9 433.36 L1471.9 436.65 L1472.9 439.79 L1473.9 442.76 L1474.9 445.56 L1475.9 448.20 L1476.9 450.68 L1477.9 452.98 L1478.9 455.12 L1479.9 457.08 L1480.9 458.88 L1481.9 460.50 L1482.9 461.94 L1483.9 463.21 L1484.9 464.30 L1485.9 465.21 L1486.9 465.93 L1487.9 466.48 L1488.9 466.84 L1489.9 467.02 L1490.9 467.01 L1491.9 466.82 L1492.9 466.43 L1493.9 465.85 L1494.9 465.09 L1495.9 464.12 L1496.9 462.96 L1497.9 461.59 L1498.9 460.02 L1499.9 458.22 L1500.9 456.21 L1501.9 453.98 L1502.9 451.51 L1503.9 448.81 L1504.9 445.88 L1505.9 442.74 L1506.9 439.44 L1507.9 436.02 L1508.9 432.54 L1509.9 429.02 L1510.9 425.53 L1511.9 422.10 L1512.9 418.77 L1513.9 415.56 L1514.9 412.33 L1515.9 408.90 L1516.9 405.10 L1517.9 400.79 L1518.9 396.11 L1519.9 391.30 L1520.9 386.57 L1521.9 382.13 L1522.9 377.95 L1523.9 373.91 L1524.9 369.88 L1525.9 365.74 L1526.9 361.47 L1527.9 357.07 L1528.9 352.56 L1529.9 347.94 L1530.9 343.24 L1531.9 338.45 L1532.9 333.59 L1533.9 328.68 L1534.9 323.72 L1535.9 318.72 L1536.9 313.70 L1537.9 308.67 L1538.9 303.63 L1539.9 298.61 L1540.9 293.60 L1541.9 288.63 L1542.9 283.70 L1543.9 278.83 L1544.9 274.01 L1545.9 269.27 L1546.9 264.61 L1547.9 260.01 L1548.9 255.49 L1549.9 251.04 L1550.9 246.68 L1551.9 242.39 L1552.9 238.18 L1553.9 234.06 L1554.9 230.02 L1555.9 226.07 L1556.9 222.20 L1557.9 218.43 L1558.9 214.74 L1559.9 211.14 L1560.9 207.62 L1561.9 204.15 L1562.9 200.72 L1563.9 197.32 L1564.9 193.92 L1565.9 190.52 L1566.9 187.10 L1567.9 183.63 L1568.9 180.12 L1569.9 176.56 L1570.9 172.99 L1571.9 169.40 L1572.9 165.82 L1573.9 162.28 L1574.9 158.77 L1575.9 155.33 L1576.9 151.97 L1577.9 148.71 L1578.9 145.55 L1579.9 142.53 L1580.9 139.64 L1581.9 136.87 L1582.9 134.22 L1583.9 131.69 L1584.9 129.26 L1585.9 126.94 L1586.9 124.71 L1587.9 122.58 L1588.9 120.53 L1589.9 118.56 L1590.9 116.67 L1591.9 114.84 L1592.9 113.08 L1593.9 111.38 L1594.9 109.73 L1595.9 108.12 L1596.9 106.55 L1597.9 105.02 L1598.9 103.52 L1599.9 102.05 L1600.9 100.60 L1601.9 99.17 L1602.9 97.77 L1603.9 96.40 L1604.9 95.05 L1605.9 93.72 L1606.9 92.42 L1607.9 91.14 L1608.9 89.88 L1609.9 88.65 L1610.9 87.44 L1611.9 86.25 L1612.9 85.09 L1613.9 83.95 L1614.9 82.83 L1615.9 81.73 L1616.9 80.65 L1617.9 79.60 L1618.9 78.57 L1619.9 77.55 L1620.9 76.56 L1621.9 75.59 L1622.9 74.64 L1623.9 73.71 L1624.9 72.80 L1625.9 71.91 L1627.0 71.03 L1628.0 70.18 L1629.0 69.35 L1630.0 68.53 L1631.0 67.74 L1632.0 66.96 L1633.0 66.20 L1634.0 65.46 L1635.0 64.73 L1636.0 64.02 L1637.0 63.33 L1638.0 62.66 L1639.0 62.00 L1640.0 61.36 L1641.0 60.74 L1642.0 60.13 L1643.0 59.54 L1644.0 58.96 L1645.0 58.40 L1646.0 57.85 L1647.0 57.32 L1648.0 56.80 L1649.0 56.30 L1650.0 55.81 L1651.0 55.34 L1652.0 54.88 L1653.0 54.43 L1654.0 53.99 L1655.0 53.57 L1656.0 53.16 L1657.0 52.77 L1658.0 52.39 L1659.0 52.01 L1660.0 51.65 L1661.0 51.31 L1662.0 50.97 L1663.0 50.65 L1664.0 50.33 L1665.0 50.03 L1666.0 49.74 L1667.0 49.45 L1668.0 49.18 L1669.0 48.92 L1670.0 48.67 L1671.0 48.42 L1672.0 48.19 L1673.0 47.96 L1674.0 47.75 L1675.0 47.54 L1676.0 47.34 L1677.0 47.15 L1678.0 46.96 L1679.0 46.79 L1680.0 46.62 L1681.0 46.46 L1682.0 46.30 L1683.0 46.15 L1684.0 46.01 L1685.0 45.87 L1686.0 45.75 L1687.0 45.62 L1688.0 45.50 L1689.0 45.39 L1690.0 45.28 L1691.0 45.18 L1692.0 45.08 L1693.0 44.99 L1694.0 44.90 L1695.0 44.81 L1696.0 44.73 L1697.0 44.65 L1698.0 44.57 L1699.0 44.50 L1700.0 44.43 L1701.0 44.37 L1702.0 44.30 L1703.0 44.24 L1704.0 44.18 L1705.0 44.12 L1706.0 44.06 L1707.0 44.01 L1708.0 43.95 L1709.0 43.90 L1710.0 43.84 L1711.0 43.79 L1712.0 43.73 L1713.0 43.68 L1714.0 43.63 L1715.0 43.57 L1716.0 43.52 L1717.0 43.46 L1718.0 43.40" fill="none" stroke="#f08205" stroke-width="2.6" stroke-linejoin="round" stroke-dasharray="19.5 19"/>
<path d="M120.6 1110.47 L121.6 1110.46 L122.6 1110.46 L123.6 1110.45 L124.6 1110.45 L125.6 1110.44 L126.6 1110.44 L127.6 1110.43 L128.6 1110.42 L129.6 1110.42 L130.6 1110.41 L131.6 1110.40 L132.6 1110.40 L133.6 1110.39 L134.6 1110.38 L135.6 1110.37 L136.6 1110.37 L137.6 1110.36 L138.6 1110.35 L139.6 1110.34 L140.6 1110.33 L141.6 1110.32 L142.6 1110.31 L143.6 1110.30 L144.6 1110.29 L145.6 1110.28 L146.6 1110.27 L147.6 1110.26 L148.6 1110.24 L149.6 1110.23 L150.6 1110.22 L151.6 1110.20 L152.6 1110.19 L153.6 1110.17 L154.6 1110.16 L155.6 1110.14 L156.6 1110.13 L157.6 1110.11 L158.6 1110.09 L159.6 1110.07 L160.6 1110.05 L161.6 1110.03 L162.6 1110.01 L163.6 1109.99 L164.6 1109.97 L165.6 1109.95 L166.6 1109.93 L167.6 1109.90 L168.6 1109.88 L169.6 1109.85 L170.6 1109.82 L171.6 1109.80 L172.6 1109.77 L173.6 1109.74 L174.6 1109.71 L175.6 1109.68 L176.6 1109.65 L177.6 1109.61 L178.6 1109.58 L179.6 1109.54 L180.6 1109.51 L181.6 1109.47 L182.6 1109.43 L183.6 1109.39 L184.6 1109.35 L185.6 1109.30 L186.6 1109.26 L187.6 1109.21 L188.6 1109.17 L189.6 1109.12 L190.6 1109.07 L191.6 1109.02 L192.6 1108.96 L193.6 1108.91 L194.6 1108.85 L195.6 1108.79 L196.6 1108.73 L197.6 1108.67 L198.6 1108.61 L199.6 1108.54 L200.6 1108.47 L201.6 1108.40 L202.6 1108.33 L203.6 1108.26 L204.6 1108.18 L205.6 1108.10 L206.6 1108.02 L207.6 1107.94 L208.6 1107.85 L209.6 1107.76 L210.6 1107.67 L211.6 1107.58 L212.6 1107.48 L213.6 1107.39 L214.6 1107.28 L215.6 1107.18 L216.6 1107.07 L217.6 1106.96 L218.6 1106.85 L219.6 1106.73 L220.6 1106.61 L221.6 1106.49 L222.6 1106.37 L223.6 1106.24 L224.6 1106.10 L225.6 1105.97 L226.6 1105.83 L227.6 1105.68 L228.6 1105.53 L229.6 1105.38 L230.7 1105.23 L231.7 1105.07 L232.7 1104.90 L233.7 1104.73 L234.7 1104.56 L235.7 1104.38 L236.7 1104.20 L237.7 1104.02 L238.7 1103.83 L239.7 1103.63 L240.7 1103.43 L241.7 1103.23 L242.7 1103.01 L243.7 1102.80 L244.7 1102.58 L245.7 1102.35 L246.7 1102.12 L247.7 1101.88 L248.7 1101.64 L249.7 1101.39 L250.7 1101.14 L251.7 1100.87 L252.7 1100.61 L253.7 1100.33 L254.7 1100.05 L255.7 1099.77 L256.7 1099.48 L257.7 1099.18 L258.7 1098.87 L259.7 1098.56 L260.7 1098.24 L261.7 1097.91 L262.7 1097.58 L263.7 1097.23 L264.7 1096.89 L265.7 1096.53 L266.7 1096.16 L267.7 1095.79 L268.7 1095.41 L269.7 1095.02 L270.7 1094.63 L271.7 1094.22 L272.7 1093.81 L273.7 1093.39 L274.7 1092.95 L275.7 1092.52 L276.7 1092.07 L277.7 1091.61 L278.7 1091.14 L279.7 1090.67 L280.7 1090.18 L281.7 1089.69 L282.7 1089.18 L283.7 1088.67 L284.7 1088.14 L285.7 1087.61 L286.7 1087.06 L287.7 1086.51 L288.7 1085.94 L289.7 1085.36 L290.7 1084.77 L291.7 1084.18 L292.7 1083.57 L293.7 1082.95 L294.7 1082.31 L295.7 1081.67 L296.7 1081.01 L297.7 1080.34 L298.7 1079.66 L299.7 1078.97 L300.7 1078.27 L301.7 1077.55 L302.7 1076.82 L303.7 1076.08 L304.7 1075.32 L305.7 1074.55 L306.7 1073.77 L307.7 1072.97 L308.7 1072.16 L309.7 1071.34 L310.7 1070.50 L311.7 1069.64 L312.7 1068.77 L313.7 1067.89 L314.7 1066.99 L315.7 1066.07 L316.7 1065.14 L317.7 1064.19 L318.7 1063.23 L319.7 1062.25 L320.7 1061.26 L321.7 1060.24 L322.7 1059.21 L323.7 1058.16 L324.7 1057.10 L325.7 1056.01 L326.7 1054.91 L327.7 1053.79 L328.7 1052.65 L329.7 1051.49 L330.7 1050.32 L331.7 1049.12 L332.7 1047.91 L333.7 1046.67 L334.7 1045.42 L335.7 1044.14 L336.7 1042.85 L337.7 1041.54 L338.7 1040.20 L339.7 1038.85 L340.7 1037.47 L341.7 1036.08 L342.7 1034.67 L343.7 1033.23 L344.7 1031.78 L345.7 1030.30 L346.7 1028.81 L347.7 1027.29 L348.7 1025.76 L349.7 1024.21 L350.7 1022.63 L351.7 1021.04 L352.7 1019.43 L353.7 1017.80 L354.7 1016.15 L355.7 1014.49 L356.7 1012.80 L357.7 1011.10 L358.7 1009.38 L359.7 1007.65 L360.7 1005.90 L361.7 1004.13 L362.7 1002.35 L363.7 1000.55 L364.7 998.73 L365.7 996.91 L366.7 995.07 L367.7 993.21 L368.7 991.35 L369.7 989.47 L370.7 987.58 L371.7 985.68 L372.7 983.76 L373.7 981.84 L374.7 979.91 L375.7 977.97 L376.7 976.02 L377.7 974.07 L378.7 972.11 L379.7 970.14 L380.7 968.17 L381.7 966.19 L382.7 964.20 L383.7 962.22 L384.7 960.22 L385.7 958.23 L386.7 956.23 L387.7 954.24 L388.7 952.24 L389.7 950.24 L390.7 948.24 L391.7 946.24 L392.7 944.25 L393.7 942.25 L394.7 940.26 L395.7 938.27 L396.7 936.29 L397.7 934.31 L398.7 932.33 L399.7 930.36 L400.7 928.39 L401.7 926.43 L402.7 924.48 L403.7 922.53 L404.7 920.59 L405.7 918.66 L406.7 916.74 L407.7 914.82 L408.7 912.92 L409.7 911.03 L410.7 909.14 L411.7 907.27 L412.7 905.41 L413.7 903.56 L414.7 901.72 L415.7 899.89 L416.7 898.08 L417.7 896.28 L418.7 894.50 L419.7 892.72 L420.7 890.97 L421.7 889.22 L422.7 887.50 L423.7 885.79 L424.7 884.09 L425.7 882.41 L426.7 880.75 L427.7 879.11 L428.7 877.48 L429.7 875.87 L430.7 874.28 L431.7 872.71 L432.7 871.16 L433.7 869.62 L434.7 868.11 L435.7 866.62 L436.7 865.14 L437.7 863.69 L438.7 862.26 L439.7 860.85 L440.7 859.46 L441.7 858.10 L442.7 856.75 L443.7 855.43 L444.7 854.14 L445.7 852.87 L446.7 851.62 L447.7 850.39 L448.7 849.19 L449.7 848.02 L450.7 846.87 L451.7 845.74 L452.7 844.64 L453.7 843.57 L454.7 842.52 L455.7 841.51 L456.7 840.51 L457.7 839.55 L458.7 838.61 L459.7 837.70 L460.7 836.82 L461.7 835.97 L462.7 835.15 L463.7 834.36 L464.7 833.59 L465.7 832.86 L466.7 832.15 L467.7 831.48 L468.7 830.84 L469.7 830.22 L470.7 829.64 L471.7 829.09 L472.7 828.58 L473.7 828.09 L474.7 827.64 L475.8 827.22 L476.8 826.83 L477.8 826.47 L478.8 826.15 L479.8 825.86 L480.8 825.61 L481.8 825.39 L482.8 825.20 L483.8 825.05 L484.8 824.94 L485.8 824.86 L486.8 824.82 L487.8 824.82 L488.8 824.86 L489.8 824.94 L490.8 825.05 L491.8 825.20 L492.8 825.39 L493.8 825.61 L494.8 825.86 L495.8 826.15 L496.8 826.47 L497.8 826.83 L498.8 827.22 L499.8 827.64 L500.8 828.09 L501.8 828.58 L502.8 829.09 L503.8 829.64 L504.8 830.22 L505.8 830.84 L506.8 831.48 L507.8 832.15 L508.8 832.86 L509.8 833.59 L510.8 834.36 L511.8 835.15 L512.8 835.97 L513.8 836.82 L514.8 837.70 L515.8 838.61 L516.8 839.55 L517.8 840.51 L518.8 841.51 L519.8 842.52 L520.8 843.57 L521.8 844.64 L522.8 845.74 L523.8 846.87 L524.8 848.02 L525.8 849.19 L526.8 850.39 L527.8 851.62 L528.8 852.87 L529.8 854.14 L530.8 855.43 L531.8 856.75 L532.8 858.10 L533.8 859.46 L534.8 860.85 L535.8 862.26 L536.8 863.69 L537.8 865.14 L538.8 866.62 L539.8 868.11 L540.8 869.62 L541.8 871.16 L542.8 872.71 L543.8 874.28 L544.8 875.87 L545.8 877.48 L546.8 879.11 L547.8 880.75 L548.8 882.41 L549.8 884.09 L550.8 885.79 L551.8 887.50 L552.8 889.22 L553.8 890.97 L554.8 892.72 L555.8 894.50 L556.8 896.28 L557.8 898.08 L558.8 899.89 L559.8 901.72 L560.8 903.56 L561.8 905.41 L562.8 907.27 L563.8 909.14 L564.8 911.03 L565.8 912.92 L566.8 914.82 L567.8 916.74 L568.8 918.66 L569.8 920.59 L570.8 922.53 L571.8 924.48 L572.8 926.43 L573.8 928.39 L574.8 930.36 L575.8 932.33 L576.8 934.31 L577.8 936.29 L578.8 938.27 L579.8 940.26 L580.8 942.25 L581.8 944.25 L582.8 946.24 L583.8 948.24 L584.8 950.24 L585.8 952.24 L586.8 954.24 L587.8 956.23 L588.8 958.23 L589.8 960.22 L590.8 962.22 L591.8 964.20 L592.8 966.19 L593.8 968.17 L594.8 970.14 L595.8 972.11 L596.8 974.07 L597.8 976.02 L598.8 977.97 L599.8 979.91 L600.8 981.84 L601.8 983.76 L602.8 985.68 L603.8 987.58 L604.8 989.47 L605.8 991.35 L606.8 993.21 L607.8 995.07 L608.8 996.91 L609.8 998.73 L610.8 1000.55 L611.8 1002.35 L612.8 1004.13 L613.8 1005.90 L614.8 1007.65 L615.8 1009.38 L616.8 1011.10 L617.8 1012.80 L618.8 1014.49 L619.8 1016.15 L620.8 1017.80 L621.8 1019.43 L622.8 1021.04 L623.8 1022.63 L624.8 1024.21 L625.8 1025.76 L626.8 1027.29 L627.8 1028.81 L628.8 1030.30 L629.8 1031.78 L630.8 1033.23 L631.8 1034.67 L632.8 1036.08 L633.8 1037.47 L634.8 1038.85 L635.8 1040.20 L636.8 1041.54 L637.8 1042.85 L638.8 1044.14 L639.8 1045.42 L640.8 1046.67 L641.8 1047.91 L642.8 1049.12 L643.8 1050.32 L644.8 1051.49 L645.8 1052.65 L646.8 1053.79 L647.8 1054.91 L648.8 1056.01 L649.8 1057.10 L650.8 1058.16 L651.8 1059.21 L652.8 1060.24 L653.8 1061.26 L654.8 1062.25 L655.8 1063.23 L656.8 1064.19 L657.8 1065.14 L658.8 1066.07 L659.8 1066.99 L660.8 1067.89 L661.8 1068.77 L662.8 1069.64 L663.8 1070.50 L664.8 1071.34 L665.8 1072.16 L666.8 1072.97 L667.8 1073.77 L668.8 1074.55 L669.8 1075.32 L670.8 1076.08 L671.8 1076.82 L672.8 1077.55 L673.8 1078.27 L674.8 1078.97 L675.8 1079.66 L676.8 1080.34 L677.8 1081.01 L678.8 1081.67 L679.8 1082.31 L680.8 1082.95 L681.8 1083.57 L682.8 1084.18 L683.8 1084.77 L684.8 1085.36 L685.8 1085.94 L686.8 1086.51 L687.8 1087.06 L688.8 1087.61 L689.8 1088.14 L690.8 1088.67 L691.8 1089.18 L692.8 1089.69 L693.8 1090.18 L694.8 1090.67 L695.8 1091.14 L696.8 1091.61 L697.8 1092.07 L698.8 1092.52 L699.8 1092.95 L700.8 1093.39 L701.8 1093.81 L702.8 1094.22 L703.8 1094.63 L704.8 1095.02 L705.8 1095.41 L706.8 1095.79 L707.8 1096.16 L708.8 1096.53 L709.8 1096.89 L710.8 1097.23 L711.8 1097.58 L712.8 1097.91 L713.8 1098.24 L714.8 1098.56 L715.8 1098.87 L716.8 1099.18 L717.8 1099.48 L718.8 1099.77 L719.9 1100.05 L720.9 1100.33 L721.9 1100.61 L722.9 1100.87 L723.9 1101.14 L724.9 1101.39 L725.9 1101.64 L726.9 1101.88 L727.9 1102.12 L728.9 1102.35 L729.9 1102.58 L730.9 1102.80 L731.9 1103.01 L732.9 1103.23 L733.9 1103.43 L734.9 1103.63 L735.9 1103.83 L736.9 1104.02 L737.9 1104.20 L738.9 1104.38 L739.9 1104.56 L740.9 1104.73 L741.9 1104.90 L742.9 1105.07 L743.9 1105.23 L744.9 1105.38 L745.9 1105.53 L746.9 1105.68 L747.9 1105.83 L748.9 1105.97 L749.9 1106.10 L750.9 1106.24 L751.9 1106.37 L752.9 1106.49 L753.9 1106.61 L754.9 1106.73 L755.9 1106.85 L756.9 1106.96 L757.9 1107.07 L758.9 1107.18 L759.9 1107.28 L760.9 1107.39 L761.9 1107.48 L762.9 1107.58 L763.9 1107.67 L764.9 1107.76 L765.9 1107.85 L766.9 1107.94 L767.9 1108.02 L768.9 1108.10 L769.9 1108.18 L770.9 1108.26 L771.9 1108.33 L772.9 1108.40 L773.9 1108.47 L774.9 1108.54 L775.9 1108.61 L776.9 1108.67 L777.9 1108.73 L778.9 1108.79 L779.9 1108.85 L780.9 1108.91 L781.9 1108.96 L782.9 1109.02 L783.9 1109.07 L784.9 1109.12 L785.9 1109.17 L786.9 1109.21 L787.9 1109.26 L788.9 1109.30 L789.9 1109.35 L790.9 1109.39 L791.9 1109.43 L792.9 1109.47 L793.9 1109.51 L794.9 1109.54 L795.9 1109.58 L796.9 1109.61 L797.9 1109.65 L798.9 1109.68 L799.9 1109.71 L800.9 1109.74 L801.9 1109.77 L802.9 1109.80 L803.9 1109.82 L804.9 1109.85 L805.9 1109.88 L806.9 1109.90 L807.9 1109.93 L808.9 1109.95 L809.9 1109.97 L810.9 1109.99 L811.9 1110.01 L812.9 1110.03 L813.9 1110.05 L814.9 1110.07 L815.9 1110.09 L816.9 1110.11 L817.9 1110.13 L818.9 1110.14 L819.9 1110.16 L820.9 1110.17 L821.9 1110.19 L822.9 1110.20 L823.9 1110.22 L824.9 1110.23 L825.9 1110.24 L826.9 1110.26 L827.9 1110.27 L828.9 1110.28 L829.9 1110.29 L830.9 1110.30 L831.9 1110.31 L832.9 1110.32 L833.9 1110.33 L834.9 1110.34 L835.9 1110.35 L836.9 1110.36 L837.9 1110.37 L838.9 1110.37 L839.9 1110.38 L840.9 1110.39 L841.9 1110.40 L842.9 1110.40 L843.9 1110.41 L844.9 1110.42 L845.9 1110.42 L846.9 1110.43 L847.9 1110.44 L848.9 1110.44 L849.9 1110.45 L850.9 1110.45 L851.9 1110.46 L852.9 1110.46 L853.9 1110.47" fill="none" stroke="#000" stroke-width="2.8" stroke-linejoin="round"/>
<path d="M120.6 1110.58 L121.6 1110.58 L122.6 1110.57 L123.6 1110.57 L124.6 1110.56 L125.6 1110.56 L126.6 1110.55 L127.6 1110.55 L128.6 1110.54 L129.6 1110.53 L130.6 1110.53 L131.6 1110.52 L132.6 1110.51 L133.6 1110.51 L134.6 1110.50 L135.6 1110.49 L136.6 1110.48 L137.6 1110.47 L138.6 1110.46 L139.6 1110.46 L140.6 1110.45 L141.6 1110.43 L142.6 1110.42 L143.6 1110.41 L144.6 1110.40 L145.6 1110.39 L146.6 1110.38 L147.6 1110.36 L148.6 1110.35 L149.6 1110.34 L150.6 1110.32 L151.6 1110.30 L152.6 1110.29 L153.6 1110.27 L154.6 1110.25 L155.6 1110.24 L156.6 1110.22 L157.6 1110.20 L158.6 1110.18 L159.6 1110.16 L160.6 1110.13 L161.6 1110.11 L162.6 1110.09 L163.6 1110.06 L164.6 1110.04 L165.6 1110.01 L166.6 1109.98 L167.6 1109.95 L168.6 1109.92 L169.6 1109.89 L170.6 1109.86 L171.6 1109.83 L172.6 1109.79 L173.6 1109.76 L174.6 1109.72 L175.6 1109.68 L176.6 1109.64 L177.6 1109.60 L178.6 1109.56 L179.6 1109.51 L180.6 1109.46 L181.6 1109.42 L182.6 1109.37 L183.6 1109.32 L184.6 1109.26 L185.6 1109.21 L186.6 1109.15 L187.6 1109.09 L188.6 1109.03 L189.6 1108.97 L190.6 1108.90 L191.6 1108.83 L192.6 1108.76 L193.6 1108.69 L194.6 1108.62 L195.6 1108.54 L196.6 1108.46 L197.6 1108.38 L198.6 1108.29 L199.6 1108.21 L200.6 1108.12 L201.6 1108.02 L202.6 1107.93 L203.6 1107.83 L204.6 1107.73 L205.6 1107.62 L206.6 1107.51 L207.6 1107.40 L208.6 1107.29 L209.6 1107.17 L210.6 1107.05 L211.6 1106.92 L212.6 1106.80 L213.6 1106.66 L214.6 1106.53 L215.6 1106.39 L216.6 1106.24 L217.6 1106.10 L218.6 1105.95 L219.6 1105.79 L220.6 1105.63 L221.6 1105.47 L222.6 1105.30 L223.6 1105.13 L224.6 1104.95 L225.6 1104.77 L226.6 1104.59 L227.6 1104.40 L228.6 1104.20 L229.6 1104.00 L230.7 1103.80 L231.7 1103.59 L232.7 1103.38 L233.7 1103.16 L234.7 1102.94 L235.7 1102.71 L236.7 1102.48 L237.7 1102.24 L238.7 1101.99 L239.7 1101.75 L240.7 1101.49 L241.7 1101.23 L242.7 1100.97 L243.7 1100.70 L244.7 1100.42 L245.7 1100.14 L246.7 1099.85 L247.7 1099.56 L248.7 1099.26 L249.7 1098.95 L250.7 1098.64 L251.7 1098.32 L252.7 1098.00 L253.7 1097.67 L254.7 1097.33 L255.7 1096.98 L256.7 1096.63 L257.7 1096.27 L258.7 1095.91 L259.7 1095.53 L260.7 1095.15 L261.7 1094.77 L262.7 1094.37 L263.7 1093.96 L264.7 1093.55 L265.7 1093.13 L266.7 1092.70 L267.7 1092.26 L268.7 1091.81 L269.7 1091.36 L270.7 1090.89 L271.7 1090.42 L272.7 1089.93 L273.7 1089.44 L274.7 1088.93 L275.7 1088.41 L276.7 1087.89 L277.7 1087.35 L278.7 1086.80 L279.7 1086.24 L280.7 1085.67 L281.7 1085.08 L282.7 1084.49 L283.7 1083.88 L284.7 1083.26 L285.7 1082.62 L286.7 1081.97 L287.7 1081.31 L288.7 1080.64 L289.7 1079.95 L290.7 1079.24 L291.7 1078.52 L292.7 1077.79 L293.7 1077.04 L294.7 1076.28 L295.7 1075.50 L296.7 1074.70 L297.7 1073.89 L298.7 1073.06 L299.7 1072.22 L300.7 1071.36 L301.7 1070.48 L302.7 1069.58 L303.7 1068.67 L304.7 1067.74 L305.7 1066.79 L306.7 1065.82 L307.7 1064.84 L308.7 1063.83 L309.7 1062.81 L310.7 1061.77 L311.7 1060.70 L312.7 1059.62 L313.7 1058.52 L314.7 1057.40 L315.7 1056.26 L316.7 1055.10 L317.7 1053.92 L318.7 1052.73 L319.7 1051.51 L320.7 1050.27 L321.7 1049.01 L322.7 1047.72 L323.7 1046.42 L324.7 1045.10 L325.7 1043.76 L326.7 1042.40 L327.7 1041.01 L328.7 1039.61 L329.7 1038.18 L330.7 1036.74 L331.7 1035.27 L332.7 1033.79 L333.7 1032.28 L334.7 1030.75 L335.7 1029.20 L336.7 1027.64 L337.7 1026.05 L338.7 1024.44 L339.7 1022.81 L340.7 1021.17 L341.7 1019.50 L342.7 1017.81 L343.7 1016.11 L344.7 1014.39 L345.7 1012.64 L346.7 1010.88 L347.7 1009.10 L348.7 1007.30 L349.7 1005.49 L350.7 1003.65 L351.7 1001.80 L352.7 999.93 L353.7 998.05 L354.7 996.14 L355.7 994.23 L356.7 992.29 L357.7 990.34 L358.7 988.38 L359.7 986.40 L360.7 984.40 L361.7 982.40 L362.7 980.37 L363.7 978.34 L364.7 976.29 L365.7 974.23 L366.7 972.16 L367.7 970.07 L368.7 967.98 L369.7 965.87 L370.7 963.75 L371.7 961.63 L372.7 959.49 L373.7 957.34 L374.7 955.19 L375.7 953.03 L376.7 950.86 L377.7 948.68 L378.7 946.50 L379.7 944.31 L380.7 942.12 L381.7 939.92 L382.7 937.72 L383.7 935.51 L384.7 933.30 L385.7 931.09 L386.7 928.87 L387.7 926.65 L388.7 924.44 L389.7 922.22 L390.7 920.00 L391.7 917.79 L392.7 915.57 L393.7 913.36 L394.7 911.15 L395.7 908.94 L396.7 906.74 L397.7 904.54 L398.7 902.34 L399.7 900.16 L400.7 897.97 L401.7 895.80 L402.7 893.63 L403.7 891.47 L404.7 889.32 L405.7 887.17 L406.7 885.04 L407.7 882.92 L408.7 880.81 L409.7 878.71 L410.7 876.62 L411.7 874.55 L412.7 872.49 L413.7 870.44 L414.7 868.41 L415.7 866.39 L416.7 864.39 L417.7 862.40 L418.7 860.44 L419.7 858.48 L420.7 856.55 L421.7 854.64 L422.7 852.74 L423.7 850.87 L424.7 849.01 L425.7 847.18 L426.7 845.36 L427.7 843.57 L428.7 841.80 L429.7 840.06 L430.7 838.33 L431.7 836.64 L432.7 834.96 L433.7 833.31 L434.7 831.68 L435.7 830.09 L436.7 828.51 L437.7 826.96 L438.7 825.44 L439.7 823.95 L440.7 822.49 L441.7 821.05 L442.7 819.64 L443.7 818.26 L444.7 816.91 L445.7 815.59 L446.7 814.30 L447.7 813.04 L448.7 811.81 L449.7 810.61 L450.7 809.44 L451.7 808.30 L452.7 807.20 L453.7 806.12 L454.7 805.08 L455.7 804.07 L456.7 803.10 L457.7 802.15 L458.7 801.24 L459.7 800.36 L460.7 799.51 L461.7 798.70 L462.7 797.92 L463.7 797.17 L464.7 796.46 L465.7 795.78 L466.7 795.13 L467.7 794.52 L468.7 793.94 L469.7 793.39 L470.7 792.88 L471.7 792.40 L472.7 791.95 L473.7 791.54 L474.7 791.15 L475.8 790.80 L476.8 790.49 L477.8 790.20 L478.8 789.95 L479.8 789.73 L480.8 789.53 L481.8 789.37 L482.8 789.24 L483.8 789.14 L484.8 789.06 L485.8 789.02 L486.8 789.00 L487.8 789.00 L488.8 789.02 L489.8 789.06 L490.8 789.14 L491.8 789.24 L492.8 789.37 L493.8 789.53 L494.8 789.73 L495.8 789.95 L496.8 790.20 L497.8 790.49 L498.8 790.80 L499.8 791.15 L500.8 791.54 L501.8 791.95 L502.8 792.40 L503.8 792.88 L504.8 793.39 L505.8 793.94 L506.8 794.52 L507.8 795.13 L508.8 795.78 L509.8 796.46 L510.8 797.17 L511.8 797.92 L512.8 798.70 L513.8 799.51 L514.8 800.36 L515.8 801.24 L516.8 802.15 L517.8 803.10 L518.8 804.07 L519.8 805.08 L520.8 806.12 L521.8 807.20 L522.8 808.30 L523.8 809.44 L524.8 810.61 L525.8 811.81 L526.8 813.04 L527.8 814.30 L528.8 815.59 L529.8 816.91 L530.8 818.26 L531.8 819.64 L532.8 821.05 L533.8 822.49 L534.8 823.95 L535.8 825.44 L536.8 826.96 L537.8 828.51 L538.8 830.09 L539.8 831.68 L540.8 833.31 L541.8 834.96 L542.8 836.64 L543.8 838.33 L544.8 840.06 L545.8 841.80 L546.8 843.57 L547.8 845.36 L548.8 847.18 L549.8 849.01 L550.8 850.87 L551.8 852.74 L552.8 854.64 L553.8 856.55 L554.8 858.48 L555.8 860.44 L556.8 862.40 L557.8 864.39 L558.8 866.39 L559.8 868.41 L560.8 870.44 L561.8 872.49 L562.8 874.55 L563.8 876.62 L564.8 878.71 L565.8 880.81 L566.8 882.92 L567.8 885.04 L568.8 887.17 L569.8 889.32 L570.8 891.47 L571.8 893.63 L572.8 895.80 L573.8 897.97 L574.8 900.16 L575.8 902.34 L576.8 904.54 L577.8 906.74 L578.8 908.94 L579.8 911.15 L580.8 913.36 L581.8 915.57 L582.8 917.79 L583.8 920.00 L584.8 922.22 L585.8 924.44 L586.8 926.65 L587.8 928.87 L588.8 931.09 L589.8 933.30 L590.8 935.51 L591.8 937.72 L592.8 939.92 L593.8 942.12 L594.8 944.31 L595.8 946.50 L596.8 948.68 L597.8 950.86 L598.8 953.03 L599.8 955.19 L600.8 957.34 L601.8 959.49 L602.8 961.63 L603.8 963.75 L604.8 965.87 L605.8 967.98 L606.8 970.07 L607.8 972.16 L608.8 974.23 L609.8 976.29 L610.8 978.34 L611.8 980.37 L612.8 982.40 L613.8 984.40 L614.8 986.40 L615.8 988.38 L616.8 990.34 L617.8 992.29 L618.8 994.23 L619.8 996.14 L620.8 998.05 L621.8 999.93 L622.8 1001.80 L623.8 1003.65 L624.8 1005.49 L625.8 1007.30 L626.8 1009.10 L627.8 1010.88 L628.8 1012.64 L629.8 1014.39 L630.8 1016.11 L631.8 1017.81 L632.8 1019.50 L633.8 1021.17 L634.8 1022.81 L635.8 1024.44 L636.8 1026.05 L637.8 1027.64 L638.8 1029.20 L639.8 1030.75 L640.8 1032.28 L641.8 1033.79 L642.8 1035.27 L643.8 1036.74 L644.8 1038.18 L645.8 1039.61 L646.8 1041.01 L647.8 1042.40 L648.8 1043.76 L649.8 1045.10 L650.8 1046.42 L651.8 1047.72 L652.8 1049.01 L653.8 1050.27 L654.8 1051.51 L655.8 1052.73 L656.8 1053.92 L657.8 1055.10 L658.8 1056.26 L659.8 1057.40 L660.8 1058.52 L661.8 1059.62 L662.8 1060.70 L663.8 1061.77 L664.8 1062.81 L665.8 1063.83 L666.8 1064.84 L667.8 1065.82 L668.8 1066.79 L669.8 1067.74 L670.8 1068.67 L671.8 1069.58 L672.8 1070.48 L673.8 1071.36 L674.8 1072.22 L675.8 1073.06 L676.8 1073.89 L677.8 1074.70 L678.8 1075.50 L679.8 1076.28 L680.8 1077.04 L681.8 1077.79 L682.8 1078.52 L683.8 1079.24 L684.8 1079.95 L685.8 1080.64 L686.8 1081.31 L687.8 1081.97 L688.8 1082.62 L689.8 1083.26 L690.8 1083.88 L691.8 1084.49 L692.8 1085.08 L693.8 1085.67 L694.8 1086.24 L695.8 1086.80 L696.8 1087.35 L697.8 1087.89 L698.8 1088.41 L699.8 1088.93 L700.8 1089.44 L701.8 1089.93 L702.8 1090.42 L703.8 1090.89 L704.8 1091.36 L705.8 1091.81 L706.8 1092.26 L707.8 1092.70 L708.8 1093.13 L709.8 1093.55 L710.8 1093.96 L711.8 1094.37 L712.8 1094.77 L713.8 1095.15 L714.8 1095.53 L715.8 1095.91 L716.8 1096.27 L717.8 1096.63 L718.8 1096.98 L719.9 1097.33 L720.9 1097.67 L721.9 1098.00 L722.9 1098.32 L723.9 1098.64 L724.9 1098.95 L725.9 1099.26 L726.9 1099.56 L727.9 1099.85 L728.9 1100.14 L729.9 1100.42 L730.9 1100.70 L731.9 1100.97 L732.9 1101.23 L733.9 1101.49 L734.9 1101.75 L735.9 1101.99 L736.9 1102.24 L737.9 1102.48 L738.9 1102.71 L739.9 1102.94 L740.9 1103.16 L741.9 1103.38 L742.9 1103.59 L743.9 1103.80 L744.9 1104.00 L745.9 1104.20 L746.9 1104.40 L747.9 1104.59 L748.9 1104.77 L749.9 1104.95 L750.9 1105.13 L751.9 1105.30 L752.9 1105.47 L753.9 1105.63 L754.9 1105.79 L755.9 1105.95 L756.9 1106.10 L757.9 1106.24 L758.9 1106.39 L759.9 1106.53 L760.9 1106.66 L761.9 1106.80 L762.9 1106.92 L763.9 1107.05 L764.9 1107.17 L765.9 1107.29 L766.9 1107.40 L767.9 1107.51 L768.9 1107.62 L769.9 1107.73 L770.9 1107.83 L771.9 1107.93 L772.9 1108.02 L773.9 1108.12 L774.9 1108.21 L775.9 1108.29 L776.9 1108.38 L777.9 1108.46 L778.9 1108.54 L779.9 1108.62 L780.9 1108.69 L781.9 1108.76 L782.9 1108.83 L783.9 1108.90 L784.9 1108.97 L785.9 1109.03 L786.9 1109.09 L787.9 1109.15 L788.9 1109.21 L789.9 1109.26 L790.9 1109.32 L791.9 1109.37 L792.9 1109.42 L793.9 1109.46 L794.9 1109.51 L795.9 1109.56 L796.9 1109.60 L797.9 1109.64 L798.9 1109.68 L799.9 1109.72 L800.9 1109.76 L801.9 1109.79 L802.9 1109.83 L803.9 1109.86 L804.9 1109.89 L805.9 1109.92 L806.9 1109.95 L807.9 1109.98 L808.9 1110.01 L809.9 1110.04 L810.9 1110.06 L811.9 1110.09 L812.9 1110.11 L813.9 1110.13 L814.9 1110.16 L815.9 1110.18 L816.9 1110.20 L817.9 1110.22 L818.9 1110.24 L819.9 1110.25 L820.9 1110.27 L821.9 1110.29 L822.9 1110.30 L823.9 1110.32 L824.9 1110.34 L825.9 1110.35 L826.9 1110.36 L827.9 1110.38 L828.9 1110.39 L829.9 1110.40 L830.9 1110.41 L831.9 1110.42 L832.9 1110.43 L833.9 1110.45 L834.9 1110.46 L835.9 1110.46 L836.9 1110.47 L837.9 1110.48 L838.9 1110.49 L839.9 1110.50 L840.9 1110.51 L841.9 1110.51 L842.9 1110.52 L843.9 1110.53 L844.9 1110.53 L845.9 1110.54 L846.9 1110.55 L847.9 1110.55 L848.9 1110.56 L849.9 1110.56 L850.9 1110.57 L851.9 1110.57 L852.9 1110.58 L853.9 1110.58" fill="none" stroke="#0000e0" stroke-width="2.8" stroke-linejoin="round" stroke-dasharray="10 10"/>
<path d="M120.6 1109.98 L121.6 1109.97 L122.6 1109.97 L123.6 1109.96 L124.6 1109.96 L125.6 1109.95 L126.6 1109.95 L127.6 1109.94 L128.6 1109.93 L129.6 1109.93 L130.6 1109.92 L131.6 1109.91 L132.6 1109.91 L133.6 1109.90 L134.6 1109.89 L135.6 1109.88 L136.6 1109.87 L137.6 1109.86 L138.6 1109.85 L139.6 1109.84 L140.6 1109.83 L141.6 1109.82 L142.6 1109.81 L143.6 1109.80 L144.6 1109.79 L145.6 1109.77 L146.6 1109.76 L147.6 1109.74 L148.6 1109.73 L149.6 1109.71 L150.6 1109.70 L151.6 1109.68 L152.6 1109.66 L153.6 1109.65 L154.6 1109.63 L155.6 1109.61 L156.6 1109.59 L157.6 1109.57 L158.6 1109.54 L159.6 1109.52 L160.6 1109.50 L161.6 1109.47 L162.6 1109.45 L163.6 1109.42 L164.6 1109.39 L165.6 1109.36 L166.6 1109.33 L167.6 1109.30 L168.6 1109.27 L169.6 1109.23 L170.6 1109.20 L171.6 1109.16 L172.6 1109.12 L173.6 1109.08 L174.6 1109.04 L175.6 1109.00 L176.6 1108.96 L177.6 1108.91 L178.6 1108.86 L179.6 1108.82 L180.6 1108.76 L181.6 1108.71 L182.6 1108.66 L183.6 1108.60 L184.6 1108.54 L185.6 1108.48 L186.6 1108.42 L187.6 1108.35 L188.6 1108.29 L189.6 1108.22 L190.6 1108.14 L191.6 1108.07 L192.6 1107.99 L193.6 1107.91 L194.6 1107.83 L195.6 1107.74 L196.6 1107.65 L197.6 1107.56 L198.6 1107.47 L199.6 1107.37 L200.6 1107.27 L201.6 1107.16 L202.6 1107.05 L203.6 1106.94 L204.6 1106.83 L205.6 1106.71 L206.6 1106.58 L207.6 1106.46 L208.6 1106.32 L209.6 1106.19 L210.6 1106.05 L211.6 1105.90 L212.6 1105.76 L213.6 1105.60 L214.6 1105.44 L215.6 1105.28 L216.6 1105.11 L217.6 1104.94 L218.6 1104.76 L219.6 1104.57 L220.6 1104.38 L221.6 1104.19 L222.6 1103.99 L223.6 1103.78 L224.6 1103.56 L225.6 1103.34 L226.6 1103.12 L227.6 1102.88 L228.6 1102.64 L229.6 1102.40 L230.7 1102.14 L231.7 1101.88 L232.7 1101.61 L233.7 1101.33 L234.7 1101.05 L235.7 1100.76 L236.7 1100.46 L237.7 1100.15 L238.7 1099.83 L239.7 1099.50 L240.7 1099.17 L241.7 1098.83 L242.7 1098.47 L243.7 1098.11 L244.7 1097.74 L245.7 1097.36 L246.7 1096.96 L247.7 1096.56 L248.7 1096.15 L249.7 1095.73 L250.7 1095.29 L251.7 1094.85 L252.7 1094.39 L253.7 1093.92 L254.7 1093.44 L255.7 1092.95 L256.7 1092.45 L257.7 1091.93 L258.7 1091.41 L259.7 1090.86 L260.7 1090.31 L261.7 1089.74 L262.7 1089.16 L263.7 1088.57 L264.7 1087.96 L265.7 1087.34 L266.7 1086.70 L267.7 1086.05 L268.7 1085.39 L269.7 1084.71 L270.7 1084.01 L271.7 1083.30 L272.7 1082.58 L273.7 1081.84 L274.7 1081.08 L275.7 1080.30 L276.7 1079.51 L277.7 1078.70 L278.7 1077.88 L279.7 1077.04 L280.7 1076.18 L281.7 1075.30 L282.7 1074.41 L283.7 1073.50 L284.7 1072.57 L285.7 1071.62 L286.7 1070.65 L287.7 1069.66 L288.7 1068.66 L289.7 1067.64 L290.7 1066.59 L291.7 1065.53 L292.7 1064.44 L293.7 1063.34 L294.7 1062.22 L295.7 1061.07 L296.7 1059.91 L297.7 1058.73 L298.7 1057.52 L299.7 1056.29 L300.7 1055.04 L301.7 1053.78 L302.7 1052.48 L303.7 1051.17 L304.7 1049.84 L305.7 1048.48 L306.7 1047.10 L307.7 1045.70 L308.7 1044.28 L309.7 1042.84 L310.7 1041.37 L311.7 1039.88 L312.7 1038.37 L313.7 1036.83 L314.7 1035.27 L315.7 1033.69 L316.7 1032.09 L317.7 1030.46 L318.7 1028.81 L319.7 1027.14 L320.7 1025.44 L321.7 1023.73 L322.7 1021.98 L323.7 1020.22 L324.7 1018.43 L325.7 1016.62 L326.7 1014.78 L327.7 1012.93 L328.7 1011.04 L329.7 1009.14 L330.7 1007.21 L331.7 1005.26 L332.7 1003.29 L333.7 1001.30 L334.7 999.28 L335.7 997.24 L336.7 995.18 L337.7 993.09 L338.7 990.99 L339.7 988.86 L340.7 986.71 L341.7 984.54 L342.7 982.34 L343.7 980.13 L344.7 977.90 L345.7 975.64 L346.7 973.36 L347.7 971.07 L348.7 968.75 L349.7 966.41 L350.7 964.06 L351.7 961.68 L352.7 959.29 L353.7 956.88 L354.7 954.45 L355.7 952.00 L356.7 949.53 L357.7 947.05 L358.7 944.55 L359.7 942.03 L360.7 939.50 L361.7 936.95 L362.7 934.39 L363.7 931.81 L364.7 929.22 L365.7 926.61 L366.7 923.99 L367.7 921.36 L368.7 918.72 L369.7 916.06 L370.7 913.39 L371.7 910.71 L372.7 908.02 L373.7 905.32 L374.7 902.61 L375.7 899.89 L376.7 897.17 L377.7 894.43 L378.7 891.69 L379.7 888.94 L380.7 886.19 L381.7 883.43 L382.7 880.67 L383.7 877.90 L384.7 875.13 L385.7 872.35 L386.7 869.58 L387.7 866.80 L388.7 864.02 L389.7 861.24 L390.7 858.46 L391.7 855.68 L392.7 852.91 L393.7 850.14 L394.7 847.37 L395.7 844.60 L396.7 841.84 L397.7 839.08 L398.7 836.33 L399.7 833.59 L400.7 830.85 L401.7 828.12 L402.7 825.41 L403.7 822.70 L404.7 820.00 L405.7 817.31 L406.7 814.63 L407.7 811.97 L408.7 809.32 L409.7 806.69 L410.7 804.06 L411.7 801.46 L412.7 798.87 L413.7 796.30 L414.7 793.74 L415.7 791.20 L416.7 788.68 L417.7 786.19 L418.7 783.71 L419.7 781.25 L420.7 778.82 L421.7 776.41 L422.7 774.02 L423.7 771.65 L424.7 769.31 L425.7 767.00 L426.7 764.71 L427.7 762.44 L428.7 760.21 L429.7 758.00 L430.7 755.82 L431.7 753.67 L432.7 751.54 L433.7 749.45 L434.7 747.38 L435.7 745.34 L436.7 743.32 L437.7 741.32 L438.7 739.34 L439.7 737.37 L440.7 735.42 L441.7 733.47 L442.7 731.53 L443.7 729.60 L444.7 727.66 L445.7 725.74 L446.7 723.81 L447.7 721.90 L448.7 720.01 L449.7 718.13 L450.7 716.28 L451.7 714.46 L452.7 712.69 L453.7 710.95 L454.7 709.27 L455.7 707.64 L456.7 706.07 L457.7 704.56 L458.7 703.12 L459.7 701.74 L460.7 700.42 L461.7 699.18 L462.7 698.00 L463.7 696.88 L464.7 695.83 L465.7 694.83 L466.7 693.90 L467.7 693.03 L468.7 692.21 L469.7 691.45 L470.7 690.74 L471.7 690.08 L472.7 689.47 L473.7 688.91 L474.7 688.40 L475.8 687.93 L476.8 687.51 L477.8 687.13 L478.8 686.79 L479.8 686.49 L480.8 686.24 L481.8 686.03 L482.8 685.85 L483.8 685.71 L484.8 685.61 L485.8 685.55 L486.8 685.52 L487.8 685.52 L488.8 685.55 L489.8 685.61 L490.8 685.71 L491.8 685.85 L492.8 686.03 L493.8 686.24 L494.8 686.49 L495.8 686.79 L496.8 687.13 L497.8 687.51 L498.8 687.93 L499.8 688.40 L500.8 688.91 L501.8 689.47 L502.8 690.08 L503.8 690.74 L504.8 691.45 L505.8 692.21 L506.8 693.03 L507.8 693.90 L508.8 694.83 L509.8 695.83 L510.8 696.88 L511.8 698.00 L512.8 699.18 L513.8 700.42 L514.8 701.74 L515.8 703.12 L516.8 704.56 L517.8 706.07 L518.8 707.64 L519.8 709.27 L520.8 710.95 L521.8 712.69 L522.8 714.46 L523.8 716.28 L524.8 718.13 L525.8 720.01 L526.8 721.90 L527.8 723.81 L528.8 725.74 L529.8 727.66 L530.8 729.60 L531.8 731.53 L532.8 733.47 L533.8 735.42 L534.8 737.37 L535.8 739.34 L536.8 741.32 L537.8 743.32 L538.8 745.34 L539.8 747.38 L540.8 749.45 L541.8 751.54 L542.8 753.67 L543.8 755.82 L544.8 758.00 L545.8 760.21 L546.8 762.44 L547.8 764.71 L548.8 767.00 L549.8 769.31 L550.8 771.65 L551.8 774.02 L552.8 776.41 L553.8 778.82 L554.8 781.25 L555.8 783.71 L556.8 786.19 L557.8 788.68 L558.8 791.20 L559.8 793.74 L560.8 796.30 L561.8 798.87 L562.8 801.46 L563.8 804.06 L564.8 806.69 L565.8 809.32 L566.8 811.97 L567.8 814.63 L568.8 817.31 L569.8 820.00 L570.8 822.70 L571.8 825.41 L572.8 828.12 L573.8 830.85 L574.8 833.59 L575.8 836.33 L576.8 839.08 L577.8 841.84 L578.8 844.60 L579.8 847.37 L580.8 850.14 L581.8 852.91 L582.8 855.68 L583.8 858.46 L584.8 861.24 L585.8 864.02 L586.8 866.80 L587.8 869.58 L588.8 872.35 L589.8 875.13 L590.8 877.90 L591.8 880.67 L592.8 883.43 L593.8 886.19 L594.8 888.94 L595.8 891.69 L596.8 894.43 L597.8 897.17 L598.8 899.89 L599.8 902.61 L600.8 905.32 L601.8 908.02 L602.8 910.71 L603.8 913.39 L604.8 916.06 L605.8 918.72 L606.8 921.36 L607.8 923.99 L608.8 926.61 L609.8 929.22 L610.8 931.81 L611.8 934.39 L612.8 936.95 L613.8 939.50 L614.8 942.03 L615.8 944.55 L616.8 947.05 L617.8 949.53 L618.8 952.00 L619.8 954.45 L620.8 956.88 L621.8 959.29 L622.8 961.68 L623.8 964.06 L624.8 966.41 L625.8 968.75 L626.8 971.07 L627.8 973.36 L628.8 975.64 L629.8 977.90 L630.8 980.13 L631.8 982.34 L632.8 984.54 L633.8 986.71 L634.8 988.86 L635.8 990.99 L636.8 993.09 L637.8 995.18 L638.8 997.24 L639.8 999.28 L640.8 1001.30 L641.8 1003.29 L642.8 1005.26 L643.8 1007.21 L644.8 1009.14 L645.8 1011.04 L646.8 1012.93 L647.8 1014.78 L648.8 1016.62 L649.8 1018.43 L650.8 1020.22 L651.8 1021.98 L652.8 1023.73 L653.8 1025.44 L654.8 1027.14 L655.8 1028.81 L656.8 1030.46 L657.8 1032.09 L658.8 1033.69 L659.8 1035.27 L660.8 1036.83 L661.8 1038.37 L662.8 1039.88 L663.8 1041.37 L664.8 1042.84 L665.8 1044.28 L666.8 1045.70 L667.8 1047.10 L668.8 1048.48 L669.8 1049.84 L670.8 1051.17 L671.8 1052.48 L672.8 1053.78 L673.8 1055.04 L674.8 1056.29 L675.8 1057.52 L676.8 1058.73 L677.8 1059.91 L678.8 1061.07 L679.8 1062.22 L680.8 1063.34 L681.8 1064.44 L682.8 1065.53 L683.8 1066.59 L684.8 1067.64 L685.8 1068.66 L686.8 1069.66 L687.8 1070.65 L688.8 1071.62 L689.8 1072.57 L690.8 1073.50 L691.8 1074.41 L692.8 1075.30 L693.8 1076.18 L694.8 1077.04 L695.8 1077.88 L696.8 1078.70 L697.8 1079.51 L698.8 1080.30 L699.8 1081.08 L700.8 1081.84 L701.8 1082.58 L702.8 1083.30 L703.8 1084.01 L704.8 1084.71 L705.8 1085.39 L706.8 1086.05 L707.8 1086.70 L708.8 1087.34 L709.8 1087.96 L710.8 1088.57 L711.8 1089.16 L712.8 1089.74 L713.8 1090.31 L714.8 1090.86 L715.8 1091.41 L716.8 1091.93 L717.8 1092.45 L718.8 1092.95 L719.9 1093.44 L720.9 1093.92 L721.9 1094.39 L722.9 1094.85 L723.9 1095.29 L724.9 1095.73 L725.9 1096.15 L726.9 1096.56 L727.9 1096.96 L728.9 1097.36 L729.9 1097.74 L730.9 1098.11 L731.9 1098.47 L732.9 1098.83 L733.9 1099.17 L734.9 1099.50 L735.9 1099.83 L736.9 1100.15 L737.9 1100.46 L738.9 1100.76 L739.9 1101.05 L740.9 1101.33 L741.9 1101.61 L742.9 1101.88 L743.9 1102.14 L744.9 1102.40 L745.9 1102.64 L746.9 1102.88 L747.9 1103.12 L748.9 1103.34 L749.9 1103.56 L750.9 1103.78 L751.9 1103.99 L752.9 1104.19 L753.9 1104.38 L754.9 1104.57 L755.9 1104.76 L756.9 1104.94 L757.9 1105.11 L758.9 1105.28 L759.9 1105.44 L760.9 1105.60 L761.9 1105.76 L762.9 1105.90 L763.9 1106.05 L764.9 1106.19 L765.9 1106.32 L766.9 1106.46 L767.9 1106.58 L768.9 1106.71 L769.9 1106.83 L770.9 1106.94 L771.9 1107.05 L772.9 1107.16 L773.9 1107.27 L774.9 1107.37 L775.9 1107.47 L776.9 1107.56 L777.9 1107.65 L778.9 1107.74 L779.9 1107.83 L780.9 1107.91 L781.9 1107.99 L782.9 1108.07 L783.9 1108.14 L784.9 1108.22 L785.9 1108.29 L786.9 1108.35 L787.9 1108.42 L788.9 1108.48 L789.9 1108.54 L790.9 1108.60 L791.9 1108.66 L792.9 1108.71 L793.9 1108.76 L794.9 1108.82 L795.9 1108.86 L796.9 1108.91 L797.9 1108.96 L798.9 1109.00 L799.9 1109.04 L800.9 1109.08 L801.9 1109.12 L802.9 1109.16 L803.9 1109.20 L804.9 1109.23 L805.9 1109.27 L806.9 1109.30 L807.9 1109.33 L808.9 1109.36 L809.9 1109.39 L810.9 1109.42 L811.9 1109.45 L812.9 1109.47 L813.9 1109.50 L814.9 1109.52 L815.9 1109.54 L816.9 1109.57 L817.9 1109.59 L818.9 1109.61 L819.9 1109.63 L820.9 1109.65 L821.9 1109.66 L822.9 1109.68 L823.9 1109.70 L824.9 1109.71 L825.9 1109.73 L826.9 1109.74 L827.9 1109.76 L828.9 1109.77 L829.9 1109.79 L830.9 1109.80 L831.9 1109.81 L832.9 1109.82 L833.9 1109.83 L834.9 1109.84 L835.9 1109.85 L836.9 1109.86 L837.9 1109.87 L838.9 1109.88 L839.9 1109.89 L840.9 1109.90 L841.9 1109.91 L842.9 1109.91 L843.9 1109.92 L844.9 1109.93 L845.9 1109.93 L846.9 1109.94 L847.9 1109.95 L848.9 1109.95 L849.9 1109.96 L850.9 1109.96 L851.9 1109.97 L852.9 1109.97 L853.9 1109.98" fill="none" stroke="#f08205" stroke-width="2.6" stroke-linejoin="round" stroke-dasharray="19.5 19"/>
<path d="M1025.7 862.1H1752.0" fill="none" stroke="#000" stroke-width="2.8" stroke-linejoin="round"/>
<path d="M1025.7 862.10 L1026.7 862.10 L1027.7 862.10 L1028.7 862.10 L1029.7 862.10 L1030.7 862.10 L1031.7 862.10 L1032.7 862.10 L1033.7 862.10 L1034.7 862.10 L1035.7 862.10 L1036.7 862.10 L1037.7 862.10 L1038.7 862.10 L1039.7 862.10 L1040.7 862.10 L1041.7 862.10 L1042.7 862.10 L1043.7 862.10 L1044.7 862.10 L1045.7 862.10 L1046.7 862.10 L1047.7 862.10 L1048.7 862.10 L1049.7 862.10 L1050.7 862.10 L1051.7 862.10 L1052.7 862.10 L1053.7 862.10 L1054.7 862.10 L1055.7 862.10 L1056.7 862.10 L1057.7 862.10 L1058.7 862.10 L1059.7 862.10 L1060.7 862.10 L1061.7 862.10 L1062.7 862.10 L1063.7 862.10 L1064.7 862.10 L1065.7 862.10 L1066.7 862.10 L1067.7 862.10 L1068.7 862.10 L1069.7 862.10 L1070.7 862.10 L1071.7 862.10 L1072.7 862.10 L1073.7 862.10 L1074.7 862.10 L1075.7 862.10 L1076.7 862.10 L1077.7 862.10 L1078.7 862.10 L1079.7 862.10 L1080.7 862.10 L1081.7 862.10 L1082.7 862.10 L1083.7 862.10 L1084.7 862.10 L1085.7 862.10 L1086.7 862.10 L1087.7 862.10 L1088.7 862.10 L1089.7 862.10 L1090.7 862.10 L1091.7 862.10 L1092.7 862.10 L1093.7 862.10 L1094.7 862.10 L1095.7 862.10 L1096.7 862.10 L1097.7 862.10 L1098.7 862.10 L1099.7 862.10 L1100.7 862.10 L1101.7 862.11 L1102.7 862.11 L1103.7 862.11 L1104.7 862.11 L1105.7 862.11 L1106.7 862.11 L1107.7 862.11 L1108.7 862.11 L1109.7 862.11 L1110.7 862.12 L1111.7 862.12 L1112.7 862.12 L1113.7 862.12 L1114.7 862.12 L1115.7 862.13 L1116.7 862.13 L1117.7 862.13 L1118.7 862.13 L1119.7 862.14 L1120.7 862.14 L1121.7 862.15 L1122.7 862.15 L1123.7 862.16 L1124.7 862.16 L1125.7 862.17 L1126.7 862.17 L1127.7 862.18 L1128.7 862.19 L1129.7 862.19 L1130.7 862.20 L1131.7 862.21 L1132.7 862.22 L1133.7 862.23 L1134.7 862.24 L1135.7 862.25 L1136.7 862.26 L1137.7 862.27 L1138.7 862.28 L1139.7 862.29 L1140.7 862.31 L1141.7 862.32 L1142.7 862.33 L1143.7 862.35 L1144.7 862.36 L1145.7 862.38 L1146.7 862.39 L1147.7 862.41 L1148.7 862.43 L1149.7 862.44 L1150.7 862.46 L1151.7 862.48 L1152.7 862.50 L1153.7 862.52 L1154.7 862.53 L1155.7 862.55 L1156.7 862.57 L1157.7 862.59 L1158.7 862.61 L1159.7 862.63 L1160.7 862.65 L1161.7 862.67 L1162.7 862.68 L1163.7 862.70 L1164.7 862.72 L1165.7 862.74 L1166.7 862.75 L1167.7 862.77 L1168.7 862.78 L1169.7 862.80 L1170.7 862.81 L1171.7 862.82 L1172.7 862.84 L1173.7 862.85 L1174.7 862.86 L1175.7 862.87 L1176.7 862.87 L1177.7 862.88 L1178.7 862.89 L1179.7 862.89 L1180.7 862.89 L1181.7 862.90 L1182.7 862.90 L1183.7 862.90 L1184.7 862.89 L1185.7 862.89 L1186.7 862.89 L1187.7 862.88 L1188.7 862.87 L1189.7 862.87 L1190.7 862.86 L1191.7 862.85 L1192.7 862.84 L1193.7 862.82 L1194.7 862.81 L1195.7 862.80 L1196.7 862.78 L1197.7 862.76 L1198.7 862.75 L1199.7 862.73 L1200.7 862.71 L1201.7 862.69 L1202.7 862.67 L1203.7 862.65 L1204.7 862.63 L1205.7 862.61 L1206.7 862.58 L1207.7 862.56 L1208.7 862.54 L1209.7 862.51 L1210.7 862.49 L1211.7 862.47 L1212.7 862.44 L1213.7 862.42 L1214.7 862.39 L1215.7 862.37 L1216.7 862.34 L1217.7 862.32 L1218.7 862.29 L1219.7 862.26 L1220.7 862.24 L1221.7 862.21 L1222.7 862.18 L1223.7 862.16 L1224.7 862.13 L1225.7 862.10 L1226.7 862.08 L1227.7 862.05 L1228.7 862.02 L1229.7 861.99 L1230.7 861.96 L1231.7 861.93 L1232.7 861.90 L1233.7 861.87 L1234.7 861.84 L1235.7 861.80 L1236.7 861.77 L1237.7 861.74 L1238.7 861.70 L1239.7 861.67 L1240.7 861.63 L1241.7 861.60 L1242.7 861.56 L1243.7 861.52 L1244.7 861.48 L1245.7 861.44 L1246.7 861.40 L1247.7 861.36 L1248.7 861.32 L1249.7 861.28 L1250.7 861.24 L1251.7 861.19 L1252.7 861.15 L1253.7 861.10 L1254.7 861.06 L1255.7 861.01 L1256.7 860.96 L1257.7 860.92 L1258.7 860.87 L1259.7 860.82 L1260.7 860.78 L1261.7 860.73 L1262.7 860.68 L1263.7 860.63 L1264.7 860.59 L1265.7 860.54 L1266.7 860.49 L1267.7 860.45 L1268.7 860.40 L1269.7 860.36 L1270.7 860.32 L1271.7 860.27 L1272.7 860.23 L1273.7 860.19 L1274.7 860.16 L1275.7 860.12 L1276.7 860.08 L1277.7 860.05 L1278.7 860.02 L1279.7 859.99 L1280.7 859.96 L1281.7 859.93 L1282.7 859.91 L1283.7 859.89 L1284.7 859.87 L1285.7 859.85 L1286.7 859.84 L1287.7 859.83 L1288.7 859.82 L1289.7 859.81 L1290.7 859.80 L1291.7 859.80 L1292.7 859.80 L1293.7 859.81 L1294.7 859.81 L1295.7 859.82 L1296.7 859.83 L1297.7 859.85 L1298.7 859.86 L1299.7 859.88 L1300.7 859.90 L1301.7 859.93 L1302.7 859.95 L1303.7 859.98 L1304.7 860.01 L1305.7 860.04 L1306.7 860.08 L1307.7 860.12 L1308.7 860.16 L1309.7 860.20 L1310.7 860.24 L1311.7 860.28 L1312.7 860.33 L1313.7 860.37 L1314.7 860.42 L1315.7 860.47 L1316.7 860.52 L1317.7 860.58 L1318.7 860.63 L1319.7 860.68 L1320.7 860.74 L1321.7 860.80 L1322.7 860.85 L1323.7 860.91 L1324.7 860.97 L1325.7 861.03 L1326.7 861.09 L1327.7 861.16 L1328.7 861.22 L1329.7 861.28 L1330.7 861.35 L1331.7 861.41 L1332.7 861.48 L1333.7 861.55 L1334.7 861.61 L1335.7 861.68 L1336.7 861.75 L1337.7 861.82 L1338.7 861.89 L1339.7 861.96 L1340.7 862.04 L1341.7 862.11 L1342.7 862.19 L1343.7 862.26 L1344.7 862.34 L1345.7 862.42 L1346.7 862.50 L1347.7 862.58 L1348.7 862.66 L1349.7 862.74 L1350.7 862.82 L1351.7 862.91 L1352.7 862.99 L1353.7 863.08 L1354.7 863.16 L1355.7 863.25 L1356.7 863.34 L1357.7 863.43 L1358.7 863.51 L1359.7 863.60 L1360.7 863.69 L1361.7 863.78 L1362.7 863.86 L1363.7 863.95 L1364.7 864.03 L1365.7 864.12 L1366.7 864.20 L1367.7 864.28 L1368.7 864.36 L1369.7 864.44 L1370.7 864.52 L1371.7 864.59 L1372.7 864.66 L1373.7 864.73 L1374.7 864.80 L1375.7 864.86 L1376.7 864.92 L1377.7 864.97 L1378.7 865.02 L1379.7 865.07 L1380.7 865.11 L1381.7 865.15 L1382.7 865.18 L1383.7 865.21 L1384.7 865.23 L1385.7 865.25 L1386.7 865.26 L1387.7 865.27 L1388.7 865.28 L1389.7 865.27 L1390.7 865.27 L1391.7 865.25 L1392.7 865.24 L1393.7 865.22 L1394.7 865.19 L1395.7 865.16 L1396.7 865.12 L1397.7 865.08 L1398.7 865.04 L1399.7 864.99 L1400.7 864.93 L1401.7 864.88 L1402.7 864.81 L1403.7 864.75 L1404.7 864.68 L1405.7 864.61 L1406.7 864.54 L1407.7 864.47 L1408.7 864.39 L1409.7 864.31 L1410.7 864.23 L1411.7 864.14 L1412.7 864.06 L1413.7 863.97 L1414.7 863.89 L1415.7 863.80 L1416.7 863.71 L1417.7 863.63 L1418.7 863.54 L1419.7 863.45 L1420.7 863.36 L1421.7 863.28 L1422.7 863.19 L1423.7 863.10 L1424.7 863.02 L1425.7 862.93 L1426.7 862.85 L1427.7 862.77 L1428.7 862.68 L1429.7 862.60 L1430.7 862.52 L1431.7 862.44 L1432.7 862.36 L1433.7 862.29 L1434.7 862.21 L1435.7 862.13 L1436.7 862.06 L1437.7 861.99 L1438.7 861.91 L1439.7 861.84 L1440.7 861.77 L1441.7 861.70 L1442.7 861.63 L1443.7 861.57 L1444.7 861.50 L1445.7 861.43 L1446.7 861.37 L1447.7 861.30 L1448.7 861.24 L1449.7 861.18 L1450.7 861.11 L1451.7 861.05 L1452.7 860.99 L1453.7 860.93 L1454.7 860.87 L1455.7 860.81 L1456.7 860.76 L1457.7 860.70 L1458.7 860.65 L1459.7 860.59 L1460.7 860.54 L1461.7 860.49 L1462.7 860.44 L1463.7 860.39 L1464.7 860.34 L1465.7 860.30 L1466.7 860.25 L1467.7 860.21 L1468.7 860.17 L1469.7 860.13 L1470.7 860.09 L1471.7 860.06 L1472.7 860.02 L1473.7 859.99 L1474.7 859.96 L1475.7 859.93 L1476.7 859.91 L1477.7 859.89 L1478.7 859.87 L1479.7 859.85 L1480.7 859.84 L1481.7 859.82 L1482.7 859.82 L1483.7 859.81 L1484.7 859.80 L1485.7 859.80 L1486.7 859.80 L1487.7 859.81 L1488.7 859.81 L1489.7 859.82 L1490.7 859.83 L1491.7 859.85 L1492.7 859.86 L1493.7 859.88 L1494.7 859.90 L1495.7 859.93 L1496.7 859.95 L1497.7 859.98 L1498.7 860.01 L1499.7 860.04 L1500.7 860.07 L1501.7 860.11 L1502.7 860.14 L1503.7 860.18 L1504.7 860.22 L1505.7 860.26 L1506.7 860.30 L1507.7 860.35 L1508.7 860.39 L1509.7 860.44 L1510.7 860.48 L1511.7 860.53 L1512.7 860.57 L1513.7 860.62 L1514.7 860.67 L1515.7 860.71 L1516.7 860.76 L1517.7 860.81 L1518.7 860.86 L1519.7 860.90 L1520.7 860.95 L1521.7 861.00 L1522.7 861.04 L1523.7 861.09 L1524.7 861.13 L1525.7 861.18 L1526.7 861.22 L1527.7 861.27 L1528.7 861.31 L1529.7 861.35 L1530.7 861.39 L1531.7 861.43 L1532.7 861.47 L1533.7 861.51 L1534.7 861.55 L1535.7 861.59 L1536.7 861.62 L1537.7 861.66 L1538.7 861.69 L1539.7 861.73 L1540.7 861.76 L1541.7 861.79 L1542.7 861.83 L1543.7 861.86 L1544.7 861.89 L1545.7 861.92 L1546.7 861.95 L1547.7 861.98 L1548.7 862.01 L1549.7 862.04 L1550.7 862.07 L1551.7 862.09 L1552.7 862.12 L1553.7 862.15 L1554.7 862.18 L1555.7 862.20 L1556.7 862.23 L1557.7 862.26 L1558.7 862.28 L1559.7 862.31 L1560.7 862.33 L1561.7 862.36 L1562.7 862.38 L1563.7 862.41 L1564.7 862.43 L1565.7 862.46 L1566.7 862.48 L1567.7 862.51 L1568.7 862.53 L1569.7 862.55 L1570.7 862.58 L1571.7 862.60 L1572.7 862.62 L1573.7 862.64 L1574.7 862.66 L1575.7 862.68 L1576.7 862.70 L1577.7 862.72 L1578.7 862.74 L1579.7 862.76 L1580.7 862.78 L1581.7 862.79 L1582.7 862.81 L1583.7 862.82 L1584.7 862.83 L1585.7 862.84 L1586.7 862.85 L1587.7 862.86 L1588.7 862.87 L1589.7 862.88 L1590.7 862.89 L1591.7 862.89 L1592.7 862.89 L1593.7 862.90 L1594.7 862.90 L1595.7 862.90 L1596.7 862.90 L1597.7 862.89 L1598.7 862.89 L1599.7 862.88 L1600.7 862.88 L1601.7 862.87 L1602.7 862.86 L1603.7 862.85 L1604.7 862.84 L1605.7 862.83 L1606.7 862.82 L1607.7 862.80 L1608.7 862.79 L1609.7 862.77 L1610.7 862.76 L1611.7 862.74 L1612.7 862.72 L1613.7 862.71 L1614.7 862.69 L1615.7 862.67 L1616.7 862.65 L1617.7 862.63 L1618.7 862.62 L1619.7 862.60 L1620.7 862.58 L1621.7 862.56 L1622.7 862.54 L1623.7 862.52 L1624.7 862.50 L1625.7 862.48 L1626.7 862.47 L1627.7 862.45 L1628.7 862.43 L1629.7 862.41 L1630.7 862.40 L1631.7 862.38 L1632.7 862.37 L1633.7 862.35 L1634.7 862.34 L1635.7 862.32 L1636.7 862.31 L1637.7 862.30 L1638.7 862.28 L1639.7 862.27 L1640.7 862.26 L1641.7 862.25 L1642.7 862.24 L1643.7 862.23 L1644.7 862.22 L1645.7 862.21 L1646.7 862.20 L1647.7 862.19 L1648.7 862.19 L1649.7 862.18 L1650.7 862.17 L1651.7 862.17 L1652.7 862.16 L1653.7 862.16 L1654.7 862.15 L1655.7 862.15 L1656.7 862.14 L1657.7 862.14 L1658.7 862.14 L1659.7 862.13 L1660.7 862.13 L1661.7 862.13 L1662.7 862.12 L1663.7 862.12 L1664.7 862.12 L1665.7 862.12 L1666.7 862.12 L1667.7 862.11 L1668.7 862.11 L1669.7 862.11 L1670.7 862.11 L1671.7 862.11 L1672.7 862.11 L1673.7 862.11 L1674.7 862.11 L1675.7 862.11 L1676.7 862.10 L1677.7 862.10 L1678.7 862.10 L1679.7 862.10 L1680.7 862.10 L1681.7 862.10 L1682.7 862.10 L1683.7 862.10 L1684.7 862.10 L1685.7 862.10 L1686.7 862.10 L1687.7 862.10 L1688.7 862.10 L1689.7 862.10 L1690.7 862.10 L1691.7 862.10 L1692.7 862.10 L1693.7 862.10 L1694.7 862.10 L1695.7 862.10 L1696.7 862.10 L1697.7 862.10 L1698.7 862.10 L1699.7 862.10 L1700.7 862.10 L1701.7 862.10 L1702.7 862.10 L1703.7 862.10 L1704.7 862.10 L1705.7 862.10 L1706.7 862.10 L1707.7 862.10 L1708.7 862.10 L1709.7 862.10 L1710.7 862.10 L1711.7 862.10 L1712.7 862.10 L1713.7 862.10 L1714.7 862.10 L1715.7 862.10 L1716.7 862.10 L1717.7 862.10 L1718.7 862.10 L1719.7 862.10 L1720.7 862.10 L1721.7 862.10 L1722.7 862.10 L1723.7 862.10 L1724.7 862.10 L1725.7 862.10 L1726.7 862.10 L1727.7 862.10 L1728.7 862.10 L1729.7 862.10 L1730.7 862.10 L1731.7 862.10 L1732.7 862.10 L1733.7 862.10 L1734.7 862.10 L1735.7 862.10 L1736.7 862.10 L1737.7 862.10 L1738.7 862.10 L1739.7 862.10 L1740.7 862.10 L1741.7 862.10 L1742.7 862.10 L1743.7 862.10 L1744.7 862.10 L1745.7 862.10 L1746.7 862.10 L1747.7 862.10 L1748.7 862.10 L1749.7 862.10 L1750.7 862.10 L1751.7 862.10" fill="none" stroke="#0000e0" stroke-width="2.8" stroke-linejoin="round" stroke-dasharray="10 10"/>
<path d="M1025.7 857.16 L1026.7 857.10 L1027.7 857.05 L1028.7 856.98 L1029.7 856.91 L1030.7 856.84 L1031.7 856.77 L1032.7 856.69 L1033.7 856.61 L1034.7 856.52 L1035.7 856.44 L1036.7 856.35 L1037.7 856.26 L1038.7 856.17 L1039.7 856.08 L1040.7 855.98 L1041.7 855.89 L1042.7 855.79 L1043.7 855.70 L1044.7 855.60 L1045.7 855.51 L1046.7 855.42 L1047.7 855.32 L1048.7 855.23 L1049.7 855.14 L1050.7 855.05 L1051.7 854.96 L1052.7 854.88 L1053.7 854.80 L1054.7 854.72 L1055.7 854.64 L1056.7 854.56 L1057.7 854.49 L1058.7 854.43 L1059.7 854.36 L1060.7 854.31 L1061.7 854.25 L1062.7 854.20 L1063.7 854.16 L1064.7 854.12 L1065.7 854.09 L1066.7 854.06 L1067.7 854.04 L1068.7 854.02 L1069.7 854.02 L1070.7 854.01 L1071.7 854.02 L1072.7 854.03 L1073.7 854.05 L1074.7 854.08 L1075.7 854.12 L1076.7 854.17 L1077.7 854.22 L1078.7 854.28 L1079.7 854.36 L1080.7 854.44 L1081.7 854.53 L1082.7 854.63 L1083.7 854.75 L1084.7 854.87 L1085.7 855.00 L1086.7 855.15 L1087.7 855.31 L1088.7 855.47 L1089.7 855.65 L1090.7 855.85 L1091.7 856.05 L1092.7 856.27 L1093.7 856.50 L1094.7 856.74 L1095.7 857.00 L1096.7 857.27 L1097.7 857.56 L1098.7 857.86 L1099.7 858.17 L1100.7 858.50 L1101.7 858.84 L1102.7 859.20 L1103.7 859.58 L1104.7 859.97 L1105.7 860.37 L1106.7 860.80 L1107.7 861.24 L1108.7 861.69 L1109.7 862.17 L1110.7 862.66 L1111.7 863.17 L1112.7 863.70 L1113.7 864.24 L1114.7 864.81 L1115.7 865.39 L1116.7 865.99 L1117.7 866.61 L1118.7 867.26 L1119.7 867.92 L1120.7 868.60 L1121.7 869.30 L1122.7 870.02 L1123.7 870.76 L1124.7 871.53 L1125.7 872.31 L1126.7 873.12 L1127.7 873.95 L1128.7 874.80 L1129.7 875.68 L1130.7 876.57 L1131.7 877.49 L1132.7 878.43 L1133.7 879.39 L1134.7 880.36 L1135.7 881.36 L1136.7 882.36 L1137.7 883.39 L1138.7 884.42 L1139.7 885.47 L1140.7 886.52 L1141.7 887.59 L1142.7 888.66 L1143.7 889.74 L1144.7 890.82 L1145.7 891.90 L1146.8 892.99 L1147.8 894.08 L1148.8 895.17 L1149.8 896.26 L1150.8 897.34 L1151.8 898.42 L1152.8 899.49 L1153.8 900.56 L1154.8 901.61 L1155.8 902.66 L1156.8 903.70 L1157.8 904.72 L1158.8 905.73 L1159.8 906.72 L1160.8 907.70 L1161.8 908.66 L1162.8 909.60 L1163.8 910.53 L1164.8 911.43 L1165.8 912.30 L1166.8 913.15 L1167.8 913.98 L1168.8 914.78 L1169.8 915.55 L1170.8 916.29 L1171.8 917.00 L1172.8 917.68 L1173.8 918.33 L1174.8 918.94 L1175.8 919.51 L1176.8 920.05 L1177.8 920.55 L1178.8 921.01 L1179.8 921.42 L1180.8 921.79 L1181.8 922.12 L1182.8 922.41 L1183.8 922.65 L1184.8 922.83 L1185.8 922.97 L1186.8 923.06 L1187.8 923.10 L1188.8 923.08 L1189.8 923.01 L1190.8 922.89 L1191.8 922.70 L1192.8 922.46 L1193.8 922.16 L1194.8 921.79 L1195.8 921.37 L1196.8 920.88 L1197.8 920.32 L1198.8 919.70 L1199.8 919.01 L1200.8 918.25 L1201.8 917.42 L1202.8 916.52 L1203.8 915.54 L1204.8 914.50 L1205.8 913.37 L1206.8 912.16 L1207.8 910.88 L1208.8 909.51 L1209.8 908.06 L1210.8 906.53 L1211.8 904.91 L1212.8 903.20 L1213.8 901.40 L1214.8 899.51 L1215.8 897.53 L1216.8 895.45 L1217.8 893.27 L1218.8 891.00 L1219.8 888.63 L1220.8 886.16 L1221.8 883.58 L1222.8 880.90 L1223.8 878.11 L1224.8 875.22 L1225.8 872.21 L1226.8 869.10 L1227.8 865.87 L1228.8 862.55 L1229.8 859.14 L1230.8 855.64 L1231.8 852.06 L1232.8 848.40 L1233.8 844.68 L1234.8 840.91 L1235.8 837.07 L1236.8 833.20 L1237.8 829.28 L1238.8 825.33 L1239.8 821.35 L1240.8 817.36 L1241.8 813.35 L1242.8 809.33 L1243.8 805.32 L1244.8 801.31 L1245.8 797.32 L1246.8 793.34 L1247.8 789.38 L1248.8 785.46 L1249.8 781.56 L1250.8 777.71 L1251.8 773.90 L1252.8 770.14 L1253.8 766.44 L1254.8 762.80 L1255.8 759.22 L1256.8 755.72 L1257.8 752.30 L1258.8 748.96 L1259.8 745.71 L1260.8 742.55 L1261.8 739.49 L1262.8 736.54 L1263.8 733.69 L1264.8 730.92 L1265.8 728.24 L1266.8 725.62 L1267.8 723.06 L1268.8 720.56 L1269.8 718.09 L1270.8 715.65 L1271.8 713.23 L1272.8 710.82 L1273.8 708.43 L1274.8 706.06 L1275.8 703.74 L1276.8 701.50 L1277.8 699.34 L1278.8 697.30 L1279.8 695.39 L1280.8 693.63 L1281.8 692.02 L1282.8 690.58 L1283.8 689.29 L1284.8 688.16 L1285.8 687.20 L1286.8 686.40 L1287.8 685.77 L1288.8 685.31 L1289.8 685.03 L1290.8 684.92 L1291.8 684.98 L1292.8 685.22 L1293.8 685.65 L1294.8 686.26 L1295.8 687.05 L1296.8 688.03 L1297.8 689.20 L1298.8 690.57 L1299.8 692.12 L1300.8 693.88 L1301.8 695.83 L1302.8 697.97 L1303.8 700.29 L1304.8 702.78 L1305.8 705.44 L1306.8 708.26 L1307.8 711.24 L1308.8 714.36 L1309.8 717.62 L1310.8 721.01 L1311.8 724.52 L1312.8 728.15 L1313.8 731.89 L1314.8 735.73 L1315.8 739.67 L1316.8 743.69 L1317.8 747.79 L1318.8 751.98 L1319.8 756.27 L1320.8 760.69 L1321.8 765.28 L1322.8 770.08 L1323.8 775.10 L1324.8 780.39 L1325.8 785.97 L1326.8 791.87 L1327.8 798.13 L1328.8 804.78 L1329.8 811.86 L1330.8 819.38 L1331.8 827.37 L1332.8 835.71 L1333.8 844.12 L1334.8 852.30 L1335.8 859.97 L1336.8 866.88 L1337.8 873.05 L1338.8 878.75 L1339.8 884.22 L1340.8 889.73 L1341.8 895.50 L1342.8 901.59 L1343.8 907.96 L1344.8 914.56 L1345.8 921.33 L1346.8 928.23 L1347.8 935.21 L1348.8 942.23 L1349.8 949.23 L1350.8 956.17 L1351.8 963.00 L1352.8 969.72 L1353.8 976.33 L1354.8 982.82 L1355.8 989.19 L1356.8 995.45 L1357.8 1001.60 L1358.8 1007.63 L1359.8 1013.54 L1360.8 1019.34 L1361.8 1025.03 L1362.8 1030.59 L1363.8 1036.03 L1364.8 1041.34 L1365.8 1046.50 L1366.8 1051.51 L1367.8 1056.34 L1368.8 1061.00 L1369.8 1065.48 L1370.8 1069.75 L1371.8 1073.82 L1372.8 1077.66 L1373.8 1081.28 L1374.8 1084.66 L1375.8 1087.79 L1376.8 1090.66 L1377.8 1093.29 L1378.8 1095.66 L1379.8 1097.79 L1380.8 1099.68 L1381.8 1101.32 L1382.8 1102.73 L1383.8 1103.91 L1384.8 1104.85 L1385.8 1105.57 L1386.8 1106.06 L1387.8 1106.33 L1388.8 1106.37 L1389.9 1106.20 L1390.9 1105.82 L1391.9 1105.21 L1392.9 1104.39 L1393.9 1103.35 L1394.9 1102.10 L1395.9 1100.62 L1396.9 1098.93 L1397.9 1097.02 L1398.9 1094.89 L1399.9 1092.54 L1400.9 1089.97 L1401.9 1087.18 L1402.9 1084.18 L1403.9 1080.95 L1404.9 1077.50 L1405.9 1073.83 L1406.9 1069.95 L1407.9 1065.84 L1408.9 1061.51 L1409.9 1056.96 L1410.9 1052.19 L1411.9 1047.21 L1412.9 1042.05 L1413.9 1036.69 L1414.9 1031.17 L1415.9 1025.49 L1416.9 1019.66 L1417.9 1013.70 L1418.9 1007.61 L1419.9 1001.42 L1420.9 995.12 L1421.9 988.73 L1422.9 982.27 L1423.9 975.74 L1424.9 969.15 L1425.9 962.50 L1426.9 955.80 L1427.9 949.06 L1428.9 942.28 L1429.9 935.47 L1430.9 928.63 L1431.9 921.78 L1432.9 914.94 L1433.9 908.20 L1434.9 901.68 L1435.9 895.47 L1436.9 889.67 L1437.9 884.25 L1438.9 878.91 L1439.9 873.33 L1440.9 867.18 L1441.9 860.15 L1442.9 852.20 L1443.9 843.67 L1444.9 834.95 L1445.9 826.42 L1446.9 818.44 L1447.9 811.16 L1448.9 804.49 L1449.9 798.31 L1450.9 792.52 L1451.9 787.01 L1452.9 781.68 L1453.9 776.46 L1454.9 771.35 L1455.9 766.35 L1456.9 761.47 L1457.9 756.72 L1458.9 752.10 L1459.9 747.60 L1460.9 743.24 L1461.9 739.02 L1462.9 734.94 L1463.9 731.01 L1464.9 727.23 L1465.9 723.60 L1466.9 720.13 L1467.9 716.82 L1468.9 713.67 L1469.9 710.69 L1470.9 707.87 L1471.9 705.22 L1472.9 702.73 L1473.9 700.40 L1474.9 698.24 L1475.9 696.25 L1476.9 694.41 L1477.9 692.75 L1478.9 691.25 L1479.9 689.91 L1480.9 688.75 L1481.9 687.74 L1482.9 686.91 L1483.9 686.24 L1484.9 685.74 L1485.9 685.40 L1486.9 685.24 L1487.9 685.24 L1488.9 685.41 L1489.9 685.75 L1490.9 686.26 L1491.9 686.95 L1492.9 687.81 L1493.9 688.85 L1494.9 690.06 L1495.9 691.46 L1496.9 693.03 L1497.9 694.79 L1498.9 696.73 L1499.9 698.82 L1500.9 701.05 L1501.9 703.39 L1502.9 705.82 L1503.9 708.31 L1504.9 710.84 L1505.9 713.39 L1506.9 715.94 L1507.9 718.51 L1508.9 721.10 L1509.9 723.72 L1510.9 726.36 L1511.9 729.04 L1512.9 731.76 L1513.9 734.53 L1514.9 737.34 L1515.9 740.21 L1516.9 743.14 L1517.9 746.13 L1518.9 749.19 L1519.9 752.33 L1520.9 755.54 L1521.9 758.84 L1522.9 762.23 L1523.9 765.71 L1524.9 769.29 L1525.9 772.97 L1526.9 776.75 L1527.9 780.62 L1528.9 784.57 L1529.9 788.58 L1530.9 792.64 L1531.9 796.76 L1532.9 800.90 L1533.9 805.07 L1534.9 809.24 L1535.9 813.42 L1536.9 817.59 L1537.9 821.74 L1538.9 825.85 L1539.9 829.92 L1540.9 833.94 L1541.9 837.89 L1542.9 841.77 L1543.9 845.55 L1544.9 849.24 L1545.9 852.83 L1546.9 856.32 L1547.9 859.70 L1548.9 862.98 L1549.9 866.16 L1550.9 869.24 L1551.9 872.23 L1552.9 875.12 L1553.9 877.91 L1554.9 880.61 L1555.9 883.21 L1556.9 885.73 L1557.9 888.15 L1558.9 890.48 L1559.9 892.72 L1560.9 894.87 L1561.9 896.93 L1562.9 898.91 L1563.9 900.81 L1564.9 902.62 L1565.9 904.34 L1566.9 905.98 L1567.9 907.55 L1568.9 909.03 L1569.9 910.43 L1570.9 911.76 L1571.9 913.00 L1572.9 914.18 L1573.9 915.27 L1574.9 916.29 L1575.9 917.24 L1576.9 918.12 L1577.9 918.93 L1578.9 919.67 L1579.9 920.33 L1580.9 920.94 L1581.9 921.47 L1582.9 921.94 L1583.9 922.34 L1584.9 922.68 L1585.9 922.96 L1586.9 923.17 L1587.9 923.33 L1588.9 923.42 L1589.9 923.46 L1590.9 923.44 L1591.9 923.36 L1592.9 923.23 L1593.9 923.04 L1594.9 922.81 L1595.9 922.52 L1596.9 922.18 L1597.9 921.79 L1598.9 921.36 L1599.9 920.88 L1600.9 920.36 L1601.9 919.80 L1602.9 919.20 L1603.9 918.56 L1604.9 917.89 L1605.9 917.18 L1606.9 916.43 L1607.9 915.66 L1608.9 914.86 L1609.9 914.02 L1610.9 913.17 L1611.9 912.28 L1612.9 911.38 L1613.9 910.45 L1614.9 909.50 L1615.9 908.53 L1616.9 907.55 L1617.9 906.55 L1618.9 905.53 L1619.9 904.51 L1620.9 903.47 L1621.9 902.42 L1622.9 901.37 L1623.9 900.32 L1624.9 899.25 L1625.9 898.19 L1626.9 897.12 L1627.9 896.06 L1628.9 895.00 L1629.9 893.94 L1631.0 892.89 L1632.0 891.84 L1633.0 890.79 L1634.0 889.76 L1635.0 888.72 L1636.0 887.70 L1637.0 886.68 L1638.0 885.67 L1639.0 884.67 L1640.0 883.68 L1641.0 882.69 L1642.0 881.72 L1643.0 880.76 L1644.0 879.81 L1645.0 878.87 L1646.0 877.94 L1647.0 877.03 L1648.0 876.13 L1649.0 875.24 L1650.0 874.37 L1651.0 873.51 L1652.0 872.67 L1653.0 871.85 L1654.0 871.04 L1655.0 870.24 L1656.0 869.47 L1657.0 868.71 L1658.0 867.98 L1659.0 867.26 L1660.0 866.56 L1661.0 865.88 L1662.0 865.23 L1663.0 864.59 L1664.0 863.98 L1665.0 863.39 L1666.0 862.82 L1667.0 862.27 L1668.0 861.75 L1669.0 861.26 L1670.0 860.78 L1671.0 860.33 L1672.0 859.90 L1673.0 859.50 L1674.0 859.11 L1675.0 858.74 L1676.0 858.40 L1677.0 858.07 L1678.0 857.76 L1679.0 857.47 L1680.0 857.20 L1681.0 856.94 L1682.0 856.70 L1683.0 856.48 L1684.0 856.27 L1685.0 856.08 L1686.0 855.90 L1687.0 855.73 L1688.0 855.58 L1689.0 855.44 L1690.0 855.31 L1691.0 855.20 L1692.0 855.10 L1693.0 855.00 L1694.0 854.92 L1695.0 854.85 L1696.0 854.78 L1697.0 854.72 L1698.0 854.68 L1699.0 854.63 L1700.0 854.60 L1701.0 854.57 L1702.0 854.55 L1703.0 854.53 L1704.0 854.52 L1705.0 854.51 L1706.0 854.51 L1707.0 854.51 L1708.0 854.51 L1709.0 854.51 L1710.0 854.51 L1711.0 854.52 L1712.0 854.53 L1713.0 854.54 L1714.0 854.56 L1715.0 854.57 L1716.0 854.59 L1717.0 854.61 L1718.0 854.64 L1719.0 854.66 L1720.0 854.69 L1721.0 854.72 L1722.0 854.75 L1723.0 854.79 L1724.0 854.83 L1725.0 854.87 L1726.0 854.92 L1727.0 854.97 L1728.0 855.02 L1729.0 855.07 L1730.0 855.13 L1731.0 855.19 L1732.0 855.25 L1733.0 855.31 L1734.0 855.38 L1735.0 855.46 L1736.0 855.53 L1737.0 855.61 L1738.0 855.69 L1739.0 855.78 L1740.0 855.87 L1741.0 855.96 L1742.0 856.05 L1743.0 856.15 L1744.0 856.26 L1745.0 856.36 L1746.0 856.47 L1747.0 856.59 L1748.0 856.70 L1749.0 856.82 L1750.0 856.95 L1751.0 857.08 L1752.0 857.21" fill="none" stroke="#f08205" stroke-width="2.6" stroke-linejoin="round" stroke-dasharray="19.5 19"/>
<path d="M542.9 1764.45 L543.9 1764.45 L544.9 1764.44 L545.9 1764.44 L546.9 1764.43 L547.9 1764.43 L548.9 1764.42 L549.9 1764.42 L550.9 1764.41 L551.9 1764.41 L552.9 1764.40 L553.9 1764.39 L554.9 1764.39 L555.9 1764.38 L556.9 1764.37 L557.9 1764.37 L558.9 1764.36 L559.9 1764.35 L560.9 1764.34 L561.9 1764.33 L562.9 1764.32 L563.9 1764.31 L564.9 1764.30 L565.9 1764.29 L566.9 1764.28 L567.9 1764.27 L568.9 1764.26 L569.9 1764.25 L570.9 1764.24 L571.9 1764.22 L572.9 1764.21 L573.9 1764.20 L574.9 1764.18 L575.9 1764.17 L576.9 1764.15 L577.9 1764.13 L578.9 1764.12 L579.9 1764.10 L580.9 1764.08 L581.9 1764.06 L582.9 1764.04 L583.9 1764.02 L584.9 1764.00 L585.9 1763.98 L586.9 1763.95 L587.9 1763.93 L588.9 1763.90 L589.9 1763.88 L590.9 1763.85 L591.9 1763.82 L592.9 1763.79 L593.9 1763.76 L594.9 1763.73 L595.9 1763.70 L596.9 1763.67 L597.9 1763.63 L598.9 1763.59 L599.9 1763.56 L600.9 1763.52 L601.9 1763.48 L602.9 1763.44 L603.9 1763.39 L604.9 1763.35 L605.9 1763.30 L606.9 1763.25 L607.9 1763.20 L608.9 1763.15 L609.9 1763.10 L610.9 1763.04 L611.9 1762.98 L612.9 1762.93 L613.9 1762.86 L614.9 1762.80 L615.9 1762.73 L616.9 1762.67 L617.9 1762.60 L618.9 1762.52 L619.9 1762.45 L620.9 1762.37 L621.9 1762.29 L622.9 1762.21 L623.9 1762.12 L624.9 1762.03 L625.9 1761.94 L626.9 1761.85 L627.9 1761.75 L628.9 1761.65 L629.9 1761.54 L630.9 1761.43 L631.9 1761.32 L632.9 1761.21 L633.9 1761.09 L634.9 1760.97 L635.9 1760.84 L636.9 1760.71 L637.9 1760.58 L638.9 1760.44 L639.9 1760.30 L640.9 1760.15 L641.9 1760.00 L642.9 1759.84 L643.9 1759.68 L644.9 1759.51 L645.9 1759.34 L646.9 1759.16 L647.9 1758.98 L648.9 1758.79 L649.9 1758.60 L650.9 1758.40 L651.9 1758.20 L652.9 1757.98 L653.9 1757.77 L654.9 1757.54 L655.9 1757.31 L656.9 1757.08 L657.9 1756.83 L658.9 1756.58 L659.9 1756.33 L660.9 1756.06 L661.9 1755.79 L662.9 1755.51 L663.9 1755.22 L664.9 1754.92 L665.9 1754.62 L666.9 1754.31 L667.9 1753.99 L668.9 1753.66 L669.9 1753.32 L670.9 1752.97 L671.9 1752.61 L672.9 1752.24 L673.9 1751.87 L674.9 1751.48 L675.9 1751.08 L676.9 1750.68 L677.9 1750.26 L678.9 1749.83 L679.9 1749.39 L680.9 1748.94 L681.9 1748.48 L682.9 1748.00 L683.9 1747.52 L684.9 1747.02 L685.9 1746.51 L686.9 1745.98 L687.9 1745.45 L688.9 1744.90 L689.9 1744.33 L690.9 1743.76 L691.9 1743.17 L692.9 1742.56 L693.9 1741.94 L694.9 1741.31 L695.9 1740.66 L696.9 1740.00 L697.9 1739.32 L698.9 1738.63 L699.9 1737.92 L700.9 1737.19 L701.9 1736.45 L702.9 1735.69 L703.9 1734.91 L704.9 1734.12 L706.0 1733.31 L707.0 1732.48 L708.0 1731.63 L709.0 1730.77 L710.0 1729.88 L711.0 1728.98 L712.0 1728.06 L713.0 1727.12 L714.0 1726.16 L715.0 1725.18 L716.0 1724.18 L717.0 1723.16 L718.0 1722.12 L719.0 1721.06 L720.0 1719.98 L721.0 1718.87 L722.0 1717.75 L723.0 1716.60 L724.0 1715.43 L725.0 1714.24 L726.0 1713.03 L727.0 1711.79 L728.0 1710.53 L729.0 1709.24 L730.0 1707.94 L731.0 1706.61 L732.0 1705.25 L733.0 1703.87 L734.0 1702.47 L735.0 1701.04 L736.0 1699.59 L737.0 1698.11 L738.0 1696.61 L739.0 1695.08 L740.0 1693.53 L741.0 1691.95 L742.0 1690.34 L743.0 1688.71 L744.0 1687.05 L745.0 1685.37 L746.0 1683.66 L747.0 1681.92 L748.0 1680.15 L749.0 1678.36 L750.0 1676.54 L751.0 1674.70 L752.0 1672.83 L753.0 1670.92 L754.0 1669.00 L755.0 1667.04 L756.0 1665.06 L757.0 1663.05 L758.0 1661.01 L759.0 1658.94 L760.0 1656.85 L761.0 1654.73 L762.0 1652.58 L763.0 1650.40 L764.0 1648.19 L765.0 1645.96 L766.0 1643.70 L767.0 1641.41 L768.0 1639.09 L769.0 1636.75 L770.0 1634.38 L771.0 1631.98 L772.0 1629.56 L773.0 1627.10 L774.0 1624.62 L775.0 1622.12 L776.0 1619.58 L777.0 1617.03 L778.0 1614.44 L779.0 1611.83 L780.0 1609.19 L781.0 1606.53 L782.0 1603.84 L783.0 1601.13 L784.0 1598.39 L785.0 1595.63 L786.0 1592.84 L787.0 1590.03 L788.0 1587.19 L789.0 1584.34 L790.0 1581.46 L791.0 1578.56 L792.0 1575.63 L793.0 1572.69 L794.0 1569.72 L795.0 1566.74 L796.0 1563.73 L797.0 1560.70 L798.0 1557.66 L799.0 1554.59 L800.0 1551.51 L801.0 1548.42 L802.0 1545.30 L803.0 1542.17 L804.0 1539.02 L805.0 1535.86 L806.0 1532.69 L807.0 1529.50 L808.0 1526.30 L809.0 1523.09 L810.0 1519.87 L811.0 1516.64 L812.0 1513.40 L813.0 1510.15 L814.0 1506.89 L815.0 1503.63 L816.0 1500.36 L817.0 1497.09 L818.0 1493.81 L819.0 1490.54 L820.0 1487.26 L821.0 1483.98 L822.0 1480.71 L823.0 1477.43 L824.0 1474.16 L825.0 1470.90 L826.0 1467.64 L827.0 1464.39 L828.0 1461.15 L829.0 1457.92 L830.0 1454.70 L831.0 1451.50 L832.0 1448.31 L833.0 1445.14 L834.0 1441.98 L835.0 1438.85 L836.0 1435.73 L837.0 1432.64 L838.0 1429.58 L839.0 1426.53 L840.0 1423.52 L841.0 1420.53 L842.0 1417.58 L843.0 1414.66 L844.0 1411.77 L845.0 1408.91 L846.0 1406.09 L847.0 1403.31 L848.0 1400.57 L849.0 1397.87 L850.0 1395.21 L851.0 1392.60 L852.0 1390.02 L853.0 1387.50 L854.0 1385.02 L855.0 1382.58 L856.0 1380.20 L857.0 1377.86 L858.0 1375.57 L859.0 1373.33 L860.0 1371.15 L861.0 1369.01 L862.0 1366.93 L863.0 1364.89 L864.0 1362.91 L865.0 1360.98 L866.0 1359.11 L867.0 1357.28 L868.0 1355.51 L869.0 1353.79 L870.0 1352.11 L871.0 1350.49 L872.0 1348.92 L873.0 1347.40 L874.0 1345.93 L875.0 1344.51 L876.0 1343.13 L877.0 1341.80 L878.0 1340.52 L879.0 1339.29 L880.0 1338.10 L881.0 1336.95 L882.0 1335.85 L883.0 1334.79 L884.0 1333.78 L885.0 1332.81 L886.0 1331.88 L887.0 1330.99 L888.0 1330.14 L889.0 1329.34 L890.0 1328.57 L891.0 1327.85 L892.0 1327.17 L893.0 1326.53 L894.0 1325.93 L895.0 1325.38 L896.0 1324.87 L897.0 1324.40 L898.0 1323.98 L899.0 1323.60 L900.0 1323.27 L901.0 1322.99 L902.0 1322.77 L903.0 1322.60 L904.0 1322.49 L905.0 1322.45 L906.0 1322.49 L907.0 1322.60 L908.0 1322.77 L909.0 1322.99 L910.0 1323.27 L911.0 1323.60 L912.0 1323.98 L913.0 1324.40 L914.0 1324.87 L915.0 1325.38 L916.0 1325.93 L917.0 1326.53 L918.0 1327.17 L919.0 1327.85 L920.0 1328.57 L921.0 1329.34 L922.0 1330.14 L923.0 1330.99 L924.0 1331.88 L925.0 1332.81 L926.0 1333.78 L927.0 1334.79 L928.0 1335.85 L929.0 1336.95 L930.0 1338.10 L931.0 1339.29 L932.0 1340.52 L933.0 1341.80 L934.0 1343.13 L935.0 1344.51 L936.0 1345.93 L937.0 1347.40 L938.0 1348.92 L939.0 1350.49 L940.0 1352.11 L941.0 1353.79 L942.0 1355.51 L943.0 1357.28 L944.0 1359.11 L945.0 1360.98 L946.0 1362.91 L947.0 1364.89 L948.0 1366.93 L949.0 1369.01 L950.0 1371.15 L951.0 1373.33 L952.0 1375.57 L953.0 1377.86 L954.0 1380.20 L955.0 1382.58 L956.0 1385.02 L957.0 1387.50 L958.0 1390.02 L959.0 1392.60 L960.0 1395.21 L961.0 1397.87 L962.0 1400.57 L963.0 1403.31 L964.0 1406.09 L965.0 1408.91 L966.0 1411.77 L967.0 1414.66 L968.0 1417.58 L969.0 1420.53 L970.0 1423.52 L971.0 1426.53 L972.0 1429.58 L973.0 1432.64 L974.0 1435.73 L975.0 1438.85 L976.0 1441.98 L977.0 1445.14 L978.0 1448.31 L979.0 1451.50 L980.0 1454.70 L981.0 1457.92 L982.0 1461.15 L983.0 1464.39 L984.0 1467.64 L985.0 1470.90 L986.0 1474.16 L987.0 1477.43 L988.0 1480.71 L989.0 1483.98 L990.0 1487.26 L991.0 1490.54 L992.0 1493.81 L993.0 1497.09 L994.0 1500.36 L995.0 1503.63 L996.0 1506.89 L997.0 1510.15 L998.0 1513.40 L999.0 1516.64 L1000.0 1519.87 L1001.0 1523.09 L1002.0 1526.30 L1003.0 1529.50 L1004.0 1532.69 L1005.0 1535.86 L1006.0 1539.02 L1007.0 1542.17 L1008.0 1545.30 L1009.0 1548.42 L1010.0 1551.51 L1011.0 1554.59 L1012.0 1557.66 L1013.0 1560.70 L1014.0 1563.73 L1015.0 1566.74 L1016.0 1569.72 L1017.0 1572.69 L1018.0 1575.63 L1019.0 1578.56 L1020.0 1581.46 L1021.0 1584.34 L1022.0 1587.19 L1023.0 1590.03 L1024.0 1592.84 L1025.0 1595.63 L1026.0 1598.39 L1027.0 1601.13 L1028.0 1603.84 L1029.0 1606.53 L1030.0 1609.19 L1031.0 1611.83 L1032.0 1614.44 L1033.0 1617.03 L1034.0 1619.58 L1035.0 1622.12 L1036.0 1624.62 L1037.0 1627.10 L1038.0 1629.56 L1039.0 1631.98 L1040.0 1634.38 L1041.0 1636.75 L1042.0 1639.09 L1043.0 1641.41 L1044.0 1643.70 L1045.0 1645.96 L1046.0 1648.19 L1047.0 1650.40 L1048.0 1652.58 L1049.0 1654.73 L1050.0 1656.85 L1051.0 1658.94 L1052.0 1661.01 L1053.0 1663.05 L1054.0 1665.06 L1055.0 1667.04 L1056.0 1669.00 L1057.0 1670.92 L1058.0 1672.83 L1059.0 1674.70 L1060.0 1676.54 L1061.0 1678.36 L1062.0 1680.15 L1063.0 1681.92 L1064.0 1683.66 L1065.0 1685.37 L1066.0 1687.05 L1067.0 1688.71 L1068.0 1690.34 L1069.0 1691.95 L1070.0 1693.53 L1071.0 1695.08 L1072.0 1696.61 L1073.0 1698.11 L1074.0 1699.59 L1075.0 1701.04 L1076.0 1702.47 L1077.0 1703.87 L1078.0 1705.25 L1079.0 1706.61 L1080.0 1707.94 L1081.0 1709.24 L1082.0 1710.53 L1083.0 1711.79 L1084.0 1713.03 L1085.0 1714.24 L1086.0 1715.43 L1087.0 1716.60 L1088.0 1717.75 L1089.0 1718.87 L1090.0 1719.98 L1091.0 1721.06 L1092.0 1722.12 L1093.0 1723.16 L1094.0 1724.18 L1095.0 1725.18 L1096.0 1726.16 L1097.0 1727.12 L1098.0 1728.06 L1099.0 1728.98 L1100.0 1729.88 L1101.0 1730.77 L1102.0 1731.63 L1103.0 1732.48 L1104.0 1733.31 L1105.1 1734.12 L1106.1 1734.91 L1107.1 1735.69 L1108.1 1736.45 L1109.1 1737.19 L1110.1 1737.92 L1111.1 1738.63 L1112.1 1739.32 L1113.1 1740.00 L1114.1 1740.66 L1115.1 1741.31 L1116.1 1741.94 L1117.1 1742.56 L1118.1 1743.17 L1119.1 1743.76 L1120.1 1744.33 L1121.1 1744.90 L1122.1 1745.45 L1123.1 1745.98 L1124.1 1746.51 L1125.1 1747.02 L1126.1 1747.52 L1127.1 1748.00 L1128.1 1748.48 L1129.1 1748.94 L1130.1 1749.39 L1131.1 1749.83 L1132.1 1750.26 L1133.1 1750.68 L1134.1 1751.08 L1135.1 1751.48 L1136.1 1751.87 L1137.1 1752.24 L1138.1 1752.61 L1139.1 1752.97 L1140.1 1753.32 L1141.1 1753.66 L1142.1 1753.99 L1143.1 1754.31 L1144.1 1754.62 L1145.1 1754.92 L1146.1 1755.22 L1147.1 1755.51 L1148.1 1755.79 L1149.1 1756.06 L1150.1 1756.33 L1151.1 1756.58 L1152.1 1756.83 L1153.1 1757.08 L1154.1 1757.31 L1155.1 1757.54 L1156.1 1757.77 L1157.1 1757.98 L1158.1 1758.20 L1159.1 1758.40 L1160.1 1758.60 L1161.1 1758.79 L1162.1 1758.98 L1163.1 1759.16 L1164.1 1759.34 L1165.1 1759.51 L1166.1 1759.68 L1167.1 1759.84 L1168.1 1760.00 L1169.1 1760.15 L1170.1 1760.30 L1171.1 1760.44 L1172.1 1760.58 L1173.1 1760.71 L1174.1 1760.84 L1175.1 1760.97 L1176.1 1761.09 L1177.1 1761.21 L1178.1 1761.32 L1179.1 1761.43 L1180.1 1761.54 L1181.1 1761.65 L1182.1 1761.75 L1183.1 1761.85 L1184.1 1761.94 L1185.1 1762.03 L1186.1 1762.12 L1187.1 1762.21 L1188.1 1762.29 L1189.1 1762.37 L1190.1 1762.45 L1191.1 1762.52 L1192.1 1762.60 L1193.1 1762.67 L1194.1 1762.73 L1195.1 1762.80 L1196.1 1762.86 L1197.1 1762.93 L1198.1 1762.98 L1199.1 1763.04 L1200.1 1763.10 L1201.1 1763.15 L1202.1 1763.20 L1203.1 1763.25 L1204.1 1763.30 L1205.1 1763.35 L1206.1 1763.39 L1207.1 1763.44 L1208.1 1763.48 L1209.1 1763.52 L1210.1 1763.56 L1211.1 1763.59 L1212.1 1763.63 L1213.1 1763.67 L1214.1 1763.70 L1215.1 1763.73 L1216.1 1763.76 L1217.1 1763.79 L1218.1 1763.82 L1219.1 1763.85 L1220.1 1763.88 L1221.1 1763.90 L1222.1 1763.93 L1223.1 1763.95 L1224.1 1763.98 L1225.1 1764.00 L1226.1 1764.02 L1227.1 1764.04 L1228.1 1764.06 L1229.1 1764.08 L1230.1 1764.10 L1231.1 1764.12 L1232.1 1764.13 L1233.1 1764.15 L1234.1 1764.17 L1235.1 1764.18 L1236.1 1764.20 L1237.1 1764.21 L1238.1 1764.22 L1239.1 1764.24 L1240.1 1764.25 L1241.1 1764.26 L1242.1 1764.27 L1243.1 1764.28 L1244.1 1764.29 L1245.1 1764.30 L1246.1 1764.31 L1247.1 1764.32 L1248.1 1764.33 L1249.1 1764.34 L1250.1 1764.35 L1251.1 1764.36 L1252.1 1764.37 L1253.1 1764.37 L1254.1 1764.38 L1255.1 1764.39 L1256.1 1764.39 L1257.1 1764.40 L1258.1 1764.41 L1259.1 1764.41 L1260.1 1764.42 L1261.1 1764.42 L1262.1 1764.43 L1263.1 1764.43 L1264.1 1764.44 L1265.1 1764.44 L1266.1 1764.45 L1267.1 1764.45" fill="none" stroke="#000" stroke-width="2.8" stroke-linejoin="round"/>
<path d="M542.9 1316.01 L543.9 1316.01 L544.9 1316.01 L545.9 1316.01 L546.9 1316.01 L547.9 1316.01 L548.9 1316.01 L549.9 1316.01 L550.9 1316.02 L551.9 1316.02 L552.9 1316.02 L553.9 1316.02 L554.9 1316.02 L555.9 1316.02 L556.9 1316.02 L557.9 1316.03 L558.9 1316.03 L559.9 1316.03 L560.9 1316.03 L561.9 1316.03 L562.9 1316.04 L563.9 1316.04 L564.9 1316.04 L565.9 1316.04 L566.9 1316.05 L567.9 1316.05 L568.9 1316.05 L569.9 1316.06 L570.9 1316.06 L571.9 1316.06 L572.9 1316.07 L573.9 1316.07 L574.9 1316.08 L575.9 1316.08 L576.9 1316.08 L577.9 1316.09 L578.9 1316.09 L579.9 1316.10 L580.9 1316.11 L581.9 1316.11 L582.9 1316.12 L583.9 1316.13 L584.9 1316.13 L585.9 1316.14 L586.9 1316.15 L587.9 1316.16 L588.9 1316.16 L589.9 1316.17 L590.9 1316.18 L591.9 1316.19 L592.9 1316.20 L593.9 1316.21 L594.9 1316.23 L595.9 1316.24 L596.9 1316.25 L597.9 1316.26 L598.9 1316.28 L599.9 1316.29 L600.9 1316.31 L601.9 1316.32 L602.9 1316.34 L603.9 1316.36 L604.9 1316.38 L605.9 1316.40 L606.9 1316.42 L607.9 1316.44 L608.9 1316.46 L609.9 1316.49 L610.9 1316.51 L611.9 1316.54 L612.9 1316.56 L613.9 1316.59 L614.9 1316.62 L615.9 1316.65 L616.9 1316.69 L617.9 1316.72 L618.9 1316.76 L619.9 1316.79 L620.9 1316.83 L621.9 1316.88 L622.9 1316.92 L623.9 1316.96 L624.9 1317.01 L625.9 1317.06 L626.9 1317.11 L627.9 1317.17 L628.9 1317.23 L629.9 1317.29 L630.9 1317.35 L631.9 1317.41 L632.9 1317.48 L633.9 1317.55 L634.9 1317.63 L635.9 1317.71 L636.9 1317.79 L637.9 1317.87 L638.9 1317.96 L639.9 1318.05 L640.9 1318.15 L641.9 1318.25 L642.9 1318.36 L643.9 1318.47 L644.9 1318.58 L645.9 1318.70 L646.9 1318.82 L647.9 1318.95 L648.9 1319.09 L649.9 1319.22 L650.9 1319.37 L651.9 1319.52 L652.9 1319.68 L653.9 1319.84 L654.9 1320.01 L655.9 1320.19 L656.9 1320.37 L657.9 1320.56 L658.9 1320.75 L659.9 1320.96 L660.9 1321.17 L661.9 1321.38 L662.9 1321.61 L663.9 1321.84 L664.9 1322.08 L665.9 1322.33 L666.9 1322.59 L667.9 1322.86 L668.9 1323.13 L669.9 1323.42 L670.9 1323.71 L671.9 1324.01 L672.9 1324.33 L673.9 1324.65 L674.9 1324.98 L675.9 1325.32 L676.9 1325.67 L677.9 1326.04 L678.9 1326.41 L679.9 1326.79 L680.9 1327.19 L681.9 1327.59 L682.9 1328.01 L683.9 1328.43 L684.9 1328.87 L685.9 1329.32 L686.9 1329.79 L687.9 1330.26 L688.9 1330.75 L689.9 1331.24 L690.9 1331.76 L691.9 1332.28 L692.9 1332.82 L693.9 1333.36 L694.9 1333.93 L695.9 1334.50 L696.9 1335.09 L697.9 1335.69 L698.9 1336.31 L699.9 1336.93 L700.9 1337.58 L701.9 1338.23 L702.9 1338.90 L703.9 1339.59 L704.9 1340.29 L706.0 1341.00 L707.0 1341.73 L708.0 1342.47 L709.0 1343.23 L710.0 1344.00 L711.0 1344.79 L712.0 1345.59 L713.0 1346.41 L714.0 1347.24 L715.0 1348.09 L716.0 1348.95 L717.0 1349.83 L718.0 1350.73 L719.0 1351.64 L720.0 1352.57 L721.0 1353.51 L722.0 1354.47 L723.0 1355.45 L724.0 1356.44 L725.0 1357.45 L726.0 1358.48 L727.0 1359.52 L728.0 1360.58 L729.0 1361.66 L730.0 1362.75 L731.0 1363.86 L732.0 1364.99 L733.0 1366.14 L734.0 1367.30 L735.0 1368.48 L736.0 1369.67 L737.0 1370.89 L738.0 1372.12 L739.0 1373.37 L740.0 1374.64 L741.0 1375.92 L742.0 1377.22 L743.0 1378.54 L744.0 1379.88 L745.0 1381.23 L746.0 1382.61 L747.0 1384.00 L748.0 1385.40 L749.0 1386.83 L750.0 1388.27 L751.0 1389.73 L752.0 1391.21 L753.0 1392.70 L754.0 1394.22 L755.0 1395.75 L756.0 1397.29 L757.0 1398.86 L758.0 1400.44 L759.0 1402.04 L760.0 1403.65 L761.0 1405.28 L762.0 1406.93 L763.0 1408.60 L764.0 1410.28 L765.0 1411.98 L766.0 1413.69 L767.0 1415.42 L768.0 1417.17 L769.0 1418.93 L770.0 1420.70 L771.0 1422.49 L772.0 1424.30 L773.0 1426.12 L774.0 1427.96 L775.0 1429.80 L776.0 1431.67 L777.0 1433.54 L778.0 1435.43 L779.0 1437.34 L780.0 1439.25 L781.0 1441.18 L782.0 1443.12 L783.0 1445.07 L784.0 1447.03 L785.0 1449.01 L786.0 1450.99 L787.0 1452.99 L788.0 1454.99 L789.0 1457.00 L790.0 1459.03 L791.0 1461.06 L792.0 1463.10 L793.0 1465.15 L794.0 1467.20 L795.0 1469.26 L796.0 1471.33 L797.0 1473.40 L798.0 1475.48 L799.0 1477.57 L800.0 1479.65 L801.0 1481.75 L802.0 1483.84 L803.0 1485.94 L804.0 1488.04 L805.0 1490.14 L806.0 1492.24 L807.0 1494.35 L808.0 1496.45 L809.0 1498.56 L810.0 1500.66 L811.0 1502.76 L812.0 1504.86 L813.0 1506.96 L814.0 1509.05 L815.0 1511.14 L816.0 1513.22 L817.0 1515.30 L818.0 1517.37 L819.0 1519.44 L820.0 1521.50 L821.0 1523.55 L822.0 1525.60 L823.0 1527.63 L824.0 1529.66 L825.0 1531.67 L826.0 1533.68 L827.0 1535.67 L828.0 1537.66 L829.0 1539.63 L830.0 1541.58 L831.0 1543.53 L832.0 1545.46 L833.0 1547.37 L834.0 1549.27 L835.0 1551.15 L836.0 1553.02 L837.0 1554.87 L838.0 1556.70 L839.0 1558.51 L840.0 1560.31 L841.0 1562.08 L842.0 1563.84 L843.0 1565.58 L844.0 1567.29 L845.0 1568.98 L846.0 1570.65 L847.0 1572.30 L848.0 1573.93 L849.0 1575.53 L850.0 1577.11 L851.0 1578.66 L852.0 1580.19 L853.0 1581.69 L854.0 1583.17 L855.0 1584.62 L856.0 1586.05 L857.0 1587.44 L858.0 1588.82 L859.0 1590.16 L860.0 1591.47 L861.0 1592.76 L862.0 1594.02 L863.0 1595.25 L864.0 1596.45 L865.0 1597.62 L866.0 1598.76 L867.0 1599.87 L868.0 1600.95 L869.0 1602.00 L870.0 1603.02 L871.0 1604.01 L872.0 1604.97 L873.0 1605.90 L874.0 1606.79 L875.0 1607.66 L876.0 1608.49 L877.0 1609.29 L878.0 1610.06 L879.0 1610.80 L880.0 1611.51 L881.0 1612.18 L882.0 1612.83 L883.0 1613.44 L884.0 1614.02 L885.0 1614.57 L886.0 1615.09 L887.0 1615.58 L888.0 1616.04 L889.0 1616.46 L890.0 1616.86 L891.0 1617.23 L892.0 1617.56 L893.0 1617.87 L894.0 1618.15 L895.0 1618.40 L896.0 1618.62 L897.0 1618.81 L898.0 1618.98 L899.0 1619.12 L900.0 1619.24 L901.0 1619.33 L902.0 1619.40 L903.0 1619.44 L904.0 1619.46 L905.0 1619.47 L906.0 1619.46 L907.0 1619.44 L908.0 1619.40 L909.0 1619.33 L910.0 1619.24 L911.0 1619.12 L912.0 1618.98 L913.0 1618.81 L914.0 1618.62 L915.0 1618.40 L916.0 1618.15 L917.0 1617.87 L918.0 1617.56 L919.0 1617.23 L920.0 1616.86 L921.0 1616.46 L922.0 1616.04 L923.0 1615.58 L924.0 1615.09 L925.0 1614.57 L926.0 1614.02 L927.0 1613.44 L928.0 1612.83 L929.0 1612.18 L930.0 1611.51 L931.0 1610.80 L932.0 1610.06 L933.0 1609.29 L934.0 1608.49 L935.0 1607.66 L936.0 1606.79 L937.0 1605.90 L938.0 1604.97 L939.0 1604.01 L940.0 1603.02 L941.0 1602.00 L942.0 1600.95 L943.0 1599.87 L944.0 1598.76 L945.0 1597.62 L946.0 1596.45 L947.0 1595.25 L948.0 1594.02 L949.0 1592.76 L950.0 1591.47 L951.0 1590.16 L952.0 1588.82 L953.0 1587.44 L954.0 1586.05 L955.0 1584.62 L956.0 1583.17 L957.0 1581.69 L958.0 1580.19 L959.0 1578.66 L960.0 1577.11 L961.0 1575.53 L962.0 1573.93 L963.0 1572.30 L964.0 1570.65 L965.0 1568.98 L966.0 1567.29 L967.0 1565.58 L968.0 1563.84 L969.0 1562.08 L970.0 1560.31 L971.0 1558.51 L972.0 1556.70 L973.0 1554.87 L974.0 1553.02 L975.0 1551.15 L976.0 1549.27 L977.0 1547.37 L978.0 1545.46 L979.0 1543.53 L980.0 1541.58 L981.0 1539.63 L982.0 1537.66 L983.0 1535.67 L984.0 1533.68 L985.0 1531.67 L986.0 1529.66 L987.0 1527.63 L988.0 1525.60 L989.0 1523.55 L990.0 1521.50 L991.0 1519.44 L992.0 1517.37 L993.0 1515.30 L994.0 1513.22 L995.0 1511.14 L996.0 1509.05 L997.0 1506.96 L998.0 1504.86 L999.0 1502.76 L1000.0 1500.66 L1001.0 1498.56 L1002.0 1496.45 L1003.0 1494.35 L1004.0 1492.24 L1005.0 1490.14 L1006.0 1488.04 L1007.0 1485.94 L1008.0 1483.84 L1009.0 1481.75 L1010.0 1479.65 L1011.0 1477.57 L1012.0 1475.48 L1013.0 1473.40 L1014.0 1471.33 L1015.0 1469.26 L1016.0 1467.20 L1017.0 1465.15 L1018.0 1463.10 L1019.0 1461.06 L1020.0 1459.03 L1021.0 1457.00 L1022.0 1454.99 L1023.0 1452.99 L1024.0 1450.99 L1025.0 1449.01 L1026.0 1447.03 L1027.0 1445.07 L1028.0 1443.12 L1029.0 1441.18 L1030.0 1439.25 L1031.0 1437.34 L1032.0 1435.43 L1033.0 1433.54 L1034.0 1431.67 L1035.0 1429.80 L1036.0 1427.96 L1037.0 1426.12 L1038.0 1424.30 L1039.0 1422.49 L1040.0 1420.70 L1041.0 1418.93 L1042.0 1417.17 L1043.0 1415.42 L1044.0 1413.69 L1045.0 1411.98 L1046.0 1410.28 L1047.0 1408.60 L1048.0 1406.93 L1049.0 1405.28 L1050.0 1403.65 L1051.0 1402.04 L1052.0 1400.44 L1053.0 1398.86 L1054.0 1397.29 L1055.0 1395.75 L1056.0 1394.22 L1057.0 1392.70 L1058.0 1391.21 L1059.0 1389.73 L1060.0 1388.27 L1061.0 1386.83 L1062.0 1385.40 L1063.0 1384.00 L1064.0 1382.61 L1065.0 1381.23 L1066.0 1379.88 L1067.0 1378.54 L1068.0 1377.22 L1069.0 1375.92 L1070.0 1374.64 L1071.0 1373.37 L1072.0 1372.12 L1073.0 1370.89 L1074.0 1369.67 L1075.0 1368.48 L1076.0 1367.30 L1077.0 1366.14 L1078.0 1364.99 L1079.0 1363.86 L1080.0 1362.75 L1081.0 1361.66 L1082.0 1360.58 L1083.0 1359.52 L1084.0 1358.48 L1085.0 1357.45 L1086.0 1356.44 L1087.0 1355.45 L1088.0 1354.47 L1089.0 1353.51 L1090.0 1352.57 L1091.0 1351.64 L1092.0 1350.73 L1093.0 1349.83 L1094.0 1348.95 L1095.0 1348.09 L1096.0 1347.24 L1097.0 1346.41 L1098.0 1345.59 L1099.0 1344.79 L1100.0 1344.00 L1101.0 1343.23 L1102.0 1342.47 L1103.0 1341.73 L1104.0 1341.00 L1105.1 1340.29 L1106.1 1339.59 L1107.1 1338.90 L1108.1 1338.23 L1109.1 1337.58 L1110.1 1336.93 L1111.1 1336.31 L1112.1 1335.69 L1113.1 1335.09 L1114.1 1334.50 L1115.1 1333.93 L1116.1 1333.36 L1117.1 1332.82 L1118.1 1332.28 L1119.1 1331.76 L1120.1 1331.24 L1121.1 1330.75 L1122.1 1330.26 L1123.1 1329.79 L1124.1 1329.32 L1125.1 1328.87 L1126.1 1328.43 L1127.1 1328.01 L1128.1 1327.59 L1129.1 1327.19 L1130.1 1326.79 L1131.1 1326.41 L1132.1 1326.04 L1133.1 1325.67 L1134.1 1325.32 L1135.1 1324.98 L1136.1 1324.65 L1137.1 1324.33 L1138.1 1324.01 L1139.1 1323.71 L1140.1 1323.42 L1141.1 1323.13 L1142.1 1322.86 L1143.1 1322.59 L1144.1 1322.33 L1145.1 1322.08 L1146.1 1321.84 L1147.1 1321.61 L1148.1 1321.38 L1149.1 1321.17 L1150.1 1320.96 L1151.1 1320.75 L1152.1 1320.56 L1153.1 1320.37 L1154.1 1320.19 L1155.1 1320.01 L1156.1 1319.84 L1157.1 1319.68 L1158.1 1319.52 L1159.1 1319.37 L1160.1 1319.22 L1161.1 1319.09 L1162.1 1318.95 L1163.1 1318.82 L1164.1 1318.70 L1165.1 1318.58 L1166.1 1318.47 L1167.1 1318.36 L1168.1 1318.25 L1169.1 1318.15 L1170.1 1318.05 L1171.1 1317.96 L1172.1 1317.87 L1173.1 1317.79 L1174.1 1317.71 L1175.1 1317.63 L1176.1 1317.55 L1177.1 1317.48 L1178.1 1317.41 L1179.1 1317.35 L1180.1 1317.29 L1181.1 1317.23 L1182.1 1317.17 L1183.1 1317.11 L1184.1 1317.06 L1185.1 1317.01 L1186.1 1316.96 L1187.1 1316.92 L1188.1 1316.88 L1189.1 1316.83 L1190.1 1316.79 L1191.1 1316.76 L1192.1 1316.72 L1193.1 1316.69 L1194.1 1316.65 L1195.1 1316.62 L1196.1 1316.59 L1197.1 1316.56 L1198.1 1316.54 L1199.1 1316.51 L1200.1 1316.49 L1201.1 1316.46 L1202.1 1316.44 L1203.1 1316.42 L1204.1 1316.40 L1205.1 1316.38 L1206.1 1316.36 L1207.1 1316.34 L1208.1 1316.32 L1209.1 1316.31 L1210.1 1316.29 L1211.1 1316.28 L1212.1 1316.26 L1213.1 1316.25 L1214.1 1316.24 L1215.1 1316.23 L1216.1 1316.21 L1217.1 1316.20 L1218.1 1316.19 L1219.1 1316.18 L1220.1 1316.17 L1221.1 1316.16 L1222.1 1316.16 L1223.1 1316.15 L1224.1 1316.14 L1225.1 1316.13 L1226.1 1316.13 L1227.1 1316.12 L1228.1 1316.11 L1229.1 1316.11 L1230.1 1316.10 L1231.1 1316.09 L1232.1 1316.09 L1233.1 1316.08 L1234.1 1316.08 L1235.1 1316.08 L1236.1 1316.07 L1237.1 1316.07 L1238.1 1316.06 L1239.1 1316.06 L1240.1 1316.06 L1241.1 1316.05 L1242.1 1316.05 L1243.1 1316.05 L1244.1 1316.04 L1245.1 1316.04 L1246.1 1316.04 L1247.1 1316.04 L1248.1 1316.03 L1249.1 1316.03 L1250.1 1316.03 L1251.1 1316.03 L1252.1 1316.03 L1253.1 1316.02 L1254.1 1316.02 L1255.1 1316.02 L1256.1 1316.02 L1257.1 1316.02 L1258.1 1316.02 L1259.1 1316.02 L1260.1 1316.01 L1261.1 1316.01 L1262.1 1316.01 L1263.1 1316.01 L1264.1 1316.01 L1265.1 1316.01 L1266.1 1316.01 L1267.1 1316.01" fill="none" stroke="#930000" stroke-width="2.8" stroke-linejoin="round"/>
<path d="M542.9 1765.26 L543.9 1765.25 L544.9 1765.25 L545.9 1765.24 L546.9 1765.24 L547.9 1765.23 L548.9 1765.23 L549.9 1765.22 L550.9 1765.21 L551.9 1765.21 L552.9 1765.20 L553.9 1765.20 L554.9 1765.19 L555.9 1765.18 L556.9 1765.17 L557.9 1765.17 L558.9 1765.16 L559.9 1765.15 L560.9 1765.14 L561.9 1765.13 L562.9 1765.13 L563.9 1765.12 L564.9 1765.11 L565.9 1765.10 L566.9 1765.09 L567.9 1765.08 L568.9 1765.07 L569.9 1765.05 L570.9 1765.04 L571.9 1765.03 L572.9 1765.02 L573.9 1765.01 L574.9 1764.99 L575.9 1764.98 L576.9 1764.96 L577.9 1764.95 L578.9 1764.93 L579.9 1764.92 L580.9 1764.90 L581.9 1764.89 L582.9 1764.87 L583.9 1764.85 L584.9 1764.83 L585.9 1764.81 L586.9 1764.79 L587.9 1764.77 L588.9 1764.75 L589.9 1764.73 L590.9 1764.71 L591.9 1764.69 L592.9 1764.66 L593.9 1764.64 L594.9 1764.62 L595.9 1764.59 L596.9 1764.56 L597.9 1764.54 L598.9 1764.51 L599.9 1764.48 L600.9 1764.45 L601.9 1764.42 L602.9 1764.39 L603.9 1764.35 L604.9 1764.32 L605.9 1764.29 L606.9 1764.25 L607.9 1764.21 L608.9 1764.17 L609.9 1764.14 L610.9 1764.10 L611.9 1764.05 L612.9 1764.01 L613.9 1763.97 L614.9 1763.92 L615.9 1763.88 L616.9 1763.83 L617.9 1763.78 L618.9 1763.73 L619.9 1763.68 L620.9 1763.62 L621.9 1763.57 L622.9 1763.51 L623.9 1763.45 L624.9 1763.39 L625.9 1763.33 L626.9 1763.27 L627.9 1763.20 L628.9 1763.14 L629.9 1763.07 L630.9 1763.00 L631.9 1762.93 L632.9 1762.85 L633.9 1762.78 L634.9 1762.70 L635.9 1762.62 L636.9 1762.54 L637.9 1762.45 L638.9 1762.36 L639.9 1762.27 L640.9 1762.18 L641.9 1762.09 L642.9 1761.99 L643.9 1761.89 L644.9 1761.79 L645.9 1761.69 L646.9 1761.58 L647.9 1761.47 L648.9 1761.36 L649.9 1761.24 L650.9 1761.12 L651.9 1761.00 L652.9 1760.88 L653.9 1760.75 L654.9 1760.62 L655.9 1760.49 L656.9 1760.35 L657.9 1760.21 L658.9 1760.07 L659.9 1759.92 L660.9 1759.77 L661.9 1759.62 L662.9 1759.46 L663.9 1759.30 L664.9 1759.13 L665.9 1758.96 L666.9 1758.79 L667.9 1758.61 L668.9 1758.43 L669.9 1758.24 L670.9 1758.05 L671.9 1757.86 L672.9 1757.66 L673.9 1757.46 L674.9 1757.25 L675.9 1757.03 L676.9 1756.82 L677.9 1756.60 L678.9 1756.37 L679.9 1756.14 L680.9 1755.90 L681.9 1755.66 L682.9 1755.41 L683.9 1755.16 L684.9 1754.90 L685.9 1754.63 L686.9 1754.37 L687.9 1754.09 L688.9 1753.81 L689.9 1753.52 L690.9 1753.23 L691.9 1752.93 L692.9 1752.63 L693.9 1752.32 L694.9 1752.00 L695.9 1751.68 L696.9 1751.35 L697.9 1751.01 L698.9 1750.67 L699.9 1750.32 L700.9 1749.96 L701.9 1749.60 L702.9 1749.23 L703.9 1748.85 L704.9 1748.46 L706.0 1748.07 L707.0 1747.67 L708.0 1747.27 L709.0 1746.85 L710.0 1746.43 L711.0 1746.00 L712.0 1745.56 L713.0 1745.12 L714.0 1744.66 L715.0 1744.20 L716.0 1743.73 L717.0 1743.25 L718.0 1742.77 L719.0 1742.27 L720.0 1741.77 L721.0 1741.26 L722.0 1740.74 L723.0 1740.21 L724.0 1739.67 L725.0 1739.12 L726.0 1738.56 L727.0 1738.00 L728.0 1737.42 L729.0 1736.84 L730.0 1736.24 L731.0 1735.63 L732.0 1735.02 L733.0 1734.39 L734.0 1733.76 L735.0 1733.11 L736.0 1732.46 L737.0 1731.79 L738.0 1731.11 L739.0 1730.42 L740.0 1729.72 L741.0 1729.00 L742.0 1728.28 L743.0 1727.54 L744.0 1726.79 L745.0 1726.02 L746.0 1725.25 L747.0 1724.45 L748.0 1723.65 L749.0 1722.83 L750.0 1722.00 L751.0 1721.15 L752.0 1720.28 L753.0 1719.40 L754.0 1718.50 L755.0 1717.59 L756.0 1716.66 L757.0 1715.71 L758.0 1714.75 L759.0 1713.76 L760.0 1712.76 L761.0 1711.74 L762.0 1710.70 L763.0 1709.64 L764.0 1708.56 L765.0 1707.46 L766.0 1706.34 L767.0 1705.19 L768.0 1704.03 L769.0 1702.85 L770.0 1701.64 L771.0 1700.42 L772.0 1699.17 L773.0 1697.90 L774.0 1696.61 L775.0 1695.29 L776.0 1693.96 L777.0 1692.61 L778.0 1691.23 L779.0 1689.83 L780.0 1688.41 L781.0 1686.98 L782.0 1685.52 L783.0 1684.04 L784.0 1682.54 L785.0 1681.03 L786.0 1679.50 L787.0 1677.95 L788.0 1676.38 L789.0 1674.79 L790.0 1673.19 L791.0 1671.58 L792.0 1669.95 L793.0 1668.31 L794.0 1666.65 L795.0 1664.99 L796.0 1663.31 L797.0 1661.62 L798.0 1659.92 L799.0 1658.21 L800.0 1656.50 L801.0 1654.78 L802.0 1653.05 L803.0 1651.31 L804.0 1649.57 L805.0 1647.83 L806.0 1646.08 L807.0 1644.34 L808.0 1642.59 L809.0 1640.84 L810.0 1639.09 L811.0 1637.34 L812.0 1635.59 L813.0 1633.84 L814.0 1632.10 L815.0 1630.36 L816.0 1628.62 L817.0 1626.89 L818.0 1625.17 L819.0 1623.45 L820.0 1621.73 L821.0 1620.03 L822.0 1618.33 L823.0 1616.64 L824.0 1614.95 L825.0 1613.28 L826.0 1611.62 L827.0 1609.96 L828.0 1608.32 L829.0 1606.68 L830.0 1605.06 L831.0 1603.45 L832.0 1601.85 L833.0 1600.26 L834.0 1598.68 L835.0 1597.12 L836.0 1595.57 L837.0 1594.03 L838.0 1592.51 L839.0 1590.99 L840.0 1589.50 L841.0 1588.01 L842.0 1586.54 L843.0 1585.09 L844.0 1583.65 L845.0 1582.22 L846.0 1580.81 L847.0 1579.41 L848.0 1578.03 L849.0 1576.67 L850.0 1575.32 L851.0 1573.99 L852.0 1572.67 L853.0 1571.37 L854.0 1570.09 L855.0 1568.82 L856.0 1567.57 L857.0 1566.34 L858.0 1565.12 L859.0 1563.92 L860.0 1562.75 L861.0 1561.58 L862.0 1560.44 L863.0 1559.32 L864.0 1558.21 L865.0 1557.13 L866.0 1556.06 L867.0 1555.01 L868.0 1553.98 L869.0 1552.98 L870.0 1551.99 L871.0 1551.02 L872.0 1550.08 L873.0 1549.15 L874.0 1548.25 L875.0 1547.37 L876.0 1546.51 L877.0 1545.68 L878.0 1544.86 L879.0 1544.07 L880.0 1543.30 L881.0 1542.56 L882.0 1541.84 L883.0 1541.14 L884.0 1540.47 L885.0 1539.83 L886.0 1539.21 L887.0 1538.61 L888.0 1538.05 L889.0 1537.50 L890.0 1536.99 L891.0 1536.50 L892.0 1536.04 L893.0 1535.61 L894.0 1535.21 L895.0 1534.84 L896.0 1534.50 L897.0 1534.18 L898.0 1533.90 L899.0 1533.66 L900.0 1533.44 L901.0 1533.26 L902.0 1533.11 L903.0 1533.00 L904.0 1532.93 L905.0 1532.90 L906.0 1532.93 L907.0 1533.00 L908.0 1533.11 L909.0 1533.26 L910.0 1533.44 L911.0 1533.66 L912.0 1533.90 L913.0 1534.18 L914.0 1534.50 L915.0 1534.84 L916.0 1535.21 L917.0 1535.61 L918.0 1536.04 L919.0 1536.50 L920.0 1536.99 L921.0 1537.50 L922.0 1538.05 L923.0 1538.61 L924.0 1539.21 L925.0 1539.83 L926.0 1540.47 L927.0 1541.14 L928.0 1541.84 L929.0 1542.56 L930.0 1543.30 L931.0 1544.07 L932.0 1544.86 L933.0 1545.68 L934.0 1546.51 L935.0 1547.37 L936.0 1548.25 L937.0 1549.15 L938.0 1550.08 L939.0 1551.02 L940.0 1551.99 L941.0 1552.98 L942.0 1553.98 L943.0 1555.01 L944.0 1556.06 L945.0 1557.13 L946.0 1558.21 L947.0 1559.32 L948.0 1560.44 L949.0 1561.58 L950.0 1562.75 L951.0 1563.92 L952.0 1565.12 L953.0 1566.34 L954.0 1567.57 L955.0 1568.82 L956.0 1570.09 L957.0 1571.37 L958.0 1572.67 L959.0 1573.99 L960.0 1575.32 L961.0 1576.67 L962.0 1578.03 L963.0 1579.41 L964.0 1580.81 L965.0 1582.22 L966.0 1583.65 L967.0 1585.09 L968.0 1586.54 L969.0 1588.01 L970.0 1589.50 L971.0 1590.99 L972.0 1592.51 L973.0 1594.03 L974.0 1595.57 L975.0 1597.12 L976.0 1598.68 L977.0 1600.26 L978.0 1601.85 L979.0 1603.45 L980.0 1605.06 L981.0 1606.68 L982.0 1608.32 L983.0 1609.96 L984.0 1611.62 L985.0 1613.28 L986.0 1614.95 L987.0 1616.64 L988.0 1618.33 L989.0 1620.03 L990.0 1621.73 L991.0 1623.45 L992.0 1625.17 L993.0 1626.89 L994.0 1628.62 L995.0 1630.36 L996.0 1632.10 L997.0 1633.84 L998.0 1635.59 L999.0 1637.34 L1000.0 1639.09 L1001.0 1640.84 L1002.0 1642.59 L1003.0 1644.34 L1004.0 1646.08 L1005.0 1647.83 L1006.0 1649.57 L1007.0 1651.31 L1008.0 1653.05 L1009.0 1654.78 L1010.0 1656.50 L1011.0 1658.21 L1012.0 1659.92 L1013.0 1661.62 L1014.0 1663.31 L1015.0 1664.99 L1016.0 1666.65 L1017.0 1668.31 L1018.0 1669.95 L1019.0 1671.58 L1020.0 1673.19 L1021.0 1674.79 L1022.0 1676.38 L1023.0 1677.95 L1024.0 1679.50 L1025.0 1681.03 L1026.0 1682.54 L1027.0 1684.04 L1028.0 1685.52 L1029.0 1686.98 L1030.0 1688.41 L1031.0 1689.83 L1032.0 1691.23 L1033.0 1692.61 L1034.0 1693.96 L1035.0 1695.29 L1036.0 1696.61 L1037.0 1697.90 L1038.0 1699.17 L1039.0 1700.42 L1040.0 1701.64 L1041.0 1702.85 L1042.0 1704.03 L1043.0 1705.19 L1044.0 1706.34 L1045.0 1707.46 L1046.0 1708.56 L1047.0 1709.64 L1048.0 1710.70 L1049.0 1711.74 L1050.0 1712.76 L1051.0 1713.76 L1052.0 1714.75 L1053.0 1715.71 L1054.0 1716.66 L1055.0 1717.59 L1056.0 1718.50 L1057.0 1719.40 L1058.0 1720.28 L1059.0 1721.15 L1060.0 1722.00 L1061.0 1722.83 L1062.0 1723.65 L1063.0 1724.45 L1064.0 1725.25 L1065.0 1726.02 L1066.0 1726.79 L1067.0 1727.54 L1068.0 1728.28 L1069.0 1729.00 L1070.0 1729.72 L1071.0 1730.42 L1072.0 1731.11 L1073.0 1731.79 L1074.0 1732.46 L1075.0 1733.11 L1076.0 1733.76 L1077.0 1734.39 L1078.0 1735.02 L1079.0 1735.63 L1080.0 1736.24 L1081.0 1736.84 L1082.0 1737.42 L1083.0 1738.00 L1084.0 1738.56 L1085.0 1739.12 L1086.0 1739.67 L1087.0 1740.21 L1088.0 1740.74 L1089.0 1741.26 L1090.0 1741.77 L1091.0 1742.27 L1092.0 1742.77 L1093.0 1743.25 L1094.0 1743.73 L1095.0 1744.20 L1096.0 1744.66 L1097.0 1745.12 L1098.0 1745.56 L1099.0 1746.00 L1100.0 1746.43 L1101.0 1746.85 L1102.0 1747.27 L1103.0 1747.67 L1104.0 1748.07 L1105.1 1748.46 L1106.1 1748.85 L1107.1 1749.23 L1108.1 1749.60 L1109.1 1749.96 L1110.1 1750.32 L1111.1 1750.67 L1112.1 1751.01 L1113.1 1751.35 L1114.1 1751.68 L1115.1 1752.00 L1116.1 1752.32 L1117.1 1752.63 L1118.1 1752.93 L1119.1 1753.23 L1120.1 1753.52 L1121.1 1753.81 L1122.1 1754.09 L1123.1 1754.37 L1124.1 1754.63 L1125.1 1754.90 L1126.1 1755.16 L1127.1 1755.41 L1128.1 1755.66 L1129.1 1755.90 L1130.1 1756.14 L1131.1 1756.37 L1132.1 1756.60 L1133.1 1756.82 L1134.1 1757.03 L1135.1 1757.25 L1136.1 1757.46 L1137.1 1757.66 L1138.1 1757.86 L1139.1 1758.05 L1140.1 1758.24 L1141.1 1758.43 L1142.1 1758.61 L1143.1 1758.79 L1144.1 1758.96 L1145.1 1759.13 L1146.1 1759.30 L1147.1 1759.46 L1148.1 1759.62 L1149.1 1759.77 L1150.1 1759.92 L1151.1 1760.07 L1152.1 1760.21 L1153.1 1760.35 L1154.1 1760.49 L1155.1 1760.62 L1156.1 1760.75 L1157.1 1760.88 L1158.1 1761.00 L1159.1 1761.12 L1160.1 1761.24 L1161.1 1761.36 L1162.1 1761.47 L1163.1 1761.58 L1164.1 1761.69 L1165.1 1761.79 L1166.1 1761.89 L1167.1 1761.99 L1168.1 1762.09 L1169.1 1762.18 L1170.1 1762.27 L1171.1 1762.36 L1172.1 1762.45 L1173.1 1762.54 L1174.1 1762.62 L1175.1 1762.70 L1176.1 1762.78 L1177.1 1762.85 L1178.1 1762.93 L1179.1 1763.00 L1180.1 1763.07 L1181.1 1763.14 L1182.1 1763.20 L1183.1 1763.27 L1184.1 1763.33 L1185.1 1763.39 L1186.1 1763.45 L1187.1 1763.51 L1188.1 1763.57 L1189.1 1763.62 L1190.1 1763.68 L1191.1 1763.73 L1192.1 1763.78 L1193.1 1763.83 L1194.1 1763.88 L1195.1 1763.92 L1196.1 1763.97 L1197.1 1764.01 L1198.1 1764.05 L1199.1 1764.10 L1200.1 1764.14 L1201.1 1764.17 L1202.1 1764.21 L1203.1 1764.25 L1204.1 1764.29 L1205.1 1764.32 L1206.1 1764.35 L1207.1 1764.39 L1208.1 1764.42 L1209.1 1764.45 L1210.1 1764.48 L1211.1 1764.51 L1212.1 1764.54 L1213.1 1764.56 L1214.1 1764.59 L1215.1 1764.62 L1216.1 1764.64 L1217.1 1764.66 L1218.1 1764.69 L1219.1 1764.71 L1220.1 1764.73 L1221.1 1764.75 L1222.1 1764.77 L1223.1 1764.79 L1224.1 1764.81 L1225.1 1764.83 L1226.1 1764.85 L1227.1 1764.87 L1228.1 1764.89 L1229.1 1764.90 L1230.1 1764.92 L1231.1 1764.93 L1232.1 1764.95 L1233.1 1764.96 L1234.1 1764.98 L1235.1 1764.99 L1236.1 1765.01 L1237.1 1765.02 L1238.1 1765.03 L1239.1 1765.04 L1240.1 1765.05 L1241.1 1765.07 L1242.1 1765.08 L1243.1 1765.09 L1244.1 1765.10 L1245.1 1765.11 L1246.1 1765.12 L1247.1 1765.13 L1248.1 1765.13 L1249.1 1765.14 L1250.1 1765.15 L1251.1 1765.16 L1252.1 1765.17 L1253.1 1765.17 L1254.1 1765.18 L1255.1 1765.19 L1256.1 1765.20 L1257.1 1765.20 L1258.1 1765.21 L1259.1 1765.21 L1260.1 1765.22 L1261.1 1765.23 L1262.1 1765.23 L1263.1 1765.24 L1264.1 1765.24 L1265.1 1765.25 L1266.1 1765.25 L1267.1 1765.26" fill="none" stroke="#a0560c" stroke-width="2.8" stroke-linejoin="round"/>
<path d="M542.9 1757.28 L543.9 1757.09 L544.9 1756.90 L545.9 1756.71 L546.9 1756.51 L547.9 1756.31 L548.9 1756.10 L549.9 1755.89 L550.9 1755.67 L551.9 1755.45 L552.9 1755.22 L553.9 1754.99 L554.9 1754.75 L555.9 1754.50 L556.9 1754.26 L557.9 1754.00 L558.9 1753.74 L559.9 1753.47 L560.9 1753.20 L561.9 1752.92 L562.9 1752.64 L563.9 1752.35 L564.9 1752.05 L565.9 1751.75 L566.9 1751.44 L567.9 1751.12 L568.9 1750.80 L569.9 1750.47 L570.9 1750.14 L571.9 1749.80 L572.9 1749.45 L573.9 1749.10 L574.9 1748.74 L575.9 1748.37 L576.9 1747.99 L577.9 1747.61 L578.9 1747.22 L579.9 1746.83 L580.9 1746.43 L581.9 1746.02 L582.9 1745.60 L583.9 1745.18 L584.9 1744.75 L585.9 1744.31 L586.9 1743.87 L587.9 1743.42 L588.9 1742.96 L589.9 1742.49 L590.9 1742.02 L591.9 1741.54 L592.9 1741.05 L593.9 1740.56 L594.9 1740.06 L595.9 1739.55 L596.9 1739.03 L597.9 1738.50 L598.9 1737.97 L599.9 1737.43 L600.9 1736.89 L601.9 1736.33 L602.9 1735.77 L603.9 1735.20 L604.9 1734.63 L605.9 1734.05 L606.9 1733.46 L607.9 1732.86 L608.9 1732.26 L609.9 1731.64 L610.9 1731.03 L611.9 1730.40 L612.9 1729.77 L613.9 1729.13 L614.9 1728.49 L615.9 1727.83 L616.9 1727.17 L617.9 1726.51 L618.9 1725.84 L619.9 1725.16 L620.9 1724.47 L621.9 1723.78 L622.9 1723.08 L623.9 1722.38 L624.9 1721.67 L625.9 1720.96 L626.9 1720.24 L627.9 1719.51 L628.9 1718.78 L629.9 1718.04 L630.9 1717.30 L631.9 1716.55 L632.9 1715.80 L633.9 1715.04 L634.9 1714.28 L635.9 1713.51 L636.9 1712.74 L637.9 1711.97 L638.9 1711.19 L639.9 1710.41 L640.9 1709.63 L641.9 1708.84 L642.9 1708.05 L643.9 1707.25 L644.9 1706.45 L645.9 1705.66 L646.9 1704.85 L647.9 1704.05 L648.9 1703.25 L649.9 1702.44 L650.9 1701.63 L651.9 1700.82 L652.9 1700.01 L653.9 1699.20 L654.9 1698.39 L655.9 1697.58 L656.9 1696.78 L657.9 1695.97 L658.9 1695.16 L659.9 1694.35 L660.9 1693.55 L661.9 1692.74 L662.9 1691.94 L663.9 1691.15 L664.9 1690.35 L665.9 1689.56 L666.9 1688.77 L667.9 1687.98 L668.9 1687.20 L669.9 1686.43 L670.9 1685.65 L671.9 1684.89 L672.9 1684.12 L673.9 1683.37 L674.9 1682.62 L675.9 1681.87 L676.9 1681.14 L677.9 1680.41 L678.9 1679.68 L679.9 1678.97 L680.9 1678.26 L681.9 1677.56 L682.9 1676.87 L683.9 1676.19 L684.9 1675.52 L685.9 1674.86 L686.9 1674.20 L687.9 1673.56 L688.9 1672.93 L689.9 1672.31 L690.9 1671.70 L691.9 1671.10 L692.9 1670.51 L693.9 1669.94 L694.9 1669.37 L695.9 1668.82 L696.9 1668.29 L697.9 1667.76 L698.9 1667.25 L699.9 1666.75 L700.9 1666.27 L701.9 1665.79 L702.9 1665.34 L703.9 1664.89 L704.9 1664.47 L706.0 1664.05 L707.0 1663.65 L708.0 1663.27 L709.0 1662.90 L710.0 1662.55 L711.0 1662.21 L712.0 1661.89 L713.0 1661.58 L714.0 1661.29 L715.0 1661.01 L716.0 1660.75 L717.0 1660.51 L718.0 1660.28 L719.0 1660.07 L720.0 1659.87 L721.0 1659.69 L722.0 1659.52 L723.0 1659.38 L724.0 1659.24 L725.0 1659.13 L726.0 1659.02 L727.0 1658.94 L728.0 1658.87 L729.0 1658.81 L730.0 1658.78 L731.0 1658.75 L732.0 1658.74 L733.0 1658.75 L734.0 1658.77 L735.0 1658.81 L736.0 1658.86 L737.0 1658.92 L738.0 1659.00 L739.0 1659.10 L740.0 1659.20 L741.0 1659.32 L742.0 1659.46 L743.0 1659.61 L744.0 1659.77 L745.0 1659.94 L746.0 1660.13 L747.0 1660.32 L748.0 1660.53 L749.0 1660.75 L750.0 1660.99 L751.0 1661.23 L752.0 1661.48 L753.0 1661.75 L754.0 1662.02 L755.0 1662.30 L756.0 1662.60 L757.0 1662.90 L758.0 1663.21 L759.0 1663.53 L760.0 1663.86 L761.0 1664.19 L762.0 1664.54 L763.0 1664.89 L764.0 1665.24 L765.0 1665.61 L766.0 1665.98 L767.0 1666.35 L768.0 1666.73 L769.0 1667.12 L770.0 1667.51 L771.0 1667.90 L772.0 1668.30 L773.0 1668.70 L774.0 1669.11 L775.0 1669.52 L776.0 1669.93 L777.0 1670.34 L778.0 1670.76 L779.0 1671.17 L780.0 1671.59 L781.0 1672.01 L782.0 1672.43 L783.0 1672.86 L784.0 1673.28 L785.0 1673.70 L786.0 1674.12 L787.0 1674.54 L788.0 1674.96 L789.0 1675.38 L790.0 1675.80 L791.0 1676.22 L792.0 1676.63 L793.0 1677.04 L794.0 1677.45 L795.0 1677.86 L796.0 1678.26 L797.0 1678.66 L798.0 1679.06 L799.0 1679.46 L800.0 1679.85 L801.0 1680.24 L802.0 1680.62 L803.0 1681.00 L804.0 1681.38 L805.0 1681.75 L806.0 1682.11 L807.0 1682.47 L808.0 1682.83 L809.0 1683.18 L810.0 1683.53 L811.0 1683.87 L812.0 1684.21 L813.0 1684.54 L814.0 1684.87 L815.0 1685.19 L816.0 1685.50 L817.0 1685.81 L818.0 1686.11 L819.0 1686.41 L820.0 1686.70 L821.0 1686.99 L822.0 1687.27 L823.0 1687.54 L824.0 1687.81 L825.0 1688.07 L826.0 1688.33 L827.0 1688.58 L828.0 1688.82 L829.0 1689.06 L830.0 1689.29 L831.0 1689.52 L832.0 1689.74 L833.0 1689.95 L834.0 1690.16 L835.0 1690.36 L836.0 1690.56 L837.0 1690.75 L838.0 1690.94 L839.0 1691.12 L840.0 1691.29 L841.0 1691.46 L842.0 1691.62 L843.0 1691.78 L844.0 1691.93 L845.0 1692.08 L846.0 1692.22 L847.0 1692.36 L848.0 1692.49 L849.0 1692.62 L850.0 1692.74 L851.0 1692.86 L852.0 1692.97 L853.0 1693.08 L854.0 1693.18 L855.0 1693.28 L856.0 1693.37 L857.0 1693.46 L858.0 1693.55 L859.0 1693.63 L860.0 1693.71 L861.0 1693.78 L862.0 1693.86 L863.0 1693.92 L864.0 1693.99 L865.0 1694.05 L866.0 1694.10 L867.0 1694.15 L868.0 1694.20 L869.0 1694.25 L870.0 1694.30 L871.0 1694.34 L872.0 1694.38 L873.0 1694.41 L874.0 1694.45 L875.0 1694.48 L876.0 1694.50 L877.0 1694.53 L878.0 1694.56 L879.0 1694.58 L880.0 1694.60 L881.0 1694.62 L882.0 1694.63 L883.0 1694.65 L884.0 1694.66 L885.0 1694.67 L886.0 1694.69 L887.0 1694.70 L888.0 1694.70 L889.0 1694.71 L890.0 1694.72 L891.0 1694.72 L892.0 1694.73 L893.0 1694.73 L894.0 1694.73 L895.0 1694.74 L896.0 1694.74 L897.0 1694.74 L898.0 1694.74 L899.0 1694.74 L900.0 1694.74 L901.0 1694.74 L902.0 1694.74 L903.0 1694.74 L904.0 1694.74 L905.0 1694.74 L906.0 1694.74 L907.0 1694.74 L908.0 1694.74 L909.0 1694.74 L910.0 1694.74 L911.0 1694.74 L912.0 1694.74 L913.0 1694.74 L914.0 1694.74 L915.0 1694.74 L916.0 1694.73 L917.0 1694.73 L918.0 1694.73 L919.0 1694.72 L920.0 1694.72 L921.0 1694.71 L922.0 1694.70 L923.0 1694.70 L924.0 1694.69 L925.0 1694.67 L926.0 1694.66 L927.0 1694.65 L928.0 1694.63 L929.0 1694.62 L930.0 1694.60 L931.0 1694.58 L932.0 1694.56 L933.0 1694.53 L934.0 1694.50 L935.0 1694.48 L936.0 1694.45 L937.0 1694.41 L938.0 1694.38 L939.0 1694.34 L940.0 1694.30 L941.0 1694.25 L942.0 1694.20 L943.0 1694.15 L944.0 1694.10 L945.0 1694.05 L946.0 1693.99 L947.0 1693.92 L948.0 1693.86 L949.0 1693.78 L950.0 1693.71 L951.0 1693.63 L952.0 1693.55 L953.0 1693.46 L954.0 1693.37 L955.0 1693.28 L956.0 1693.18 L957.0 1693.08 L958.0 1692.97 L959.0 1692.86 L960.0 1692.74 L961.0 1692.62 L962.0 1692.49 L963.0 1692.36 L964.0 1692.22 L965.0 1692.08 L966.0 1691.93 L967.0 1691.78 L968.0 1691.62 L969.0 1691.46 L970.0 1691.29 L971.0 1691.12 L972.0 1690.94 L973.0 1690.75 L974.0 1690.56 L975.0 1690.36 L976.0 1690.16 L977.0 1689.95 L978.0 1689.74 L979.0 1689.52 L980.0 1689.29 L981.0 1689.06 L982.0 1688.82 L983.0 1688.58 L984.0 1688.33 L985.0 1688.07 L986.0 1687.81 L987.0 1687.54 L988.0 1687.27 L989.0 1686.99 L990.0 1686.70 L991.0 1686.41 L992.0 1686.11 L993.0 1685.81 L994.0 1685.50 L995.0 1685.19 L996.0 1684.87 L997.0 1684.54 L998.0 1684.21 L999.0 1683.87 L1000.0 1683.53 L1001.0 1683.18 L1002.0 1682.83 L1003.0 1682.47 L1004.0 1682.11 L1005.0 1681.75 L1006.0 1681.38 L1007.0 1681.00 L1008.0 1680.62 L1009.0 1680.24 L1010.0 1679.85 L1011.0 1679.46 L1012.0 1679.06 L1013.0 1678.66 L1014.0 1678.26 L1015.0 1677.86 L1016.0 1677.45 L1017.0 1677.04 L1018.0 1676.63 L1019.0 1676.22 L1020.0 1675.80 L1021.0 1675.38 L1022.0 1674.96 L1023.0 1674.54 L1024.0 1674.12 L1025.0 1673.70 L1026.0 1673.28 L1027.0 1672.86 L1028.0 1672.43 L1029.0 1672.01 L1030.0 1671.59 L1031.0 1671.17 L1032.0 1670.76 L1033.0 1670.34 L1034.0 1669.93 L1035.0 1669.52 L1036.0 1669.11 L1037.0 1668.70 L1038.0 1668.30 L1039.0 1667.90 L1040.0 1667.51 L1041.0 1667.12 L1042.0 1666.73 L1043.0 1666.35 L1044.0 1665.98 L1045.0 1665.61 L1046.0 1665.24 L1047.0 1664.89 L1048.0 1664.54 L1049.0 1664.19 L1050.0 1663.86 L1051.0 1663.53 L1052.0 1663.21 L1053.0 1662.90 L1054.0 1662.60 L1055.0 1662.30 L1056.0 1662.02 L1057.0 1661.75 L1058.0 1661.48 L1059.0 1661.23 L1060.0 1660.99 L1061.0 1660.75 L1062.0 1660.53 L1063.0 1660.32 L1064.0 1660.13 L1065.0 1659.94 L1066.0 1659.77 L1067.0 1659.61 L1068.0 1659.46 L1069.0 1659.32 L1070.0 1659.20 L1071.0 1659.10 L1072.0 1659.00 L1073.0 1658.92 L1074.0 1658.86 L1075.0 1658.81 L1076.0 1658.77 L1077.0 1658.75 L1078.0 1658.74 L1079.0 1658.75 L1080.0 1658.78 L1081.0 1658.81 L1082.0 1658.87 L1083.0 1658.94 L1084.0 1659.02 L1085.0 1659.13 L1086.0 1659.24 L1087.0 1659.38 L1088.0 1659.52 L1089.0 1659.69 L1090.0 1659.87 L1091.0 1660.07 L1092.0 1660.28 L1093.0 1660.51 L1094.0 1660.75 L1095.0 1661.01 L1096.0 1661.29 L1097.0 1661.58 L1098.0 1661.89 L1099.0 1662.21 L1100.0 1662.55 L1101.0 1662.90 L1102.0 1663.27 L1103.0 1663.65 L1104.0 1664.05 L1105.1 1664.47 L1106.1 1664.89 L1107.1 1665.34 L1108.1 1665.79 L1109.1 1666.27 L1110.1 1666.75 L1111.1 1667.25 L1112.1 1667.76 L1113.1 1668.29 L1114.1 1668.82 L1115.1 1669.37 L1116.1 1669.94 L1117.1 1670.51 L1118.1 1671.10 L1119.1 1671.70 L1120.1 1672.31 L1121.1 1672.93 L1122.1 1673.56 L1123.1 1674.20 L1124.1 1674.86 L1125.1 1675.52 L1126.1 1676.19 L1127.1 1676.87 L1128.1 1677.56 L1129.1 1678.26 L1130.1 1678.97 L1131.1 1679.68 L1132.1 1680.41 L1133.1 1681.14 L1134.1 1681.87 L1135.1 1682.62 L1136.1 1683.37 L1137.1 1684.12 L1138.1 1684.89 L1139.1 1685.65 L1140.1 1686.43 L1141.1 1687.20 L1142.1 1687.98 L1143.1 1688.77 L1144.1 1689.56 L1145.1 1690.35 L1146.1 1691.15 L1147.1 1691.94 L1148.1 1692.74 L1149.1 1693.55 L1150.1 1694.35 L1151.1 1695.16 L1152.1 1695.97 L1153.1 1696.78 L1154.1 1697.58 L1155.1 1698.39 L1156.1 1699.20 L1157.1 1700.01 L1158.1 1700.82 L1159.1 1701.63 L1160.1 1702.44 L1161.1 1703.25 L1162.1 1704.05 L1163.1 1704.85 L1164.1 1705.66 L1165.1 1706.45 L1166.1 1707.25 L1167.1 1708.05 L1168.1 1708.84 L1169.1 1709.63 L1170.1 1710.41 L1171.1 1711.19 L1172.1 1711.97 L1173.1 1712.74 L1174.1 1713.51 L1175.1 1714.28 L1176.1 1715.04 L1177.1 1715.80 L1178.1 1716.55 L1179.1 1717.30 L1180.1 1718.04 L1181.1 1718.78 L1182.1 1719.51 L1183.1 1720.24 L1184.1 1720.96 L1185.1 1721.67 L1186.1 1722.38 L1187.1 1723.08 L1188.1 1723.78 L1189.1 1724.47 L1190.1 1725.16 L1191.1 1725.84 L1192.1 1726.51 L1193.1 1727.17 L1194.1 1727.83 L1195.1 1728.49 L1196.1 1729.13 L1197.1 1729.77 L1198.1 1730.40 L1199.1 1731.03 L1200.1 1731.64 L1201.1 1732.26 L1202.1 1732.86 L1203.1 1733.46 L1204.1 1734.05 L1205.1 1734.63 L1206.1 1735.20 L1207.1 1735.77 L1208.1 1736.33 L1209.1 1736.89 L1210.1 1737.43 L1211.1 1737.97 L1212.1 1738.50 L1213.1 1739.03 L1214.1 1739.55 L1215.1 1740.06 L1216.1 1740.56 L1217.1 1741.05 L1218.1 1741.54 L1219.1 1742.02 L1220.1 1742.49 L1221.1 1742.96 L1222.1 1743.42 L1223.1 1743.87 L1224.1 1744.31 L1225.1 1744.75 L1226.1 1745.18 L1227.1 1745.60 L1228.1 1746.02 L1229.1 1746.43 L1230.1 1746.83 L1231.1 1747.22 L1232.1 1747.61 L1233.1 1747.99 L1234.1 1748.37 L1235.1 1748.74 L1236.1 1749.10 L1237.1 1749.45 L1238.1 1749.80 L1239.1 1750.14 L1240.1 1750.47 L1241.1 1750.80 L1242.1 1751.12 L1243.1 1751.44 L1244.1 1751.75 L1245.1 1752.05 L1246.1 1752.35 L1247.1 1752.64 L1248.1 1752.92 L1249.1 1753.20 L1250.1 1753.47 L1251.1 1753.74 L1252.1 1754.00 L1253.1 1754.26 L1254.1 1754.50 L1255.1 1754.75 L1256.1 1754.99 L1257.1 1755.22 L1258.1 1755.45 L1259.1 1755.67 L1260.1 1755.89 L1261.1 1756.10 L1262.1 1756.31 L1263.1 1756.51 L1264.1 1756.71 L1265.1 1756.90 L1266.1 1757.09 L1267.1 1757.28" fill="none" stroke="#0a9c0a" stroke-width="2.8" stroke-linejoin="round"/>
</svg></body></html>
